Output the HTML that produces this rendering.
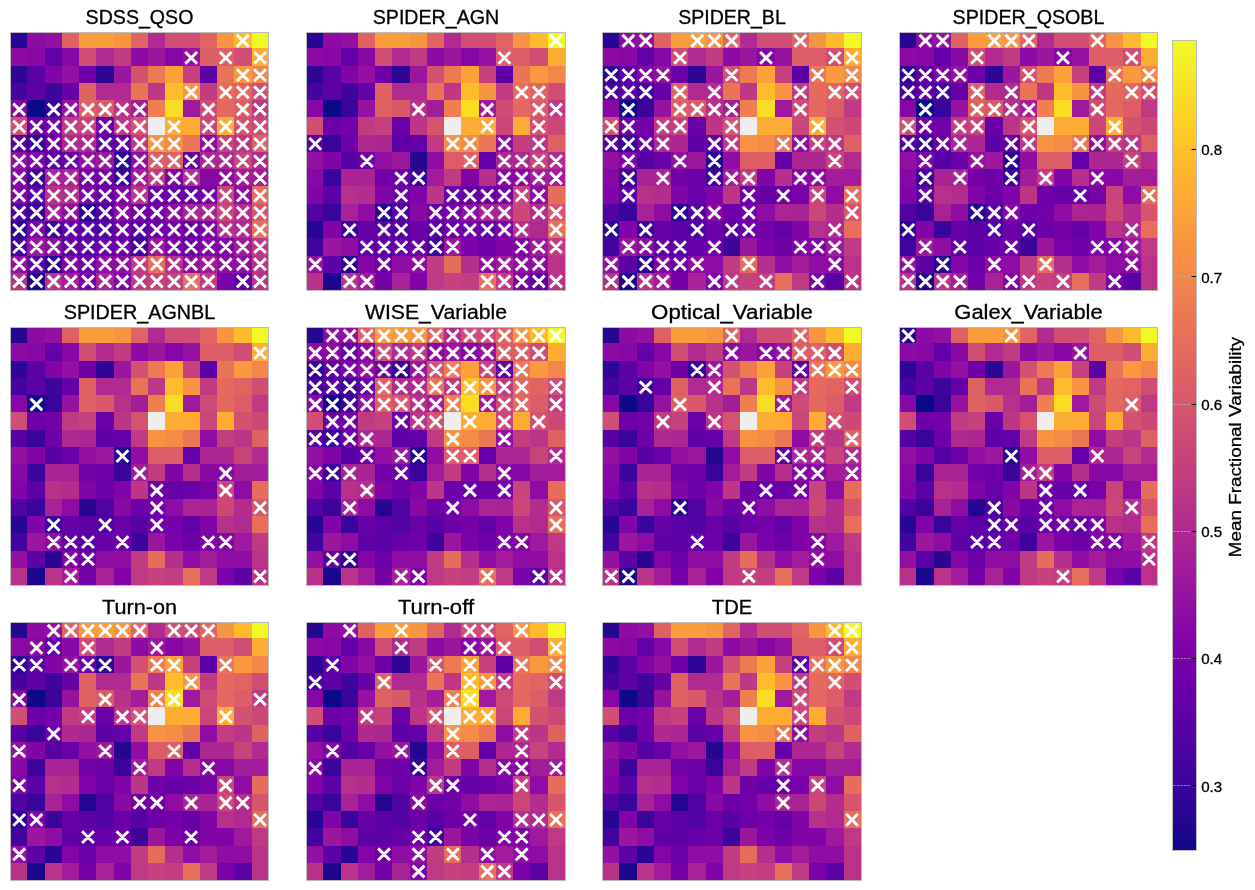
<!DOCTYPE html>
<html><head><meta charset="utf-8"><title>SOM variability</title>
<style>
html,body{margin:0;padding:0;background:#fff;}
body{width:1255px;height:890px;overflow:hidden;}
svg{display:block;will-change:transform;}
text{font-family:"Liberation Sans",sans-serif;fill:#000;stroke:#000;stroke-width:0.3px;}
.t{font-size:19.3px;text-anchor:middle;}
.k{font-size:14px;}
.l{font-size:17.0px;text-anchor:middle;}
.x{stroke:#fff;stroke-width:2.9;fill:none;}
.f{fill:none;stroke:#bcbcbc;stroke-width:1;}
</style></head><body>
<svg width="1255" height="890" viewBox="0 0 1255 890">
<g shape-rendering="crispEdges"><rect x="11" y="33" width="16" height="15" fill="#280592"/><rect x="27" y="33" width="18" height="15" fill="#8d0ba5"/><rect x="45" y="33" width="17" height="15" fill="#9410a2"/><rect x="62" y="33" width="17" height="15" fill="#df6263"/><rect x="79" y="33" width="17" height="15" fill="#fa9c3c"/><rect x="96" y="33" width="18" height="15" fill="#fa9e3b"/><rect x="114" y="33" width="17" height="15" fill="#f89540"/><rect x="131" y="33" width="17" height="15" fill="#e16462"/><rect x="148" y="33" width="17" height="15" fill="#b12a90"/><rect x="165" y="33" width="18" height="15" fill="#d04d73"/><rect x="183" y="33" width="17" height="15" fill="#d04d73"/><rect x="200" y="33" width="17" height="15" fill="#e16462"/><rect x="217" y="33" width="17" height="15" fill="#f89540"/><rect x="234" y="33" width="18" height="15" fill="#feba2c"/><rect x="252" y="33" width="16" height="15" fill="#f0f921"/><rect x="11" y="48" width="16" height="18" fill="#8d0ba5"/><rect x="27" y="48" width="18" height="18" fill="#8808a6"/><rect x="45" y="48" width="17" height="18" fill="#6300a7"/><rect x="62" y="48" width="17" height="18" fill="#8808a6"/><rect x="79" y="48" width="17" height="18" fill="#d04d73"/><rect x="96" y="48" width="18" height="18" fill="#b12a90"/><rect x="114" y="48" width="17" height="18" fill="#c13b82"/><rect x="131" y="48" width="17" height="18" fill="#8d0ba5"/><rect x="148" y="48" width="17" height="18" fill="#9a169f"/><rect x="165" y="48" width="18" height="18" fill="#8606a6"/><rect x="183" y="48" width="17" height="18" fill="#9613a1"/><rect x="200" y="48" width="17" height="18" fill="#dd5e66"/><rect x="217" y="48" width="17" height="18" fill="#dd5e66"/><rect x="234" y="48" width="18" height="18" fill="#d04d73"/><rect x="252" y="48" width="16" height="18" fill="#fdae32"/><rect x="11" y="66" width="16" height="17" fill="#2f0596"/><rect x="27" y="66" width="18" height="17" fill="#5c01a6"/><rect x="45" y="66" width="17" height="17" fill="#8104a7"/><rect x="62" y="66" width="17" height="17" fill="#9410a2"/><rect x="79" y="66" width="17" height="17" fill="#6e00a8"/><rect x="96" y="66" width="18" height="17" fill="#2f0596"/><rect x="114" y="66" width="17" height="17" fill="#9a169f"/><rect x="131" y="66" width="17" height="17" fill="#d35171"/><rect x="148" y="66" width="17" height="17" fill="#ed7a52"/><rect x="165" y="66" width="18" height="17" fill="#fba139"/><rect x="183" y="66" width="17" height="17" fill="#c6417d"/><rect x="200" y="66" width="17" height="17" fill="#5e01a6"/><rect x="217" y="66" width="17" height="17" fill="#ea7457"/><rect x="234" y="66" width="18" height="17" fill="#f9983e"/><rect x="252" y="66" width="16" height="17" fill="#f3874a"/><rect x="11" y="83" width="16" height="17" fill="#46039f"/><rect x="27" y="83" width="18" height="17" fill="#5c01a6"/><rect x="45" y="83" width="17" height="17" fill="#3f049c"/><rect x="62" y="83" width="17" height="17" fill="#6600a7"/><rect x="79" y="83" width="17" height="17" fill="#df6263"/><rect x="96" y="83" width="18" height="17" fill="#b12a90"/><rect x="114" y="83" width="17" height="17" fill="#b12a90"/><rect x="131" y="83" width="17" height="17" fill="#e97257"/><rect x="148" y="83" width="17" height="17" fill="#bd3786"/><rect x="165" y="83" width="18" height="17" fill="#febb2b"/><rect x="183" y="83" width="17" height="17" fill="#f79342"/><rect x="200" y="83" width="17" height="17" fill="#c13b82"/><rect x="217" y="83" width="17" height="17" fill="#e56a5d"/><rect x="234" y="83" width="18" height="17" fill="#e16462"/><rect x="252" y="83" width="16" height="17" fill="#d04d73"/><rect x="11" y="100" width="16" height="17" fill="#8606a6"/><rect x="27" y="100" width="18" height="17" fill="#0d0887"/><rect x="45" y="100" width="17" height="17" fill="#3a049a"/><rect x="62" y="100" width="17" height="17" fill="#9613a1"/><rect x="79" y="100" width="17" height="17" fill="#df6263"/><rect x="96" y="100" width="18" height="17" fill="#d9586a"/><rect x="114" y="100" width="17" height="17" fill="#b7318a"/><rect x="131" y="100" width="17" height="17" fill="#a21d9a"/><rect x="148" y="100" width="17" height="17" fill="#f07f4f"/><rect x="165" y="100" width="18" height="17" fill="#f9dc24"/><rect x="183" y="100" width="17" height="17" fill="#9e199d"/><rect x="200" y="100" width="17" height="17" fill="#ce4b75"/><rect x="217" y="100" width="17" height="17" fill="#e3685f"/><rect x="234" y="100" width="18" height="17" fill="#dc5d67"/><rect x="252" y="100" width="16" height="17" fill="#bf3984"/><rect x="11" y="117" width="16" height="18" fill="#d04d73"/><rect x="27" y="117" width="18" height="18" fill="#6e00a8"/><rect x="45" y="117" width="17" height="18" fill="#7201a8"/><rect x="62" y="117" width="17" height="18" fill="#c13b82"/><rect x="79" y="117" width="17" height="18" fill="#c6417d"/><rect x="96" y="117" width="18" height="18" fill="#6a00a8"/><rect x="114" y="117" width="17" height="18" fill="#bc3587"/><rect x="131" y="117" width="17" height="18" fill="#d5536f"/><rect x="148" y="117" width="17" height="18" fill="#eeeeee"/><rect x="165" y="117" width="18" height="18" fill="#fdac33"/><rect x="183" y="117" width="17" height="18" fill="#fdab33"/><rect x="200" y="117" width="17" height="18" fill="#ca457a"/><rect x="217" y="117" width="17" height="18" fill="#fdac33"/><rect x="234" y="117" width="18" height="18" fill="#d35171"/><rect x="252" y="117" width="16" height="18" fill="#cc4977"/><rect x="11" y="135" width="16" height="17" fill="#5601a4"/><rect x="27" y="135" width="18" height="17" fill="#3a049a"/><rect x="45" y="135" width="17" height="17" fill="#6e00a8"/><rect x="62" y="135" width="17" height="17" fill="#b02991"/><rect x="79" y="135" width="17" height="17" fill="#ad2793"/><rect x="96" y="135" width="18" height="17" fill="#5e01a6"/><rect x="114" y="135" width="17" height="17" fill="#6300a7"/><rect x="131" y="135" width="17" height="17" fill="#bf3984"/><rect x="148" y="135" width="17" height="17" fill="#f79342"/><rect x="165" y="135" width="18" height="17" fill="#f58c46"/><rect x="183" y="135" width="17" height="17" fill="#eb7655"/><rect x="200" y="135" width="17" height="17" fill="#8f0da4"/><rect x="217" y="135" width="17" height="17" fill="#c33d80"/><rect x="234" y="135" width="18" height="17" fill="#bc3587"/><rect x="252" y="135" width="16" height="17" fill="#df6263"/><rect x="11" y="152" width="16" height="17" fill="#9410a2"/><rect x="27" y="152" width="18" height="17" fill="#8104a7"/><rect x="45" y="152" width="17" height="17" fill="#5601a4"/><rect x="62" y="152" width="17" height="17" fill="#6a00a8"/><rect x="79" y="152" width="17" height="17" fill="#9410a2"/><rect x="96" y="152" width="18" height="17" fill="#9c179e"/><rect x="114" y="152" width="17" height="17" fill="#260591"/><rect x="131" y="152" width="17" height="17" fill="#8f0da4"/><rect x="148" y="152" width="17" height="17" fill="#dc5d67"/><rect x="165" y="152" width="18" height="17" fill="#dd5e66"/><rect x="183" y="152" width="17" height="17" fill="#6300a7"/><rect x="200" y="152" width="17" height="17" fill="#ad2793"/><rect x="217" y="152" width="17" height="17" fill="#ad2793"/><rect x="234" y="152" width="18" height="17" fill="#c8437b"/><rect x="252" y="152" width="16" height="17" fill="#b12a90"/><rect x="11" y="169" width="16" height="17" fill="#8808a6"/><rect x="27" y="169" width="18" height="17" fill="#3a049a"/><rect x="45" y="169" width="17" height="17" fill="#aa2395"/><rect x="62" y="169" width="17" height="17" fill="#aa2395"/><rect x="79" y="169" width="17" height="17" fill="#7201a8"/><rect x="96" y="169" width="18" height="17" fill="#6e00a8"/><rect x="114" y="169" width="17" height="17" fill="#3a049a"/><rect x="131" y="169" width="17" height="17" fill="#a11b9b"/><rect x="148" y="169" width="17" height="17" fill="#c13b82"/><rect x="165" y="169" width="18" height="17" fill="#8104a7"/><rect x="183" y="169" width="17" height="17" fill="#b52f8c"/><rect x="200" y="169" width="17" height="17" fill="#8808a6"/><rect x="217" y="169" width="17" height="17" fill="#8808a6"/><rect x="234" y="169" width="18" height="17" fill="#a21d9a"/><rect x="252" y="169" width="16" height="17" fill="#a11b9b"/><rect x="11" y="186" width="16" height="18" fill="#8004a8"/><rect x="27" y="186" width="18" height="18" fill="#5c01a6"/><rect x="45" y="186" width="17" height="18" fill="#b7318a"/><rect x="62" y="186" width="17" height="18" fill="#b32c8e"/><rect x="79" y="186" width="17" height="18" fill="#8004a8"/><rect x="96" y="186" width="18" height="18" fill="#6a00a8"/><rect x="114" y="186" width="17" height="18" fill="#8004a8"/><rect x="131" y="186" width="17" height="18" fill="#bc3587"/><rect x="148" y="186" width="17" height="18" fill="#6e00a8"/><rect x="165" y="186" width="18" height="18" fill="#6600a7"/><rect x="183" y="186" width="17" height="18" fill="#6a00a8"/><rect x="200" y="186" width="17" height="18" fill="#7801a8"/><rect x="217" y="186" width="17" height="18" fill="#c9447a"/><rect x="234" y="186" width="18" height="18" fill="#8e0ca4"/><rect x="252" y="186" width="16" height="18" fill="#e66c5c"/><rect x="11" y="204" width="16" height="17" fill="#5002a2"/><rect x="27" y="204" width="18" height="17" fill="#3a049a"/><rect x="45" y="204" width="17" height="17" fill="#a72197"/><rect x="62" y="204" width="17" height="17" fill="#8e0ca4"/><rect x="79" y="204" width="17" height="17" fill="#260591"/><rect x="96" y="204" width="18" height="17" fill="#5002a2"/><rect x="114" y="204" width="17" height="17" fill="#8a09a5"/><rect x="131" y="204" width="17" height="17" fill="#6e00a8"/><rect x="148" y="204" width="17" height="17" fill="#7201a8"/><rect x="165" y="204" width="18" height="17" fill="#8e0ca4"/><rect x="183" y="204" width="17" height="17" fill="#ab2494"/><rect x="200" y="204" width="17" height="17" fill="#aa2395"/><rect x="217" y="204" width="17" height="17" fill="#cc4778"/><rect x="234" y="204" width="18" height="17" fill="#b32c8e"/><rect x="252" y="204" width="16" height="17" fill="#d6556d"/><rect x="11" y="221" width="16" height="17" fill="#280592"/><rect x="27" y="221" width="18" height="17" fill="#8004a8"/><rect x="45" y="221" width="17" height="17" fill="#3a049a"/><rect x="62" y="221" width="17" height="17" fill="#6600a7"/><rect x="79" y="221" width="17" height="17" fill="#5c01a6"/><rect x="96" y="221" width="18" height="17" fill="#5002a2"/><rect x="114" y="221" width="17" height="17" fill="#6a00a8"/><rect x="131" y="221" width="17" height="17" fill="#5801a4"/><rect x="148" y="221" width="17" height="17" fill="#6e00a8"/><rect x="165" y="221" width="18" height="17" fill="#7501a8"/><rect x="183" y="221" width="17" height="17" fill="#6300a7"/><rect x="200" y="221" width="17" height="17" fill="#8004a8"/><rect x="217" y="221" width="17" height="17" fill="#b7318a"/><rect x="234" y="221" width="18" height="17" fill="#b12a90"/><rect x="252" y="221" width="16" height="17" fill="#e76e5b"/><rect x="11" y="238" width="16" height="18" fill="#43039e"/><rect x="27" y="238" width="18" height="18" fill="#9a169f"/><rect x="45" y="238" width="17" height="18" fill="#8e0ca4"/><rect x="62" y="238" width="17" height="18" fill="#6001a6"/><rect x="79" y="238" width="17" height="18" fill="#5c01a6"/><rect x="96" y="238" width="18" height="18" fill="#6700a8"/><rect x="114" y="238" width="17" height="18" fill="#6e00a8"/><rect x="131" y="238" width="17" height="18" fill="#3f049c"/><rect x="148" y="238" width="17" height="18" fill="#9a169f"/><rect x="165" y="238" width="18" height="18" fill="#7a02a8"/><rect x="183" y="238" width="17" height="18" fill="#6e00a8"/><rect x="200" y="238" width="17" height="18" fill="#8004a8"/><rect x="217" y="238" width="17" height="18" fill="#8104a7"/><rect x="234" y="238" width="18" height="18" fill="#9e199d"/><rect x="252" y="238" width="16" height="18" fill="#bf3984"/><rect x="11" y="256" width="16" height="17" fill="#9410a2"/><rect x="27" y="256" width="18" height="17" fill="#5c01a6"/><rect x="45" y="256" width="17" height="17" fill="#2a0593"/><rect x="62" y="256" width="17" height="17" fill="#8305a7"/><rect x="79" y="256" width="17" height="17" fill="#6c00a8"/><rect x="96" y="256" width="18" height="17" fill="#8e0ca4"/><rect x="114" y="256" width="17" height="17" fill="#8f0da4"/><rect x="131" y="256" width="17" height="17" fill="#c13b82"/><rect x="148" y="256" width="17" height="17" fill="#e66c5c"/><rect x="165" y="256" width="18" height="17" fill="#b52f8c"/><rect x="183" y="256" width="17" height="17" fill="#8f0da4"/><rect x="200" y="256" width="17" height="17" fill="#a11b9b"/><rect x="217" y="256" width="17" height="17" fill="#8f0da4"/><rect x="234" y="256" width="18" height="17" fill="#8e0ca4"/><rect x="252" y="256" width="16" height="17" fill="#ba3388"/><rect x="11" y="273" width="16" height="17" fill="#b7318a"/><rect x="27" y="273" width="18" height="17" fill="#1b068d"/><rect x="45" y="273" width="17" height="17" fill="#ba3388"/><rect x="62" y="273" width="17" height="17" fill="#a11b9b"/><rect x="79" y="273" width="17" height="17" fill="#7501a8"/><rect x="96" y="273" width="18" height="17" fill="#a72197"/><rect x="114" y="273" width="17" height="17" fill="#8004a8"/><rect x="131" y="273" width="17" height="17" fill="#bf3984"/><rect x="148" y="273" width="17" height="17" fill="#c6417d"/><rect x="165" y="273" width="18" height="17" fill="#c33d80"/><rect x="183" y="273" width="17" height="17" fill="#e76e5b"/><rect x="200" y="273" width="17" height="17" fill="#bf3984"/><rect x="217" y="273" width="17" height="17" fill="#7a02a8"/><rect x="234" y="273" width="18" height="17" fill="#5c01a6"/><rect x="252" y="273" width="16" height="17" fill="#ba3388"/></g>
<path class="x" d="M236.9 34.9l11.8 11.8m-11.8 0l11.8 -11.8M185.3 52.0l11.8 11.8m-11.8 0l11.8 -11.8M219.8 52.0l11.8 11.8m-11.8 0l11.8 -11.8M254.1 52.0l11.8 11.8m-11.8 0l11.8 -11.8M236.9 69.2l11.8 11.8m-11.8 0l11.8 -11.8M254.1 69.2l11.8 11.8m-11.8 0l11.8 -11.8M185.3 86.4l11.8 11.8m-11.8 0l11.8 -11.8M219.8 86.4l11.8 11.8m-11.8 0l11.8 -11.8M236.9 86.4l11.8 11.8m-11.8 0l11.8 -11.8M254.1 86.4l11.8 11.8m-11.8 0l11.8 -11.8M13.3 103.6l11.8 11.8m-11.8 0l11.8 -11.8M47.8 103.6l11.8 11.8m-11.8 0l11.8 -11.8M64.9 103.6l11.8 11.8m-11.8 0l11.8 -11.8M82.1 103.6l11.8 11.8m-11.8 0l11.8 -11.8M99.3 103.6l11.8 11.8m-11.8 0l11.8 -11.8M116.5 103.6l11.8 11.8m-11.8 0l11.8 -11.8M133.8 103.6l11.8 11.8m-11.8 0l11.8 -11.8M202.5 103.6l11.8 11.8m-11.8 0l11.8 -11.8M236.9 103.6l11.8 11.8m-11.8 0l11.8 -11.8M254.1 103.6l11.8 11.8m-11.8 0l11.8 -11.8M13.3 120.8l11.8 11.8m-11.8 0l11.8 -11.8M30.5 120.8l11.8 11.8m-11.8 0l11.8 -11.8M47.8 120.8l11.8 11.8m-11.8 0l11.8 -11.8M64.9 120.8l11.8 11.8m-11.8 0l11.8 -11.8M82.1 120.8l11.8 11.8m-11.8 0l11.8 -11.8M99.3 120.8l11.8 11.8m-11.8 0l11.8 -11.8M116.5 120.8l11.8 11.8m-11.8 0l11.8 -11.8M133.8 120.8l11.8 11.8m-11.8 0l11.8 -11.8M168.2 120.8l11.8 11.8m-11.8 0l11.8 -11.8M202.5 120.8l11.8 11.8m-11.8 0l11.8 -11.8M219.8 120.8l11.8 11.8m-11.8 0l11.8 -11.8M236.9 120.8l11.8 11.8m-11.8 0l11.8 -11.8M254.1 120.8l11.8 11.8m-11.8 0l11.8 -11.8M13.3 138.0l11.8 11.8m-11.8 0l11.8 -11.8M30.5 138.0l11.8 11.8m-11.8 0l11.8 -11.8M47.8 138.0l11.8 11.8m-11.8 0l11.8 -11.8M64.9 138.0l11.8 11.8m-11.8 0l11.8 -11.8M82.1 138.0l11.8 11.8m-11.8 0l11.8 -11.8M99.3 138.0l11.8 11.8m-11.8 0l11.8 -11.8M116.5 138.0l11.8 11.8m-11.8 0l11.8 -11.8M133.8 138.0l11.8 11.8m-11.8 0l11.8 -11.8M150.9 138.0l11.8 11.8m-11.8 0l11.8 -11.8M168.2 138.0l11.8 11.8m-11.8 0l11.8 -11.8M202.5 138.0l11.8 11.8m-11.8 0l11.8 -11.8M219.8 138.0l11.8 11.8m-11.8 0l11.8 -11.8M236.9 138.0l11.8 11.8m-11.8 0l11.8 -11.8M254.1 138.0l11.8 11.8m-11.8 0l11.8 -11.8M13.3 155.2l11.8 11.8m-11.8 0l11.8 -11.8M30.5 155.2l11.8 11.8m-11.8 0l11.8 -11.8M47.8 155.2l11.8 11.8m-11.8 0l11.8 -11.8M64.9 155.2l11.8 11.8m-11.8 0l11.8 -11.8M82.1 155.2l11.8 11.8m-11.8 0l11.8 -11.8M99.3 155.2l11.8 11.8m-11.8 0l11.8 -11.8M116.5 155.2l11.8 11.8m-11.8 0l11.8 -11.8M133.8 155.2l11.8 11.8m-11.8 0l11.8 -11.8M150.9 155.2l11.8 11.8m-11.8 0l11.8 -11.8M168.2 155.2l11.8 11.8m-11.8 0l11.8 -11.8M185.3 155.2l11.8 11.8m-11.8 0l11.8 -11.8M202.5 155.2l11.8 11.8m-11.8 0l11.8 -11.8M219.8 155.2l11.8 11.8m-11.8 0l11.8 -11.8M236.9 155.2l11.8 11.8m-11.8 0l11.8 -11.8M254.1 155.2l11.8 11.8m-11.8 0l11.8 -11.8M13.3 172.4l11.8 11.8m-11.8 0l11.8 -11.8M30.5 172.4l11.8 11.8m-11.8 0l11.8 -11.8M47.8 172.4l11.8 11.8m-11.8 0l11.8 -11.8M64.9 172.4l11.8 11.8m-11.8 0l11.8 -11.8M82.1 172.4l11.8 11.8m-11.8 0l11.8 -11.8M99.3 172.4l11.8 11.8m-11.8 0l11.8 -11.8M116.5 172.4l11.8 11.8m-11.8 0l11.8 -11.8M133.8 172.4l11.8 11.8m-11.8 0l11.8 -11.8M150.9 172.4l11.8 11.8m-11.8 0l11.8 -11.8M168.2 172.4l11.8 11.8m-11.8 0l11.8 -11.8M185.3 172.4l11.8 11.8m-11.8 0l11.8 -11.8M219.8 172.4l11.8 11.8m-11.8 0l11.8 -11.8M236.9 172.4l11.8 11.8m-11.8 0l11.8 -11.8M254.1 172.4l11.8 11.8m-11.8 0l11.8 -11.8M13.3 189.7l11.8 11.8m-11.8 0l11.8 -11.8M30.5 189.7l11.8 11.8m-11.8 0l11.8 -11.8M47.8 189.7l11.8 11.8m-11.8 0l11.8 -11.8M64.9 189.7l11.8 11.8m-11.8 0l11.8 -11.8M82.1 189.7l11.8 11.8m-11.8 0l11.8 -11.8M99.3 189.7l11.8 11.8m-11.8 0l11.8 -11.8M116.5 189.7l11.8 11.8m-11.8 0l11.8 -11.8M133.8 189.7l11.8 11.8m-11.8 0l11.8 -11.8M150.9 189.7l11.8 11.8m-11.8 0l11.8 -11.8M168.2 189.7l11.8 11.8m-11.8 0l11.8 -11.8M185.3 189.7l11.8 11.8m-11.8 0l11.8 -11.8M202.5 189.7l11.8 11.8m-11.8 0l11.8 -11.8M219.8 189.7l11.8 11.8m-11.8 0l11.8 -11.8M236.9 189.7l11.8 11.8m-11.8 0l11.8 -11.8M254.1 189.7l11.8 11.8m-11.8 0l11.8 -11.8M13.3 206.8l11.8 11.8m-11.8 0l11.8 -11.8M30.5 206.8l11.8 11.8m-11.8 0l11.8 -11.8M47.8 206.8l11.8 11.8m-11.8 0l11.8 -11.8M64.9 206.8l11.8 11.8m-11.8 0l11.8 -11.8M82.1 206.8l11.8 11.8m-11.8 0l11.8 -11.8M99.3 206.8l11.8 11.8m-11.8 0l11.8 -11.8M116.5 206.8l11.8 11.8m-11.8 0l11.8 -11.8M133.8 206.8l11.8 11.8m-11.8 0l11.8 -11.8M150.9 206.8l11.8 11.8m-11.8 0l11.8 -11.8M168.2 206.8l11.8 11.8m-11.8 0l11.8 -11.8M185.3 206.8l11.8 11.8m-11.8 0l11.8 -11.8M202.5 206.8l11.8 11.8m-11.8 0l11.8 -11.8M219.8 206.8l11.8 11.8m-11.8 0l11.8 -11.8M236.9 206.8l11.8 11.8m-11.8 0l11.8 -11.8M254.1 206.8l11.8 11.8m-11.8 0l11.8 -11.8M13.3 224.0l11.8 11.8m-11.8 0l11.8 -11.8M30.5 224.0l11.8 11.8m-11.8 0l11.8 -11.8M47.8 224.0l11.8 11.8m-11.8 0l11.8 -11.8M64.9 224.0l11.8 11.8m-11.8 0l11.8 -11.8M82.1 224.0l11.8 11.8m-11.8 0l11.8 -11.8M99.3 224.0l11.8 11.8m-11.8 0l11.8 -11.8M116.5 224.0l11.8 11.8m-11.8 0l11.8 -11.8M133.8 224.0l11.8 11.8m-11.8 0l11.8 -11.8M150.9 224.0l11.8 11.8m-11.8 0l11.8 -11.8M168.2 224.0l11.8 11.8m-11.8 0l11.8 -11.8M185.3 224.0l11.8 11.8m-11.8 0l11.8 -11.8M202.5 224.0l11.8 11.8m-11.8 0l11.8 -11.8M219.8 224.0l11.8 11.8m-11.8 0l11.8 -11.8M236.9 224.0l11.8 11.8m-11.8 0l11.8 -11.8M254.1 224.0l11.8 11.8m-11.8 0l11.8 -11.8M13.3 241.2l11.8 11.8m-11.8 0l11.8 -11.8M30.5 241.2l11.8 11.8m-11.8 0l11.8 -11.8M47.8 241.2l11.8 11.8m-11.8 0l11.8 -11.8M64.9 241.2l11.8 11.8m-11.8 0l11.8 -11.8M82.1 241.2l11.8 11.8m-11.8 0l11.8 -11.8M99.3 241.2l11.8 11.8m-11.8 0l11.8 -11.8M116.5 241.2l11.8 11.8m-11.8 0l11.8 -11.8M133.8 241.2l11.8 11.8m-11.8 0l11.8 -11.8M150.9 241.2l11.8 11.8m-11.8 0l11.8 -11.8M168.2 241.2l11.8 11.8m-11.8 0l11.8 -11.8M185.3 241.2l11.8 11.8m-11.8 0l11.8 -11.8M202.5 241.2l11.8 11.8m-11.8 0l11.8 -11.8M219.8 241.2l11.8 11.8m-11.8 0l11.8 -11.8M236.9 241.2l11.8 11.8m-11.8 0l11.8 -11.8M254.1 241.2l11.8 11.8m-11.8 0l11.8 -11.8M13.3 258.4l11.8 11.8m-11.8 0l11.8 -11.8M30.5 258.4l11.8 11.8m-11.8 0l11.8 -11.8M47.8 258.4l11.8 11.8m-11.8 0l11.8 -11.8M64.9 258.4l11.8 11.8m-11.8 0l11.8 -11.8M82.1 258.4l11.8 11.8m-11.8 0l11.8 -11.8M99.3 258.4l11.8 11.8m-11.8 0l11.8 -11.8M116.5 258.4l11.8 11.8m-11.8 0l11.8 -11.8M133.8 258.4l11.8 11.8m-11.8 0l11.8 -11.8M150.9 258.4l11.8 11.8m-11.8 0l11.8 -11.8M168.2 258.4l11.8 11.8m-11.8 0l11.8 -11.8M185.3 258.4l11.8 11.8m-11.8 0l11.8 -11.8M202.5 258.4l11.8 11.8m-11.8 0l11.8 -11.8M219.8 258.4l11.8 11.8m-11.8 0l11.8 -11.8M236.9 258.4l11.8 11.8m-11.8 0l11.8 -11.8M254.1 258.4l11.8 11.8m-11.8 0l11.8 -11.8M13.3 275.6l11.8 11.8m-11.8 0l11.8 -11.8M30.5 275.6l11.8 11.8m-11.8 0l11.8 -11.8M47.8 275.6l11.8 11.8m-11.8 0l11.8 -11.8M64.9 275.6l11.8 11.8m-11.8 0l11.8 -11.8M82.1 275.6l11.8 11.8m-11.8 0l11.8 -11.8M99.3 275.6l11.8 11.8m-11.8 0l11.8 -11.8M116.5 275.6l11.8 11.8m-11.8 0l11.8 -11.8M133.8 275.6l11.8 11.8m-11.8 0l11.8 -11.8M150.9 275.6l11.8 11.8m-11.8 0l11.8 -11.8M168.2 275.6l11.8 11.8m-11.8 0l11.8 -11.8M185.3 275.6l11.8 11.8m-11.8 0l11.8 -11.8M202.5 275.6l11.8 11.8m-11.8 0l11.8 -11.8M236.9 275.6l11.8 11.8m-11.8 0l11.8 -11.8M254.1 275.6l11.8 11.8m-11.8 0l11.8 -11.8"/>
<rect class="f" x="10.5" y="32.5" width="258.0" height="258.0"/>
<text class="t" x="139.5" y="23.8" textLength="107.8" lengthAdjust="spacingAndGlyphs">SDSS_QSO</text>
<g shape-rendering="crispEdges"><rect x="307" y="33" width="16" height="15" fill="#280592"/><rect x="323" y="33" width="18" height="15" fill="#8d0ba5"/><rect x="341" y="33" width="17" height="15" fill="#9410a2"/><rect x="358" y="33" width="17" height="15" fill="#df6263"/><rect x="375" y="33" width="17" height="15" fill="#fa9c3c"/><rect x="392" y="33" width="18" height="15" fill="#fa9e3b"/><rect x="410" y="33" width="17" height="15" fill="#f89540"/><rect x="427" y="33" width="17" height="15" fill="#e16462"/><rect x="444" y="33" width="17" height="15" fill="#b12a90"/><rect x="461" y="33" width="18" height="15" fill="#d04d73"/><rect x="479" y="33" width="17" height="15" fill="#d04d73"/><rect x="496" y="33" width="17" height="15" fill="#e16462"/><rect x="513" y="33" width="17" height="15" fill="#f89540"/><rect x="530" y="33" width="18" height="15" fill="#feba2c"/><rect x="548" y="33" width="17" height="15" fill="#f0f921"/><rect x="307" y="48" width="16" height="18" fill="#8d0ba5"/><rect x="323" y="48" width="18" height="18" fill="#8808a6"/><rect x="341" y="48" width="17" height="18" fill="#6300a7"/><rect x="358" y="48" width="17" height="18" fill="#8808a6"/><rect x="375" y="48" width="17" height="18" fill="#d04d73"/><rect x="392" y="48" width="18" height="18" fill="#b12a90"/><rect x="410" y="48" width="17" height="18" fill="#c13b82"/><rect x="427" y="48" width="17" height="18" fill="#8d0ba5"/><rect x="444" y="48" width="17" height="18" fill="#9a169f"/><rect x="461" y="48" width="18" height="18" fill="#8606a6"/><rect x="479" y="48" width="17" height="18" fill="#9613a1"/><rect x="496" y="48" width="17" height="18" fill="#dd5e66"/><rect x="513" y="48" width="17" height="18" fill="#dd5e66"/><rect x="530" y="48" width="18" height="18" fill="#d04d73"/><rect x="548" y="48" width="17" height="18" fill="#fdae32"/><rect x="307" y="66" width="16" height="17" fill="#2f0596"/><rect x="323" y="66" width="18" height="17" fill="#5c01a6"/><rect x="341" y="66" width="17" height="17" fill="#8104a7"/><rect x="358" y="66" width="17" height="17" fill="#9410a2"/><rect x="375" y="66" width="17" height="17" fill="#6e00a8"/><rect x="392" y="66" width="18" height="17" fill="#2f0596"/><rect x="410" y="66" width="17" height="17" fill="#9a169f"/><rect x="427" y="66" width="17" height="17" fill="#d35171"/><rect x="444" y="66" width="17" height="17" fill="#ed7a52"/><rect x="461" y="66" width="18" height="17" fill="#fba139"/><rect x="479" y="66" width="17" height="17" fill="#c6417d"/><rect x="496" y="66" width="17" height="17" fill="#5e01a6"/><rect x="513" y="66" width="17" height="17" fill="#ea7457"/><rect x="530" y="66" width="18" height="17" fill="#f9983e"/><rect x="548" y="66" width="17" height="17" fill="#f3874a"/><rect x="307" y="83" width="16" height="17" fill="#46039f"/><rect x="323" y="83" width="18" height="17" fill="#5c01a6"/><rect x="341" y="83" width="17" height="17" fill="#3f049c"/><rect x="358" y="83" width="17" height="17" fill="#6600a7"/><rect x="375" y="83" width="17" height="17" fill="#df6263"/><rect x="392" y="83" width="18" height="17" fill="#b12a90"/><rect x="410" y="83" width="17" height="17" fill="#b12a90"/><rect x="427" y="83" width="17" height="17" fill="#e97257"/><rect x="444" y="83" width="17" height="17" fill="#bd3786"/><rect x="461" y="83" width="18" height="17" fill="#febb2b"/><rect x="479" y="83" width="17" height="17" fill="#f79342"/><rect x="496" y="83" width="17" height="17" fill="#c13b82"/><rect x="513" y="83" width="17" height="17" fill="#e56a5d"/><rect x="530" y="83" width="18" height="17" fill="#e16462"/><rect x="548" y="83" width="17" height="17" fill="#d04d73"/><rect x="307" y="100" width="16" height="17" fill="#8606a6"/><rect x="323" y="100" width="18" height="17" fill="#0d0887"/><rect x="341" y="100" width="17" height="17" fill="#3a049a"/><rect x="358" y="100" width="17" height="17" fill="#9613a1"/><rect x="375" y="100" width="17" height="17" fill="#df6263"/><rect x="392" y="100" width="18" height="17" fill="#d9586a"/><rect x="410" y="100" width="17" height="17" fill="#b7318a"/><rect x="427" y="100" width="17" height="17" fill="#a21d9a"/><rect x="444" y="100" width="17" height="17" fill="#f07f4f"/><rect x="461" y="100" width="18" height="17" fill="#f9dc24"/><rect x="479" y="100" width="17" height="17" fill="#9e199d"/><rect x="496" y="100" width="17" height="17" fill="#ce4b75"/><rect x="513" y="100" width="17" height="17" fill="#e3685f"/><rect x="530" y="100" width="18" height="17" fill="#dc5d67"/><rect x="548" y="100" width="17" height="17" fill="#bf3984"/><rect x="307" y="117" width="16" height="18" fill="#d04d73"/><rect x="323" y="117" width="18" height="18" fill="#6e00a8"/><rect x="341" y="117" width="17" height="18" fill="#7201a8"/><rect x="358" y="117" width="17" height="18" fill="#c13b82"/><rect x="375" y="117" width="17" height="18" fill="#c6417d"/><rect x="392" y="117" width="18" height="18" fill="#6a00a8"/><rect x="410" y="117" width="17" height="18" fill="#bc3587"/><rect x="427" y="117" width="17" height="18" fill="#d5536f"/><rect x="444" y="117" width="17" height="18" fill="#eeeeee"/><rect x="461" y="117" width="18" height="18" fill="#fdac33"/><rect x="479" y="117" width="17" height="18" fill="#fdab33"/><rect x="496" y="117" width="17" height="18" fill="#ca457a"/><rect x="513" y="117" width="17" height="18" fill="#fdac33"/><rect x="530" y="117" width="18" height="18" fill="#d35171"/><rect x="548" y="117" width="17" height="18" fill="#cc4977"/><rect x="307" y="135" width="16" height="17" fill="#5601a4"/><rect x="323" y="135" width="18" height="17" fill="#3a049a"/><rect x="341" y="135" width="17" height="17" fill="#6e00a8"/><rect x="358" y="135" width="17" height="17" fill="#b02991"/><rect x="375" y="135" width="17" height="17" fill="#ad2793"/><rect x="392" y="135" width="18" height="17" fill="#5e01a6"/><rect x="410" y="135" width="17" height="17" fill="#6300a7"/><rect x="427" y="135" width="17" height="17" fill="#bf3984"/><rect x="444" y="135" width="17" height="17" fill="#f79342"/><rect x="461" y="135" width="18" height="17" fill="#f58c46"/><rect x="479" y="135" width="17" height="17" fill="#eb7655"/><rect x="496" y="135" width="17" height="17" fill="#8f0da4"/><rect x="513" y="135" width="17" height="17" fill="#c33d80"/><rect x="530" y="135" width="18" height="17" fill="#bc3587"/><rect x="548" y="135" width="17" height="17" fill="#df6263"/><rect x="307" y="152" width="16" height="17" fill="#9410a2"/><rect x="323" y="152" width="18" height="17" fill="#8104a7"/><rect x="341" y="152" width="17" height="17" fill="#5601a4"/><rect x="358" y="152" width="17" height="17" fill="#6a00a8"/><rect x="375" y="152" width="17" height="17" fill="#9410a2"/><rect x="392" y="152" width="18" height="17" fill="#9c179e"/><rect x="410" y="152" width="17" height="17" fill="#260591"/><rect x="427" y="152" width="17" height="17" fill="#8f0da4"/><rect x="444" y="152" width="17" height="17" fill="#dc5d67"/><rect x="461" y="152" width="18" height="17" fill="#dd5e66"/><rect x="479" y="152" width="17" height="17" fill="#6300a7"/><rect x="496" y="152" width="17" height="17" fill="#ad2793"/><rect x="513" y="152" width="17" height="17" fill="#ad2793"/><rect x="530" y="152" width="18" height="17" fill="#c8437b"/><rect x="548" y="152" width="17" height="17" fill="#b12a90"/><rect x="307" y="169" width="16" height="17" fill="#8808a6"/><rect x="323" y="169" width="18" height="17" fill="#3a049a"/><rect x="341" y="169" width="17" height="17" fill="#aa2395"/><rect x="358" y="169" width="17" height="17" fill="#aa2395"/><rect x="375" y="169" width="17" height="17" fill="#7201a8"/><rect x="392" y="169" width="18" height="17" fill="#6e00a8"/><rect x="410" y="169" width="17" height="17" fill="#3a049a"/><rect x="427" y="169" width="17" height="17" fill="#a11b9b"/><rect x="444" y="169" width="17" height="17" fill="#c13b82"/><rect x="461" y="169" width="18" height="17" fill="#8104a7"/><rect x="479" y="169" width="17" height="17" fill="#b52f8c"/><rect x="496" y="169" width="17" height="17" fill="#8808a6"/><rect x="513" y="169" width="17" height="17" fill="#8808a6"/><rect x="530" y="169" width="18" height="17" fill="#a21d9a"/><rect x="548" y="169" width="17" height="17" fill="#a11b9b"/><rect x="307" y="186" width="16" height="18" fill="#8004a8"/><rect x="323" y="186" width="18" height="18" fill="#5c01a6"/><rect x="341" y="186" width="17" height="18" fill="#b7318a"/><rect x="358" y="186" width="17" height="18" fill="#b32c8e"/><rect x="375" y="186" width="17" height="18" fill="#8004a8"/><rect x="392" y="186" width="18" height="18" fill="#6a00a8"/><rect x="410" y="186" width="17" height="18" fill="#8004a8"/><rect x="427" y="186" width="17" height="18" fill="#bc3587"/><rect x="444" y="186" width="17" height="18" fill="#6e00a8"/><rect x="461" y="186" width="18" height="18" fill="#6600a7"/><rect x="479" y="186" width="17" height="18" fill="#6a00a8"/><rect x="496" y="186" width="17" height="18" fill="#7801a8"/><rect x="513" y="186" width="17" height="18" fill="#c9447a"/><rect x="530" y="186" width="18" height="18" fill="#8e0ca4"/><rect x="548" y="186" width="17" height="18" fill="#e66c5c"/><rect x="307" y="204" width="16" height="17" fill="#5002a2"/><rect x="323" y="204" width="18" height="17" fill="#3a049a"/><rect x="341" y="204" width="17" height="17" fill="#a72197"/><rect x="358" y="204" width="17" height="17" fill="#8e0ca4"/><rect x="375" y="204" width="17" height="17" fill="#260591"/><rect x="392" y="204" width="18" height="17" fill="#5002a2"/><rect x="410" y="204" width="17" height="17" fill="#8a09a5"/><rect x="427" y="204" width="17" height="17" fill="#6e00a8"/><rect x="444" y="204" width="17" height="17" fill="#7201a8"/><rect x="461" y="204" width="18" height="17" fill="#8e0ca4"/><rect x="479" y="204" width="17" height="17" fill="#ab2494"/><rect x="496" y="204" width="17" height="17" fill="#aa2395"/><rect x="513" y="204" width="17" height="17" fill="#cc4778"/><rect x="530" y="204" width="18" height="17" fill="#b32c8e"/><rect x="548" y="204" width="17" height="17" fill="#d6556d"/><rect x="307" y="221" width="16" height="17" fill="#280592"/><rect x="323" y="221" width="18" height="17" fill="#8004a8"/><rect x="341" y="221" width="17" height="17" fill="#3a049a"/><rect x="358" y="221" width="17" height="17" fill="#6600a7"/><rect x="375" y="221" width="17" height="17" fill="#5c01a6"/><rect x="392" y="221" width="18" height="17" fill="#5002a2"/><rect x="410" y="221" width="17" height="17" fill="#6a00a8"/><rect x="427" y="221" width="17" height="17" fill="#5801a4"/><rect x="444" y="221" width="17" height="17" fill="#6e00a8"/><rect x="461" y="221" width="18" height="17" fill="#7501a8"/><rect x="479" y="221" width="17" height="17" fill="#6300a7"/><rect x="496" y="221" width="17" height="17" fill="#8004a8"/><rect x="513" y="221" width="17" height="17" fill="#b7318a"/><rect x="530" y="221" width="18" height="17" fill="#b12a90"/><rect x="548" y="221" width="17" height="17" fill="#e76e5b"/><rect x="307" y="238" width="16" height="18" fill="#43039e"/><rect x="323" y="238" width="18" height="18" fill="#9a169f"/><rect x="341" y="238" width="17" height="18" fill="#8e0ca4"/><rect x="358" y="238" width="17" height="18" fill="#6001a6"/><rect x="375" y="238" width="17" height="18" fill="#5c01a6"/><rect x="392" y="238" width="18" height="18" fill="#6700a8"/><rect x="410" y="238" width="17" height="18" fill="#6e00a8"/><rect x="427" y="238" width="17" height="18" fill="#3f049c"/><rect x="444" y="238" width="17" height="18" fill="#9a169f"/><rect x="461" y="238" width="18" height="18" fill="#7a02a8"/><rect x="479" y="238" width="17" height="18" fill="#6e00a8"/><rect x="496" y="238" width="17" height="18" fill="#8004a8"/><rect x="513" y="238" width="17" height="18" fill="#8104a7"/><rect x="530" y="238" width="18" height="18" fill="#9e199d"/><rect x="548" y="238" width="17" height="18" fill="#bf3984"/><rect x="307" y="256" width="16" height="17" fill="#9410a2"/><rect x="323" y="256" width="18" height="17" fill="#5c01a6"/><rect x="341" y="256" width="17" height="17" fill="#2a0593"/><rect x="358" y="256" width="17" height="17" fill="#8305a7"/><rect x="375" y="256" width="17" height="17" fill="#6c00a8"/><rect x="392" y="256" width="18" height="17" fill="#8e0ca4"/><rect x="410" y="256" width="17" height="17" fill="#8f0da4"/><rect x="427" y="256" width="17" height="17" fill="#c13b82"/><rect x="444" y="256" width="17" height="17" fill="#e66c5c"/><rect x="461" y="256" width="18" height="17" fill="#b52f8c"/><rect x="479" y="256" width="17" height="17" fill="#8f0da4"/><rect x="496" y="256" width="17" height="17" fill="#a11b9b"/><rect x="513" y="256" width="17" height="17" fill="#8f0da4"/><rect x="530" y="256" width="18" height="17" fill="#8e0ca4"/><rect x="548" y="256" width="17" height="17" fill="#ba3388"/><rect x="307" y="273" width="16" height="17" fill="#b7318a"/><rect x="323" y="273" width="18" height="17" fill="#1b068d"/><rect x="341" y="273" width="17" height="17" fill="#ba3388"/><rect x="358" y="273" width="17" height="17" fill="#a11b9b"/><rect x="375" y="273" width="17" height="17" fill="#7501a8"/><rect x="392" y="273" width="18" height="17" fill="#a72197"/><rect x="410" y="273" width="17" height="17" fill="#8004a8"/><rect x="427" y="273" width="17" height="17" fill="#bf3984"/><rect x="444" y="273" width="17" height="17" fill="#c6417d"/><rect x="461" y="273" width="18" height="17" fill="#c33d80"/><rect x="479" y="273" width="17" height="17" fill="#e76e5b"/><rect x="496" y="273" width="17" height="17" fill="#bf3984"/><rect x="513" y="273" width="17" height="17" fill="#7a02a8"/><rect x="530" y="273" width="18" height="17" fill="#5c01a6"/><rect x="548" y="273" width="17" height="17" fill="#ba3388"/></g>
<path class="x" d="M550.1 34.9l11.8 11.8m-11.8 0l11.8 -11.8M498.5 52.0l11.8 11.8m-11.8 0l11.8 -11.8M515.8 86.4l11.8 11.8m-11.8 0l11.8 -11.8M532.9 86.4l11.8 11.8m-11.8 0l11.8 -11.8M412.6 103.6l11.8 11.8m-11.8 0l11.8 -11.8M481.4 103.6l11.8 11.8m-11.8 0l11.8 -11.8M532.9 103.6l11.8 11.8m-11.8 0l11.8 -11.8M550.1 103.6l11.8 11.8m-11.8 0l11.8 -11.8M481.4 120.8l11.8 11.8m-11.8 0l11.8 -11.8M532.9 120.8l11.8 11.8m-11.8 0l11.8 -11.8M309.4 138.0l11.8 11.8m-11.8 0l11.8 -11.8M446.9 138.0l11.8 11.8m-11.8 0l11.8 -11.8M464.1 138.0l11.8 11.8m-11.8 0l11.8 -11.8M498.5 138.0l11.8 11.8m-11.8 0l11.8 -11.8M532.9 138.0l11.8 11.8m-11.8 0l11.8 -11.8M360.9 155.2l11.8 11.8m-11.8 0l11.8 -11.8M464.1 155.2l11.8 11.8m-11.8 0l11.8 -11.8M498.5 155.2l11.8 11.8m-11.8 0l11.8 -11.8M515.8 155.2l11.8 11.8m-11.8 0l11.8 -11.8M532.9 155.2l11.8 11.8m-11.8 0l11.8 -11.8M550.1 155.2l11.8 11.8m-11.8 0l11.8 -11.8M395.4 172.4l11.8 11.8m-11.8 0l11.8 -11.8M412.6 172.4l11.8 11.8m-11.8 0l11.8 -11.8M498.5 172.4l11.8 11.8m-11.8 0l11.8 -11.8M515.8 172.4l11.8 11.8m-11.8 0l11.8 -11.8M532.9 172.4l11.8 11.8m-11.8 0l11.8 -11.8M550.1 172.4l11.8 11.8m-11.8 0l11.8 -11.8M395.4 189.7l11.8 11.8m-11.8 0l11.8 -11.8M446.9 189.7l11.8 11.8m-11.8 0l11.8 -11.8M464.1 189.7l11.8 11.8m-11.8 0l11.8 -11.8M481.4 189.7l11.8 11.8m-11.8 0l11.8 -11.8M498.5 189.7l11.8 11.8m-11.8 0l11.8 -11.8M515.8 189.7l11.8 11.8m-11.8 0l11.8 -11.8M532.9 189.7l11.8 11.8m-11.8 0l11.8 -11.8M378.1 206.8l11.8 11.8m-11.8 0l11.8 -11.8M395.4 206.8l11.8 11.8m-11.8 0l11.8 -11.8M429.8 206.8l11.8 11.8m-11.8 0l11.8 -11.8M446.9 206.8l11.8 11.8m-11.8 0l11.8 -11.8M464.1 206.8l11.8 11.8m-11.8 0l11.8 -11.8M481.4 206.8l11.8 11.8m-11.8 0l11.8 -11.8M498.5 206.8l11.8 11.8m-11.8 0l11.8 -11.8M532.9 206.8l11.8 11.8m-11.8 0l11.8 -11.8M550.1 206.8l11.8 11.8m-11.8 0l11.8 -11.8M343.8 224.0l11.8 11.8m-11.8 0l11.8 -11.8M378.1 224.0l11.8 11.8m-11.8 0l11.8 -11.8M395.4 224.0l11.8 11.8m-11.8 0l11.8 -11.8M429.8 224.0l11.8 11.8m-11.8 0l11.8 -11.8M446.9 224.0l11.8 11.8m-11.8 0l11.8 -11.8M464.1 224.0l11.8 11.8m-11.8 0l11.8 -11.8M481.4 224.0l11.8 11.8m-11.8 0l11.8 -11.8M498.5 224.0l11.8 11.8m-11.8 0l11.8 -11.8M515.8 224.0l11.8 11.8m-11.8 0l11.8 -11.8M550.1 224.0l11.8 11.8m-11.8 0l11.8 -11.8M360.9 241.2l11.8 11.8m-11.8 0l11.8 -11.8M378.1 241.2l11.8 11.8m-11.8 0l11.8 -11.8M395.4 241.2l11.8 11.8m-11.8 0l11.8 -11.8M412.6 241.2l11.8 11.8m-11.8 0l11.8 -11.8M429.8 241.2l11.8 11.8m-11.8 0l11.8 -11.8M446.9 241.2l11.8 11.8m-11.8 0l11.8 -11.8M515.8 241.2l11.8 11.8m-11.8 0l11.8 -11.8M532.9 241.2l11.8 11.8m-11.8 0l11.8 -11.8M550.1 241.2l11.8 11.8m-11.8 0l11.8 -11.8M309.4 258.4l11.8 11.8m-11.8 0l11.8 -11.8M343.8 258.4l11.8 11.8m-11.8 0l11.8 -11.8M378.1 258.4l11.8 11.8m-11.8 0l11.8 -11.8M412.6 258.4l11.8 11.8m-11.8 0l11.8 -11.8M481.4 258.4l11.8 11.8m-11.8 0l11.8 -11.8M498.5 258.4l11.8 11.8m-11.8 0l11.8 -11.8M515.8 258.4l11.8 11.8m-11.8 0l11.8 -11.8M532.9 258.4l11.8 11.8m-11.8 0l11.8 -11.8M343.8 275.6l11.8 11.8m-11.8 0l11.8 -11.8M360.9 275.6l11.8 11.8m-11.8 0l11.8 -11.8M481.4 275.6l11.8 11.8m-11.8 0l11.8 -11.8M498.5 275.6l11.8 11.8m-11.8 0l11.8 -11.8M515.8 275.6l11.8 11.8m-11.8 0l11.8 -11.8M532.9 275.6l11.8 11.8m-11.8 0l11.8 -11.8M550.1 275.6l11.8 11.8m-11.8 0l11.8 -11.8"/>
<rect class="f" x="306.5" y="32.5" width="259.0" height="258.0"/>
<text class="t" x="436.0" y="23.8" textLength="126.6" lengthAdjust="spacingAndGlyphs">SPIDER_AGN</text>
<g shape-rendering="crispEdges"><rect x="603" y="33" width="16" height="15" fill="#280592"/><rect x="619" y="33" width="18" height="15" fill="#8d0ba5"/><rect x="637" y="33" width="17" height="15" fill="#9410a2"/><rect x="654" y="33" width="17" height="15" fill="#df6263"/><rect x="671" y="33" width="17" height="15" fill="#fa9c3c"/><rect x="688" y="33" width="18" height="15" fill="#fa9e3b"/><rect x="706" y="33" width="17" height="15" fill="#f89540"/><rect x="723" y="33" width="17" height="15" fill="#e16462"/><rect x="740" y="33" width="17" height="15" fill="#b12a90"/><rect x="757" y="33" width="18" height="15" fill="#d04d73"/><rect x="775" y="33" width="17" height="15" fill="#d04d73"/><rect x="792" y="33" width="17" height="15" fill="#e16462"/><rect x="809" y="33" width="17" height="15" fill="#f89540"/><rect x="826" y="33" width="18" height="15" fill="#feba2c"/><rect x="844" y="33" width="17" height="15" fill="#f0f921"/><rect x="603" y="48" width="16" height="18" fill="#8d0ba5"/><rect x="619" y="48" width="18" height="18" fill="#8808a6"/><rect x="637" y="48" width="17" height="18" fill="#6300a7"/><rect x="654" y="48" width="17" height="18" fill="#8808a6"/><rect x="671" y="48" width="17" height="18" fill="#d04d73"/><rect x="688" y="48" width="18" height="18" fill="#b12a90"/><rect x="706" y="48" width="17" height="18" fill="#c13b82"/><rect x="723" y="48" width="17" height="18" fill="#8d0ba5"/><rect x="740" y="48" width="17" height="18" fill="#9a169f"/><rect x="757" y="48" width="18" height="18" fill="#8606a6"/><rect x="775" y="48" width="17" height="18" fill="#9613a1"/><rect x="792" y="48" width="17" height="18" fill="#dd5e66"/><rect x="809" y="48" width="17" height="18" fill="#dd5e66"/><rect x="826" y="48" width="18" height="18" fill="#d04d73"/><rect x="844" y="48" width="17" height="18" fill="#fdae32"/><rect x="603" y="66" width="16" height="17" fill="#2f0596"/><rect x="619" y="66" width="18" height="17" fill="#5c01a6"/><rect x="637" y="66" width="17" height="17" fill="#8104a7"/><rect x="654" y="66" width="17" height="17" fill="#9410a2"/><rect x="671" y="66" width="17" height="17" fill="#6e00a8"/><rect x="688" y="66" width="18" height="17" fill="#2f0596"/><rect x="706" y="66" width="17" height="17" fill="#9a169f"/><rect x="723" y="66" width="17" height="17" fill="#d35171"/><rect x="740" y="66" width="17" height="17" fill="#ed7a52"/><rect x="757" y="66" width="18" height="17" fill="#fba139"/><rect x="775" y="66" width="17" height="17" fill="#c6417d"/><rect x="792" y="66" width="17" height="17" fill="#5e01a6"/><rect x="809" y="66" width="17" height="17" fill="#ea7457"/><rect x="826" y="66" width="18" height="17" fill="#f9983e"/><rect x="844" y="66" width="17" height="17" fill="#f3874a"/><rect x="603" y="83" width="16" height="17" fill="#46039f"/><rect x="619" y="83" width="18" height="17" fill="#5c01a6"/><rect x="637" y="83" width="17" height="17" fill="#3f049c"/><rect x="654" y="83" width="17" height="17" fill="#6600a7"/><rect x="671" y="83" width="17" height="17" fill="#df6263"/><rect x="688" y="83" width="18" height="17" fill="#b12a90"/><rect x="706" y="83" width="17" height="17" fill="#b12a90"/><rect x="723" y="83" width="17" height="17" fill="#e97257"/><rect x="740" y="83" width="17" height="17" fill="#bd3786"/><rect x="757" y="83" width="18" height="17" fill="#febb2b"/><rect x="775" y="83" width="17" height="17" fill="#f79342"/><rect x="792" y="83" width="17" height="17" fill="#c13b82"/><rect x="809" y="83" width="17" height="17" fill="#e56a5d"/><rect x="826" y="83" width="18" height="17" fill="#e16462"/><rect x="844" y="83" width="17" height="17" fill="#d04d73"/><rect x="603" y="100" width="16" height="17" fill="#8606a6"/><rect x="619" y="100" width="18" height="17" fill="#0d0887"/><rect x="637" y="100" width="17" height="17" fill="#3a049a"/><rect x="654" y="100" width="17" height="17" fill="#9613a1"/><rect x="671" y="100" width="17" height="17" fill="#df6263"/><rect x="688" y="100" width="18" height="17" fill="#d9586a"/><rect x="706" y="100" width="17" height="17" fill="#b7318a"/><rect x="723" y="100" width="17" height="17" fill="#a21d9a"/><rect x="740" y="100" width="17" height="17" fill="#f07f4f"/><rect x="757" y="100" width="18" height="17" fill="#f9dc24"/><rect x="775" y="100" width="17" height="17" fill="#9e199d"/><rect x="792" y="100" width="17" height="17" fill="#ce4b75"/><rect x="809" y="100" width="17" height="17" fill="#e3685f"/><rect x="826" y="100" width="18" height="17" fill="#dc5d67"/><rect x="844" y="100" width="17" height="17" fill="#bf3984"/><rect x="603" y="117" width="16" height="18" fill="#d04d73"/><rect x="619" y="117" width="18" height="18" fill="#6e00a8"/><rect x="637" y="117" width="17" height="18" fill="#7201a8"/><rect x="654" y="117" width="17" height="18" fill="#c13b82"/><rect x="671" y="117" width="17" height="18" fill="#c6417d"/><rect x="688" y="117" width="18" height="18" fill="#6a00a8"/><rect x="706" y="117" width="17" height="18" fill="#bc3587"/><rect x="723" y="117" width="17" height="18" fill="#d5536f"/><rect x="740" y="117" width="17" height="18" fill="#eeeeee"/><rect x="757" y="117" width="18" height="18" fill="#fdac33"/><rect x="775" y="117" width="17" height="18" fill="#fdab33"/><rect x="792" y="117" width="17" height="18" fill="#ca457a"/><rect x="809" y="117" width="17" height="18" fill="#fdac33"/><rect x="826" y="117" width="18" height="18" fill="#d35171"/><rect x="844" y="117" width="17" height="18" fill="#cc4977"/><rect x="603" y="135" width="16" height="17" fill="#5601a4"/><rect x="619" y="135" width="18" height="17" fill="#3a049a"/><rect x="637" y="135" width="17" height="17" fill="#6e00a8"/><rect x="654" y="135" width="17" height="17" fill="#b02991"/><rect x="671" y="135" width="17" height="17" fill="#ad2793"/><rect x="688" y="135" width="18" height="17" fill="#5e01a6"/><rect x="706" y="135" width="17" height="17" fill="#6300a7"/><rect x="723" y="135" width="17" height="17" fill="#bf3984"/><rect x="740" y="135" width="17" height="17" fill="#f79342"/><rect x="757" y="135" width="18" height="17" fill="#f58c46"/><rect x="775" y="135" width="17" height="17" fill="#eb7655"/><rect x="792" y="135" width="17" height="17" fill="#8f0da4"/><rect x="809" y="135" width="17" height="17" fill="#c33d80"/><rect x="826" y="135" width="18" height="17" fill="#bc3587"/><rect x="844" y="135" width="17" height="17" fill="#df6263"/><rect x="603" y="152" width="16" height="17" fill="#9410a2"/><rect x="619" y="152" width="18" height="17" fill="#8104a7"/><rect x="637" y="152" width="17" height="17" fill="#5601a4"/><rect x="654" y="152" width="17" height="17" fill="#6a00a8"/><rect x="671" y="152" width="17" height="17" fill="#9410a2"/><rect x="688" y="152" width="18" height="17" fill="#9c179e"/><rect x="706" y="152" width="17" height="17" fill="#260591"/><rect x="723" y="152" width="17" height="17" fill="#8f0da4"/><rect x="740" y="152" width="17" height="17" fill="#dc5d67"/><rect x="757" y="152" width="18" height="17" fill="#dd5e66"/><rect x="775" y="152" width="17" height="17" fill="#6300a7"/><rect x="792" y="152" width="17" height="17" fill="#ad2793"/><rect x="809" y="152" width="17" height="17" fill="#ad2793"/><rect x="826" y="152" width="18" height="17" fill="#c8437b"/><rect x="844" y="152" width="17" height="17" fill="#b12a90"/><rect x="603" y="169" width="16" height="17" fill="#8808a6"/><rect x="619" y="169" width="18" height="17" fill="#3a049a"/><rect x="637" y="169" width="17" height="17" fill="#aa2395"/><rect x="654" y="169" width="17" height="17" fill="#aa2395"/><rect x="671" y="169" width="17" height="17" fill="#7201a8"/><rect x="688" y="169" width="18" height="17" fill="#6e00a8"/><rect x="706" y="169" width="17" height="17" fill="#3a049a"/><rect x="723" y="169" width="17" height="17" fill="#a11b9b"/><rect x="740" y="169" width="17" height="17" fill="#c13b82"/><rect x="757" y="169" width="18" height="17" fill="#8104a7"/><rect x="775" y="169" width="17" height="17" fill="#b52f8c"/><rect x="792" y="169" width="17" height="17" fill="#8808a6"/><rect x="809" y="169" width="17" height="17" fill="#8808a6"/><rect x="826" y="169" width="18" height="17" fill="#a21d9a"/><rect x="844" y="169" width="17" height="17" fill="#a11b9b"/><rect x="603" y="186" width="16" height="18" fill="#8004a8"/><rect x="619" y="186" width="18" height="18" fill="#5c01a6"/><rect x="637" y="186" width="17" height="18" fill="#b7318a"/><rect x="654" y="186" width="17" height="18" fill="#b32c8e"/><rect x="671" y="186" width="17" height="18" fill="#8004a8"/><rect x="688" y="186" width="18" height="18" fill="#6a00a8"/><rect x="706" y="186" width="17" height="18" fill="#8004a8"/><rect x="723" y="186" width="17" height="18" fill="#bc3587"/><rect x="740" y="186" width="17" height="18" fill="#6e00a8"/><rect x="757" y="186" width="18" height="18" fill="#6600a7"/><rect x="775" y="186" width="17" height="18" fill="#6a00a8"/><rect x="792" y="186" width="17" height="18" fill="#7801a8"/><rect x="809" y="186" width="17" height="18" fill="#c9447a"/><rect x="826" y="186" width="18" height="18" fill="#8e0ca4"/><rect x="844" y="186" width="17" height="18" fill="#e66c5c"/><rect x="603" y="204" width="16" height="17" fill="#5002a2"/><rect x="619" y="204" width="18" height="17" fill="#3a049a"/><rect x="637" y="204" width="17" height="17" fill="#a72197"/><rect x="654" y="204" width="17" height="17" fill="#8e0ca4"/><rect x="671" y="204" width="17" height="17" fill="#260591"/><rect x="688" y="204" width="18" height="17" fill="#5002a2"/><rect x="706" y="204" width="17" height="17" fill="#8a09a5"/><rect x="723" y="204" width="17" height="17" fill="#6e00a8"/><rect x="740" y="204" width="17" height="17" fill="#7201a8"/><rect x="757" y="204" width="18" height="17" fill="#8e0ca4"/><rect x="775" y="204" width="17" height="17" fill="#ab2494"/><rect x="792" y="204" width="17" height="17" fill="#aa2395"/><rect x="809" y="204" width="17" height="17" fill="#cc4778"/><rect x="826" y="204" width="18" height="17" fill="#b32c8e"/><rect x="844" y="204" width="17" height="17" fill="#d6556d"/><rect x="603" y="221" width="16" height="17" fill="#280592"/><rect x="619" y="221" width="18" height="17" fill="#8004a8"/><rect x="637" y="221" width="17" height="17" fill="#3a049a"/><rect x="654" y="221" width="17" height="17" fill="#6600a7"/><rect x="671" y="221" width="17" height="17" fill="#5c01a6"/><rect x="688" y="221" width="18" height="17" fill="#5002a2"/><rect x="706" y="221" width="17" height="17" fill="#6a00a8"/><rect x="723" y="221" width="17" height="17" fill="#5801a4"/><rect x="740" y="221" width="17" height="17" fill="#6e00a8"/><rect x="757" y="221" width="18" height="17" fill="#7501a8"/><rect x="775" y="221" width="17" height="17" fill="#6300a7"/><rect x="792" y="221" width="17" height="17" fill="#8004a8"/><rect x="809" y="221" width="17" height="17" fill="#b7318a"/><rect x="826" y="221" width="18" height="17" fill="#b12a90"/><rect x="844" y="221" width="17" height="17" fill="#e76e5b"/><rect x="603" y="238" width="16" height="18" fill="#43039e"/><rect x="619" y="238" width="18" height="18" fill="#9a169f"/><rect x="637" y="238" width="17" height="18" fill="#8e0ca4"/><rect x="654" y="238" width="17" height="18" fill="#6001a6"/><rect x="671" y="238" width="17" height="18" fill="#5c01a6"/><rect x="688" y="238" width="18" height="18" fill="#6700a8"/><rect x="706" y="238" width="17" height="18" fill="#6e00a8"/><rect x="723" y="238" width="17" height="18" fill="#3f049c"/><rect x="740" y="238" width="17" height="18" fill="#9a169f"/><rect x="757" y="238" width="18" height="18" fill="#7a02a8"/><rect x="775" y="238" width="17" height="18" fill="#6e00a8"/><rect x="792" y="238" width="17" height="18" fill="#8004a8"/><rect x="809" y="238" width="17" height="18" fill="#8104a7"/><rect x="826" y="238" width="18" height="18" fill="#9e199d"/><rect x="844" y="238" width="17" height="18" fill="#bf3984"/><rect x="603" y="256" width="16" height="17" fill="#9410a2"/><rect x="619" y="256" width="18" height="17" fill="#5c01a6"/><rect x="637" y="256" width="17" height="17" fill="#2a0593"/><rect x="654" y="256" width="17" height="17" fill="#8305a7"/><rect x="671" y="256" width="17" height="17" fill="#6c00a8"/><rect x="688" y="256" width="18" height="17" fill="#8e0ca4"/><rect x="706" y="256" width="17" height="17" fill="#8f0da4"/><rect x="723" y="256" width="17" height="17" fill="#c13b82"/><rect x="740" y="256" width="17" height="17" fill="#e66c5c"/><rect x="757" y="256" width="18" height="17" fill="#b52f8c"/><rect x="775" y="256" width="17" height="17" fill="#8f0da4"/><rect x="792" y="256" width="17" height="17" fill="#a11b9b"/><rect x="809" y="256" width="17" height="17" fill="#8f0da4"/><rect x="826" y="256" width="18" height="17" fill="#8e0ca4"/><rect x="844" y="256" width="17" height="17" fill="#ba3388"/><rect x="603" y="273" width="16" height="17" fill="#b7318a"/><rect x="619" y="273" width="18" height="17" fill="#1b068d"/><rect x="637" y="273" width="17" height="17" fill="#ba3388"/><rect x="654" y="273" width="17" height="17" fill="#a11b9b"/><rect x="671" y="273" width="17" height="17" fill="#7501a8"/><rect x="688" y="273" width="18" height="17" fill="#a72197"/><rect x="706" y="273" width="17" height="17" fill="#8004a8"/><rect x="723" y="273" width="17" height="17" fill="#bf3984"/><rect x="740" y="273" width="17" height="17" fill="#c6417d"/><rect x="757" y="273" width="18" height="17" fill="#c33d80"/><rect x="775" y="273" width="17" height="17" fill="#e76e5b"/><rect x="792" y="273" width="17" height="17" fill="#bf3984"/><rect x="809" y="273" width="17" height="17" fill="#7a02a8"/><rect x="826" y="273" width="18" height="17" fill="#5c01a6"/><rect x="844" y="273" width="17" height="17" fill="#ba3388"/></g>
<path class="x" d="M622.5 34.9l11.8 11.8m-11.8 0l11.8 -11.8M639.8 34.9l11.8 11.8m-11.8 0l11.8 -11.8M691.4 34.9l11.8 11.8m-11.8 0l11.8 -11.8M708.5 34.9l11.8 11.8m-11.8 0l11.8 -11.8M725.8 34.9l11.8 11.8m-11.8 0l11.8 -11.8M794.5 34.9l11.8 11.8m-11.8 0l11.8 -11.8M674.1 52.0l11.8 11.8m-11.8 0l11.8 -11.8M760.1 52.0l11.8 11.8m-11.8 0l11.8 -11.8M828.9 52.0l11.8 11.8m-11.8 0l11.8 -11.8M846.1 52.0l11.8 11.8m-11.8 0l11.8 -11.8M605.4 69.2l11.8 11.8m-11.8 0l11.8 -11.8M622.5 69.2l11.8 11.8m-11.8 0l11.8 -11.8M639.8 69.2l11.8 11.8m-11.8 0l11.8 -11.8M657.0 69.2l11.8 11.8m-11.8 0l11.8 -11.8M725.8 69.2l11.8 11.8m-11.8 0l11.8 -11.8M811.8 69.2l11.8 11.8m-11.8 0l11.8 -11.8M846.1 69.2l11.8 11.8m-11.8 0l11.8 -11.8M605.4 86.4l11.8 11.8m-11.8 0l11.8 -11.8M622.5 86.4l11.8 11.8m-11.8 0l11.8 -11.8M639.8 86.4l11.8 11.8m-11.8 0l11.8 -11.8M674.1 86.4l11.8 11.8m-11.8 0l11.8 -11.8M708.5 86.4l11.8 11.8m-11.8 0l11.8 -11.8M794.5 86.4l11.8 11.8m-11.8 0l11.8 -11.8M828.9 86.4l11.8 11.8m-11.8 0l11.8 -11.8M846.1 86.4l11.8 11.8m-11.8 0l11.8 -11.8M622.5 103.6l11.8 11.8m-11.8 0l11.8 -11.8M674.1 103.6l11.8 11.8m-11.8 0l11.8 -11.8M691.4 103.6l11.8 11.8m-11.8 0l11.8 -11.8M708.5 103.6l11.8 11.8m-11.8 0l11.8 -11.8M725.8 103.6l11.8 11.8m-11.8 0l11.8 -11.8M794.5 103.6l11.8 11.8m-11.8 0l11.8 -11.8M605.4 120.8l11.8 11.8m-11.8 0l11.8 -11.8M622.5 120.8l11.8 11.8m-11.8 0l11.8 -11.8M657.0 120.8l11.8 11.8m-11.8 0l11.8 -11.8M674.1 120.8l11.8 11.8m-11.8 0l11.8 -11.8M725.8 120.8l11.8 11.8m-11.8 0l11.8 -11.8M811.8 120.8l11.8 11.8m-11.8 0l11.8 -11.8M605.4 138.0l11.8 11.8m-11.8 0l11.8 -11.8M622.5 138.0l11.8 11.8m-11.8 0l11.8 -11.8M639.8 138.0l11.8 11.8m-11.8 0l11.8 -11.8M657.0 138.0l11.8 11.8m-11.8 0l11.8 -11.8M708.5 138.0l11.8 11.8m-11.8 0l11.8 -11.8M725.8 138.0l11.8 11.8m-11.8 0l11.8 -11.8M777.4 138.0l11.8 11.8m-11.8 0l11.8 -11.8M794.5 138.0l11.8 11.8m-11.8 0l11.8 -11.8M811.8 138.0l11.8 11.8m-11.8 0l11.8 -11.8M828.9 138.0l11.8 11.8m-11.8 0l11.8 -11.8M622.5 155.2l11.8 11.8m-11.8 0l11.8 -11.8M674.1 155.2l11.8 11.8m-11.8 0l11.8 -11.8M708.5 155.2l11.8 11.8m-11.8 0l11.8 -11.8M828.9 155.2l11.8 11.8m-11.8 0l11.8 -11.8M622.5 172.4l11.8 11.8m-11.8 0l11.8 -11.8M657.0 172.4l11.8 11.8m-11.8 0l11.8 -11.8M708.5 172.4l11.8 11.8m-11.8 0l11.8 -11.8M725.8 172.4l11.8 11.8m-11.8 0l11.8 -11.8M742.9 172.4l11.8 11.8m-11.8 0l11.8 -11.8M794.5 172.4l11.8 11.8m-11.8 0l11.8 -11.8M811.8 172.4l11.8 11.8m-11.8 0l11.8 -11.8M622.5 189.7l11.8 11.8m-11.8 0l11.8 -11.8M742.9 189.7l11.8 11.8m-11.8 0l11.8 -11.8M777.4 189.7l11.8 11.8m-11.8 0l11.8 -11.8M811.8 189.7l11.8 11.8m-11.8 0l11.8 -11.8M846.1 189.7l11.8 11.8m-11.8 0l11.8 -11.8M674.1 206.8l11.8 11.8m-11.8 0l11.8 -11.8M691.4 206.8l11.8 11.8m-11.8 0l11.8 -11.8M708.5 206.8l11.8 11.8m-11.8 0l11.8 -11.8M742.9 206.8l11.8 11.8m-11.8 0l11.8 -11.8M846.1 206.8l11.8 11.8m-11.8 0l11.8 -11.8M605.4 224.0l11.8 11.8m-11.8 0l11.8 -11.8M639.8 224.0l11.8 11.8m-11.8 0l11.8 -11.8M691.4 224.0l11.8 11.8m-11.8 0l11.8 -11.8M725.8 224.0l11.8 11.8m-11.8 0l11.8 -11.8M742.9 224.0l11.8 11.8m-11.8 0l11.8 -11.8M828.9 224.0l11.8 11.8m-11.8 0l11.8 -11.8M622.5 241.2l11.8 11.8m-11.8 0l11.8 -11.8M639.8 241.2l11.8 11.8m-11.8 0l11.8 -11.8M657.0 241.2l11.8 11.8m-11.8 0l11.8 -11.8M674.1 241.2l11.8 11.8m-11.8 0l11.8 -11.8M708.5 241.2l11.8 11.8m-11.8 0l11.8 -11.8M794.5 241.2l11.8 11.8m-11.8 0l11.8 -11.8M811.8 241.2l11.8 11.8m-11.8 0l11.8 -11.8M828.9 241.2l11.8 11.8m-11.8 0l11.8 -11.8M605.4 258.4l11.8 11.8m-11.8 0l11.8 -11.8M639.8 258.4l11.8 11.8m-11.8 0l11.8 -11.8M657.0 258.4l11.8 11.8m-11.8 0l11.8 -11.8M674.1 258.4l11.8 11.8m-11.8 0l11.8 -11.8M691.4 258.4l11.8 11.8m-11.8 0l11.8 -11.8M742.9 258.4l11.8 11.8m-11.8 0l11.8 -11.8M828.9 258.4l11.8 11.8m-11.8 0l11.8 -11.8M605.4 275.6l11.8 11.8m-11.8 0l11.8 -11.8M622.5 275.6l11.8 11.8m-11.8 0l11.8 -11.8M639.8 275.6l11.8 11.8m-11.8 0l11.8 -11.8M657.0 275.6l11.8 11.8m-11.8 0l11.8 -11.8M708.5 275.6l11.8 11.8m-11.8 0l11.8 -11.8M725.8 275.6l11.8 11.8m-11.8 0l11.8 -11.8M760.1 275.6l11.8 11.8m-11.8 0l11.8 -11.8M811.8 275.6l11.8 11.8m-11.8 0l11.8 -11.8M846.1 275.6l11.8 11.8m-11.8 0l11.8 -11.8"/>
<rect class="f" x="602.5" y="32.5" width="259.0" height="258.0"/>
<text class="t" x="732.0" y="23.8" textLength="107.6" lengthAdjust="spacingAndGlyphs">SPIDER_BL</text>
<g shape-rendering="crispEdges"><rect x="900" y="33" width="16" height="15" fill="#280592"/><rect x="916" y="33" width="18" height="15" fill="#8d0ba5"/><rect x="934" y="33" width="17" height="15" fill="#9410a2"/><rect x="951" y="33" width="17" height="15" fill="#df6263"/><rect x="968" y="33" width="17" height="15" fill="#fa9c3c"/><rect x="985" y="33" width="18" height="15" fill="#fa9e3b"/><rect x="1003" y="33" width="17" height="15" fill="#f89540"/><rect x="1020" y="33" width="17" height="15" fill="#e16462"/><rect x="1037" y="33" width="17" height="15" fill="#b12a90"/><rect x="1054" y="33" width="18" height="15" fill="#d04d73"/><rect x="1072" y="33" width="17" height="15" fill="#d04d73"/><rect x="1089" y="33" width="17" height="15" fill="#e16462"/><rect x="1106" y="33" width="17" height="15" fill="#f89540"/><rect x="1123" y="33" width="18" height="15" fill="#feba2c"/><rect x="1141" y="33" width="16" height="15" fill="#f0f921"/><rect x="900" y="48" width="16" height="18" fill="#8d0ba5"/><rect x="916" y="48" width="18" height="18" fill="#8808a6"/><rect x="934" y="48" width="17" height="18" fill="#6300a7"/><rect x="951" y="48" width="17" height="18" fill="#8808a6"/><rect x="968" y="48" width="17" height="18" fill="#d04d73"/><rect x="985" y="48" width="18" height="18" fill="#b12a90"/><rect x="1003" y="48" width="17" height="18" fill="#c13b82"/><rect x="1020" y="48" width="17" height="18" fill="#8d0ba5"/><rect x="1037" y="48" width="17" height="18" fill="#9a169f"/><rect x="1054" y="48" width="18" height="18" fill="#8606a6"/><rect x="1072" y="48" width="17" height="18" fill="#9613a1"/><rect x="1089" y="48" width="17" height="18" fill="#dd5e66"/><rect x="1106" y="48" width="17" height="18" fill="#dd5e66"/><rect x="1123" y="48" width="18" height="18" fill="#d04d73"/><rect x="1141" y="48" width="16" height="18" fill="#fdae32"/><rect x="900" y="66" width="16" height="17" fill="#2f0596"/><rect x="916" y="66" width="18" height="17" fill="#5c01a6"/><rect x="934" y="66" width="17" height="17" fill="#8104a7"/><rect x="951" y="66" width="17" height="17" fill="#9410a2"/><rect x="968" y="66" width="17" height="17" fill="#6e00a8"/><rect x="985" y="66" width="18" height="17" fill="#2f0596"/><rect x="1003" y="66" width="17" height="17" fill="#9a169f"/><rect x="1020" y="66" width="17" height="17" fill="#d35171"/><rect x="1037" y="66" width="17" height="17" fill="#ed7a52"/><rect x="1054" y="66" width="18" height="17" fill="#fba139"/><rect x="1072" y="66" width="17" height="17" fill="#c6417d"/><rect x="1089" y="66" width="17" height="17" fill="#5e01a6"/><rect x="1106" y="66" width="17" height="17" fill="#ea7457"/><rect x="1123" y="66" width="18" height="17" fill="#f9983e"/><rect x="1141" y="66" width="16" height="17" fill="#f3874a"/><rect x="900" y="83" width="16" height="17" fill="#46039f"/><rect x="916" y="83" width="18" height="17" fill="#5c01a6"/><rect x="934" y="83" width="17" height="17" fill="#3f049c"/><rect x="951" y="83" width="17" height="17" fill="#6600a7"/><rect x="968" y="83" width="17" height="17" fill="#df6263"/><rect x="985" y="83" width="18" height="17" fill="#b12a90"/><rect x="1003" y="83" width="17" height="17" fill="#b12a90"/><rect x="1020" y="83" width="17" height="17" fill="#e97257"/><rect x="1037" y="83" width="17" height="17" fill="#bd3786"/><rect x="1054" y="83" width="18" height="17" fill="#febb2b"/><rect x="1072" y="83" width="17" height="17" fill="#f79342"/><rect x="1089" y="83" width="17" height="17" fill="#c13b82"/><rect x="1106" y="83" width="17" height="17" fill="#e56a5d"/><rect x="1123" y="83" width="18" height="17" fill="#e16462"/><rect x="1141" y="83" width="16" height="17" fill="#d04d73"/><rect x="900" y="100" width="16" height="17" fill="#8606a6"/><rect x="916" y="100" width="18" height="17" fill="#0d0887"/><rect x="934" y="100" width="17" height="17" fill="#3a049a"/><rect x="951" y="100" width="17" height="17" fill="#9613a1"/><rect x="968" y="100" width="17" height="17" fill="#df6263"/><rect x="985" y="100" width="18" height="17" fill="#d9586a"/><rect x="1003" y="100" width="17" height="17" fill="#b7318a"/><rect x="1020" y="100" width="17" height="17" fill="#a21d9a"/><rect x="1037" y="100" width="17" height="17" fill="#f07f4f"/><rect x="1054" y="100" width="18" height="17" fill="#f9dc24"/><rect x="1072" y="100" width="17" height="17" fill="#9e199d"/><rect x="1089" y="100" width="17" height="17" fill="#ce4b75"/><rect x="1106" y="100" width="17" height="17" fill="#e3685f"/><rect x="1123" y="100" width="18" height="17" fill="#dc5d67"/><rect x="1141" y="100" width="16" height="17" fill="#bf3984"/><rect x="900" y="117" width="16" height="18" fill="#d04d73"/><rect x="916" y="117" width="18" height="18" fill="#6e00a8"/><rect x="934" y="117" width="17" height="18" fill="#7201a8"/><rect x="951" y="117" width="17" height="18" fill="#c13b82"/><rect x="968" y="117" width="17" height="18" fill="#c6417d"/><rect x="985" y="117" width="18" height="18" fill="#6a00a8"/><rect x="1003" y="117" width="17" height="18" fill="#bc3587"/><rect x="1020" y="117" width="17" height="18" fill="#d5536f"/><rect x="1037" y="117" width="17" height="18" fill="#eeeeee"/><rect x="1054" y="117" width="18" height="18" fill="#fdac33"/><rect x="1072" y="117" width="17" height="18" fill="#fdab33"/><rect x="1089" y="117" width="17" height="18" fill="#ca457a"/><rect x="1106" y="117" width="17" height="18" fill="#fdac33"/><rect x="1123" y="117" width="18" height="18" fill="#d35171"/><rect x="1141" y="117" width="16" height="18" fill="#cc4977"/><rect x="900" y="135" width="16" height="17" fill="#5601a4"/><rect x="916" y="135" width="18" height="17" fill="#3a049a"/><rect x="934" y="135" width="17" height="17" fill="#6e00a8"/><rect x="951" y="135" width="17" height="17" fill="#b02991"/><rect x="968" y="135" width="17" height="17" fill="#ad2793"/><rect x="985" y="135" width="18" height="17" fill="#5e01a6"/><rect x="1003" y="135" width="17" height="17" fill="#6300a7"/><rect x="1020" y="135" width="17" height="17" fill="#bf3984"/><rect x="1037" y="135" width="17" height="17" fill="#f79342"/><rect x="1054" y="135" width="18" height="17" fill="#f58c46"/><rect x="1072" y="135" width="17" height="17" fill="#eb7655"/><rect x="1089" y="135" width="17" height="17" fill="#8f0da4"/><rect x="1106" y="135" width="17" height="17" fill="#c33d80"/><rect x="1123" y="135" width="18" height="17" fill="#bc3587"/><rect x="1141" y="135" width="16" height="17" fill="#df6263"/><rect x="900" y="152" width="16" height="17" fill="#9410a2"/><rect x="916" y="152" width="18" height="17" fill="#8104a7"/><rect x="934" y="152" width="17" height="17" fill="#5601a4"/><rect x="951" y="152" width="17" height="17" fill="#6a00a8"/><rect x="968" y="152" width="17" height="17" fill="#9410a2"/><rect x="985" y="152" width="18" height="17" fill="#9c179e"/><rect x="1003" y="152" width="17" height="17" fill="#260591"/><rect x="1020" y="152" width="17" height="17" fill="#8f0da4"/><rect x="1037" y="152" width="17" height="17" fill="#dc5d67"/><rect x="1054" y="152" width="18" height="17" fill="#dd5e66"/><rect x="1072" y="152" width="17" height="17" fill="#6300a7"/><rect x="1089" y="152" width="17" height="17" fill="#ad2793"/><rect x="1106" y="152" width="17" height="17" fill="#ad2793"/><rect x="1123" y="152" width="18" height="17" fill="#c8437b"/><rect x="1141" y="152" width="16" height="17" fill="#b12a90"/><rect x="900" y="169" width="16" height="17" fill="#8808a6"/><rect x="916" y="169" width="18" height="17" fill="#3a049a"/><rect x="934" y="169" width="17" height="17" fill="#aa2395"/><rect x="951" y="169" width="17" height="17" fill="#aa2395"/><rect x="968" y="169" width="17" height="17" fill="#7201a8"/><rect x="985" y="169" width="18" height="17" fill="#6e00a8"/><rect x="1003" y="169" width="17" height="17" fill="#3a049a"/><rect x="1020" y="169" width="17" height="17" fill="#a11b9b"/><rect x="1037" y="169" width="17" height="17" fill="#c13b82"/><rect x="1054" y="169" width="18" height="17" fill="#8104a7"/><rect x="1072" y="169" width="17" height="17" fill="#b52f8c"/><rect x="1089" y="169" width="17" height="17" fill="#8808a6"/><rect x="1106" y="169" width="17" height="17" fill="#8808a6"/><rect x="1123" y="169" width="18" height="17" fill="#a21d9a"/><rect x="1141" y="169" width="16" height="17" fill="#a11b9b"/><rect x="900" y="186" width="16" height="18" fill="#8004a8"/><rect x="916" y="186" width="18" height="18" fill="#5c01a6"/><rect x="934" y="186" width="17" height="18" fill="#b7318a"/><rect x="951" y="186" width="17" height="18" fill="#b32c8e"/><rect x="968" y="186" width="17" height="18" fill="#8004a8"/><rect x="985" y="186" width="18" height="18" fill="#6a00a8"/><rect x="1003" y="186" width="17" height="18" fill="#8004a8"/><rect x="1020" y="186" width="17" height="18" fill="#bc3587"/><rect x="1037" y="186" width="17" height="18" fill="#6e00a8"/><rect x="1054" y="186" width="18" height="18" fill="#6600a7"/><rect x="1072" y="186" width="17" height="18" fill="#6a00a8"/><rect x="1089" y="186" width="17" height="18" fill="#7801a8"/><rect x="1106" y="186" width="17" height="18" fill="#c9447a"/><rect x="1123" y="186" width="18" height="18" fill="#8e0ca4"/><rect x="1141" y="186" width="16" height="18" fill="#e66c5c"/><rect x="900" y="204" width="16" height="17" fill="#5002a2"/><rect x="916" y="204" width="18" height="17" fill="#3a049a"/><rect x="934" y="204" width="17" height="17" fill="#a72197"/><rect x="951" y="204" width="17" height="17" fill="#8e0ca4"/><rect x="968" y="204" width="17" height="17" fill="#260591"/><rect x="985" y="204" width="18" height="17" fill="#5002a2"/><rect x="1003" y="204" width="17" height="17" fill="#8a09a5"/><rect x="1020" y="204" width="17" height="17" fill="#6e00a8"/><rect x="1037" y="204" width="17" height="17" fill="#7201a8"/><rect x="1054" y="204" width="18" height="17" fill="#8e0ca4"/><rect x="1072" y="204" width="17" height="17" fill="#ab2494"/><rect x="1089" y="204" width="17" height="17" fill="#aa2395"/><rect x="1106" y="204" width="17" height="17" fill="#cc4778"/><rect x="1123" y="204" width="18" height="17" fill="#b32c8e"/><rect x="1141" y="204" width="16" height="17" fill="#d6556d"/><rect x="900" y="221" width="16" height="17" fill="#280592"/><rect x="916" y="221" width="18" height="17" fill="#8004a8"/><rect x="934" y="221" width="17" height="17" fill="#3a049a"/><rect x="951" y="221" width="17" height="17" fill="#6600a7"/><rect x="968" y="221" width="17" height="17" fill="#5c01a6"/><rect x="985" y="221" width="18" height="17" fill="#5002a2"/><rect x="1003" y="221" width="17" height="17" fill="#6a00a8"/><rect x="1020" y="221" width="17" height="17" fill="#5801a4"/><rect x="1037" y="221" width="17" height="17" fill="#6e00a8"/><rect x="1054" y="221" width="18" height="17" fill="#7501a8"/><rect x="1072" y="221" width="17" height="17" fill="#6300a7"/><rect x="1089" y="221" width="17" height="17" fill="#8004a8"/><rect x="1106" y="221" width="17" height="17" fill="#b7318a"/><rect x="1123" y="221" width="18" height="17" fill="#b12a90"/><rect x="1141" y="221" width="16" height="17" fill="#e76e5b"/><rect x="900" y="238" width="16" height="18" fill="#43039e"/><rect x="916" y="238" width="18" height="18" fill="#9a169f"/><rect x="934" y="238" width="17" height="18" fill="#8e0ca4"/><rect x="951" y="238" width="17" height="18" fill="#6001a6"/><rect x="968" y="238" width="17" height="18" fill="#5c01a6"/><rect x="985" y="238" width="18" height="18" fill="#6700a8"/><rect x="1003" y="238" width="17" height="18" fill="#6e00a8"/><rect x="1020" y="238" width="17" height="18" fill="#3f049c"/><rect x="1037" y="238" width="17" height="18" fill="#9a169f"/><rect x="1054" y="238" width="18" height="18" fill="#7a02a8"/><rect x="1072" y="238" width="17" height="18" fill="#6e00a8"/><rect x="1089" y="238" width="17" height="18" fill="#8004a8"/><rect x="1106" y="238" width="17" height="18" fill="#8104a7"/><rect x="1123" y="238" width="18" height="18" fill="#9e199d"/><rect x="1141" y="238" width="16" height="18" fill="#bf3984"/><rect x="900" y="256" width="16" height="17" fill="#9410a2"/><rect x="916" y="256" width="18" height="17" fill="#5c01a6"/><rect x="934" y="256" width="17" height="17" fill="#2a0593"/><rect x="951" y="256" width="17" height="17" fill="#8305a7"/><rect x="968" y="256" width="17" height="17" fill="#6c00a8"/><rect x="985" y="256" width="18" height="17" fill="#8e0ca4"/><rect x="1003" y="256" width="17" height="17" fill="#8f0da4"/><rect x="1020" y="256" width="17" height="17" fill="#c13b82"/><rect x="1037" y="256" width="17" height="17" fill="#e66c5c"/><rect x="1054" y="256" width="18" height="17" fill="#b52f8c"/><rect x="1072" y="256" width="17" height="17" fill="#8f0da4"/><rect x="1089" y="256" width="17" height="17" fill="#a11b9b"/><rect x="1106" y="256" width="17" height="17" fill="#8f0da4"/><rect x="1123" y="256" width="18" height="17" fill="#8e0ca4"/><rect x="1141" y="256" width="16" height="17" fill="#ba3388"/><rect x="900" y="273" width="16" height="17" fill="#b7318a"/><rect x="916" y="273" width="18" height="17" fill="#1b068d"/><rect x="934" y="273" width="17" height="17" fill="#ba3388"/><rect x="951" y="273" width="17" height="17" fill="#a11b9b"/><rect x="968" y="273" width="17" height="17" fill="#7501a8"/><rect x="985" y="273" width="18" height="17" fill="#a72197"/><rect x="1003" y="273" width="17" height="17" fill="#8004a8"/><rect x="1020" y="273" width="17" height="17" fill="#bf3984"/><rect x="1037" y="273" width="17" height="17" fill="#c6417d"/><rect x="1054" y="273" width="18" height="17" fill="#c33d80"/><rect x="1072" y="273" width="17" height="17" fill="#e76e5b"/><rect x="1089" y="273" width="17" height="17" fill="#bf3984"/><rect x="1106" y="273" width="17" height="17" fill="#7a02a8"/><rect x="1123" y="273" width="18" height="17" fill="#5c01a6"/><rect x="1141" y="273" width="16" height="17" fill="#ba3388"/></g>
<path class="x" d="M919.5 34.9l11.8 11.8m-11.8 0l11.8 -11.8M936.8 34.9l11.8 11.8m-11.8 0l11.8 -11.8M988.4 34.9l11.8 11.8m-11.8 0l11.8 -11.8M1005.5 34.9l11.8 11.8m-11.8 0l11.8 -11.8M1022.8 34.9l11.8 11.8m-11.8 0l11.8 -11.8M1091.5 34.9l11.8 11.8m-11.8 0l11.8 -11.8M971.1 52.0l11.8 11.8m-11.8 0l11.8 -11.8M1057.1 52.0l11.8 11.8m-11.8 0l11.8 -11.8M1125.9 52.0l11.8 11.8m-11.8 0l11.8 -11.8M902.4 69.2l11.8 11.8m-11.8 0l11.8 -11.8M919.5 69.2l11.8 11.8m-11.8 0l11.8 -11.8M936.8 69.2l11.8 11.8m-11.8 0l11.8 -11.8M954.0 69.2l11.8 11.8m-11.8 0l11.8 -11.8M1022.8 69.2l11.8 11.8m-11.8 0l11.8 -11.8M1108.8 69.2l11.8 11.8m-11.8 0l11.8 -11.8M1143.1 69.2l11.8 11.8m-11.8 0l11.8 -11.8M902.4 86.4l11.8 11.8m-11.8 0l11.8 -11.8M919.5 86.4l11.8 11.8m-11.8 0l11.8 -11.8M936.8 86.4l11.8 11.8m-11.8 0l11.8 -11.8M971.1 86.4l11.8 11.8m-11.8 0l11.8 -11.8M1005.5 86.4l11.8 11.8m-11.8 0l11.8 -11.8M1091.5 86.4l11.8 11.8m-11.8 0l11.8 -11.8M1125.9 86.4l11.8 11.8m-11.8 0l11.8 -11.8M1143.1 86.4l11.8 11.8m-11.8 0l11.8 -11.8M919.5 103.6l11.8 11.8m-11.8 0l11.8 -11.8M971.1 103.6l11.8 11.8m-11.8 0l11.8 -11.8M988.4 103.6l11.8 11.8m-11.8 0l11.8 -11.8M1005.5 103.6l11.8 11.8m-11.8 0l11.8 -11.8M1022.8 103.6l11.8 11.8m-11.8 0l11.8 -11.8M1091.5 103.6l11.8 11.8m-11.8 0l11.8 -11.8M902.4 120.8l11.8 11.8m-11.8 0l11.8 -11.8M919.5 120.8l11.8 11.8m-11.8 0l11.8 -11.8M954.0 120.8l11.8 11.8m-11.8 0l11.8 -11.8M971.1 120.8l11.8 11.8m-11.8 0l11.8 -11.8M1022.8 120.8l11.8 11.8m-11.8 0l11.8 -11.8M1108.8 120.8l11.8 11.8m-11.8 0l11.8 -11.8M902.4 138.0l11.8 11.8m-11.8 0l11.8 -11.8M919.5 138.0l11.8 11.8m-11.8 0l11.8 -11.8M936.8 138.0l11.8 11.8m-11.8 0l11.8 -11.8M954.0 138.0l11.8 11.8m-11.8 0l11.8 -11.8M1005.5 138.0l11.8 11.8m-11.8 0l11.8 -11.8M1022.8 138.0l11.8 11.8m-11.8 0l11.8 -11.8M1074.3 138.0l11.8 11.8m-11.8 0l11.8 -11.8M1091.5 138.0l11.8 11.8m-11.8 0l11.8 -11.8M1108.8 138.0l11.8 11.8m-11.8 0l11.8 -11.8M1125.9 138.0l11.8 11.8m-11.8 0l11.8 -11.8M919.5 155.2l11.8 11.8m-11.8 0l11.8 -11.8M971.1 155.2l11.8 11.8m-11.8 0l11.8 -11.8M1005.5 155.2l11.8 11.8m-11.8 0l11.8 -11.8M1125.9 155.2l11.8 11.8m-11.8 0l11.8 -11.8M919.5 172.4l11.8 11.8m-11.8 0l11.8 -11.8M954.0 172.4l11.8 11.8m-11.8 0l11.8 -11.8M1005.5 172.4l11.8 11.8m-11.8 0l11.8 -11.8M1039.9 172.4l11.8 11.8m-11.8 0l11.8 -11.8M1091.5 172.4l11.8 11.8m-11.8 0l11.8 -11.8M919.5 189.7l11.8 11.8m-11.8 0l11.8 -11.8M1074.3 189.7l11.8 11.8m-11.8 0l11.8 -11.8M1143.1 189.7l11.8 11.8m-11.8 0l11.8 -11.8M971.1 206.8l11.8 11.8m-11.8 0l11.8 -11.8M988.4 206.8l11.8 11.8m-11.8 0l11.8 -11.8M1005.5 206.8l11.8 11.8m-11.8 0l11.8 -11.8M902.4 224.0l11.8 11.8m-11.8 0l11.8 -11.8M988.4 224.0l11.8 11.8m-11.8 0l11.8 -11.8M1022.8 224.0l11.8 11.8m-11.8 0l11.8 -11.8M1125.9 224.0l11.8 11.8m-11.8 0l11.8 -11.8M919.5 241.2l11.8 11.8m-11.8 0l11.8 -11.8M954.0 241.2l11.8 11.8m-11.8 0l11.8 -11.8M1005.5 241.2l11.8 11.8m-11.8 0l11.8 -11.8M1091.5 241.2l11.8 11.8m-11.8 0l11.8 -11.8M1108.8 241.2l11.8 11.8m-11.8 0l11.8 -11.8M1125.9 241.2l11.8 11.8m-11.8 0l11.8 -11.8M902.4 258.4l11.8 11.8m-11.8 0l11.8 -11.8M936.8 258.4l11.8 11.8m-11.8 0l11.8 -11.8M988.4 258.4l11.8 11.8m-11.8 0l11.8 -11.8M1039.9 258.4l11.8 11.8m-11.8 0l11.8 -11.8M1125.9 258.4l11.8 11.8m-11.8 0l11.8 -11.8M902.4 275.6l11.8 11.8m-11.8 0l11.8 -11.8M919.5 275.6l11.8 11.8m-11.8 0l11.8 -11.8M936.8 275.6l11.8 11.8m-11.8 0l11.8 -11.8M954.0 275.6l11.8 11.8m-11.8 0l11.8 -11.8M1005.5 275.6l11.8 11.8m-11.8 0l11.8 -11.8M1022.8 275.6l11.8 11.8m-11.8 0l11.8 -11.8M1057.1 275.6l11.8 11.8m-11.8 0l11.8 -11.8M1108.8 275.6l11.8 11.8m-11.8 0l11.8 -11.8"/>
<rect class="f" x="899.5" y="32.5" width="258.0" height="258.0"/>
<text class="t" x="1028.5" y="23.8" textLength="151.8" lengthAdjust="spacingAndGlyphs">SPIDER_QSOBL</text>
<g shape-rendering="crispEdges"><rect x="11" y="328" width="16" height="15" fill="#280592"/><rect x="27" y="328" width="18" height="15" fill="#8d0ba5"/><rect x="45" y="328" width="17" height="15" fill="#9410a2"/><rect x="62" y="328" width="17" height="15" fill="#df6263"/><rect x="79" y="328" width="17" height="15" fill="#fa9c3c"/><rect x="96" y="328" width="18" height="15" fill="#fa9e3b"/><rect x="114" y="328" width="17" height="15" fill="#f89540"/><rect x="131" y="328" width="17" height="15" fill="#e16462"/><rect x="148" y="328" width="17" height="15" fill="#b12a90"/><rect x="165" y="328" width="18" height="15" fill="#d04d73"/><rect x="183" y="328" width="17" height="15" fill="#d04d73"/><rect x="200" y="328" width="17" height="15" fill="#e16462"/><rect x="217" y="328" width="17" height="15" fill="#f89540"/><rect x="234" y="328" width="18" height="15" fill="#feba2c"/><rect x="252" y="328" width="16" height="15" fill="#f0f921"/><rect x="11" y="343" width="16" height="18" fill="#8d0ba5"/><rect x="27" y="343" width="18" height="18" fill="#8808a6"/><rect x="45" y="343" width="17" height="18" fill="#6300a7"/><rect x="62" y="343" width="17" height="18" fill="#8808a6"/><rect x="79" y="343" width="17" height="18" fill="#d04d73"/><rect x="96" y="343" width="18" height="18" fill="#b12a90"/><rect x="114" y="343" width="17" height="18" fill="#c13b82"/><rect x="131" y="343" width="17" height="18" fill="#8d0ba5"/><rect x="148" y="343" width="17" height="18" fill="#9a169f"/><rect x="165" y="343" width="18" height="18" fill="#8606a6"/><rect x="183" y="343" width="17" height="18" fill="#9613a1"/><rect x="200" y="343" width="17" height="18" fill="#dd5e66"/><rect x="217" y="343" width="17" height="18" fill="#dd5e66"/><rect x="234" y="343" width="18" height="18" fill="#d04d73"/><rect x="252" y="343" width="16" height="18" fill="#fdae32"/><rect x="11" y="361" width="16" height="17" fill="#2f0596"/><rect x="27" y="361" width="18" height="17" fill="#5c01a6"/><rect x="45" y="361" width="17" height="17" fill="#8104a7"/><rect x="62" y="361" width="17" height="17" fill="#9410a2"/><rect x="79" y="361" width="17" height="17" fill="#6e00a8"/><rect x="96" y="361" width="18" height="17" fill="#2f0596"/><rect x="114" y="361" width="17" height="17" fill="#9a169f"/><rect x="131" y="361" width="17" height="17" fill="#d35171"/><rect x="148" y="361" width="17" height="17" fill="#ed7a52"/><rect x="165" y="361" width="18" height="17" fill="#fba139"/><rect x="183" y="361" width="17" height="17" fill="#c6417d"/><rect x="200" y="361" width="17" height="17" fill="#5e01a6"/><rect x="217" y="361" width="17" height="17" fill="#ea7457"/><rect x="234" y="361" width="18" height="17" fill="#f9983e"/><rect x="252" y="361" width="16" height="17" fill="#f3874a"/><rect x="11" y="378" width="16" height="17" fill="#46039f"/><rect x="27" y="378" width="18" height="17" fill="#5c01a6"/><rect x="45" y="378" width="17" height="17" fill="#3f049c"/><rect x="62" y="378" width="17" height="17" fill="#6600a7"/><rect x="79" y="378" width="17" height="17" fill="#df6263"/><rect x="96" y="378" width="18" height="17" fill="#b12a90"/><rect x="114" y="378" width="17" height="17" fill="#b12a90"/><rect x="131" y="378" width="17" height="17" fill="#e97257"/><rect x="148" y="378" width="17" height="17" fill="#bd3786"/><rect x="165" y="378" width="18" height="17" fill="#febb2b"/><rect x="183" y="378" width="17" height="17" fill="#f79342"/><rect x="200" y="378" width="17" height="17" fill="#c13b82"/><rect x="217" y="378" width="17" height="17" fill="#e56a5d"/><rect x="234" y="378" width="18" height="17" fill="#e16462"/><rect x="252" y="378" width="16" height="17" fill="#d04d73"/><rect x="11" y="395" width="16" height="17" fill="#8606a6"/><rect x="27" y="395" width="18" height="17" fill="#0d0887"/><rect x="45" y="395" width="17" height="17" fill="#3a049a"/><rect x="62" y="395" width="17" height="17" fill="#9613a1"/><rect x="79" y="395" width="17" height="17" fill="#df6263"/><rect x="96" y="395" width="18" height="17" fill="#d9586a"/><rect x="114" y="395" width="17" height="17" fill="#b7318a"/><rect x="131" y="395" width="17" height="17" fill="#a21d9a"/><rect x="148" y="395" width="17" height="17" fill="#f07f4f"/><rect x="165" y="395" width="18" height="17" fill="#f9dc24"/><rect x="183" y="395" width="17" height="17" fill="#9e199d"/><rect x="200" y="395" width="17" height="17" fill="#ce4b75"/><rect x="217" y="395" width="17" height="17" fill="#e3685f"/><rect x="234" y="395" width="18" height="17" fill="#dc5d67"/><rect x="252" y="395" width="16" height="17" fill="#bf3984"/><rect x="11" y="412" width="16" height="18" fill="#d04d73"/><rect x="27" y="412" width="18" height="18" fill="#6e00a8"/><rect x="45" y="412" width="17" height="18" fill="#7201a8"/><rect x="62" y="412" width="17" height="18" fill="#c13b82"/><rect x="79" y="412" width="17" height="18" fill="#c6417d"/><rect x="96" y="412" width="18" height="18" fill="#6a00a8"/><rect x="114" y="412" width="17" height="18" fill="#bc3587"/><rect x="131" y="412" width="17" height="18" fill="#d5536f"/><rect x="148" y="412" width="17" height="18" fill="#eeeeee"/><rect x="165" y="412" width="18" height="18" fill="#fdac33"/><rect x="183" y="412" width="17" height="18" fill="#fdab33"/><rect x="200" y="412" width="17" height="18" fill="#ca457a"/><rect x="217" y="412" width="17" height="18" fill="#fdac33"/><rect x="234" y="412" width="18" height="18" fill="#d35171"/><rect x="252" y="412" width="16" height="18" fill="#cc4977"/><rect x="11" y="430" width="16" height="17" fill="#5601a4"/><rect x="27" y="430" width="18" height="17" fill="#3a049a"/><rect x="45" y="430" width="17" height="17" fill="#6e00a8"/><rect x="62" y="430" width="17" height="17" fill="#b02991"/><rect x="79" y="430" width="17" height="17" fill="#ad2793"/><rect x="96" y="430" width="18" height="17" fill="#5e01a6"/><rect x="114" y="430" width="17" height="17" fill="#6300a7"/><rect x="131" y="430" width="17" height="17" fill="#bf3984"/><rect x="148" y="430" width="17" height="17" fill="#f79342"/><rect x="165" y="430" width="18" height="17" fill="#f58c46"/><rect x="183" y="430" width="17" height="17" fill="#eb7655"/><rect x="200" y="430" width="17" height="17" fill="#8f0da4"/><rect x="217" y="430" width="17" height="17" fill="#c33d80"/><rect x="234" y="430" width="18" height="17" fill="#bc3587"/><rect x="252" y="430" width="16" height="17" fill="#df6263"/><rect x="11" y="447" width="16" height="17" fill="#9410a2"/><rect x="27" y="447" width="18" height="17" fill="#8104a7"/><rect x="45" y="447" width="17" height="17" fill="#5601a4"/><rect x="62" y="447" width="17" height="17" fill="#6a00a8"/><rect x="79" y="447" width="17" height="17" fill="#9410a2"/><rect x="96" y="447" width="18" height="17" fill="#9c179e"/><rect x="114" y="447" width="17" height="17" fill="#260591"/><rect x="131" y="447" width="17" height="17" fill="#8f0da4"/><rect x="148" y="447" width="17" height="17" fill="#dc5d67"/><rect x="165" y="447" width="18" height="17" fill="#dd5e66"/><rect x="183" y="447" width="17" height="17" fill="#6300a7"/><rect x="200" y="447" width="17" height="17" fill="#ad2793"/><rect x="217" y="447" width="17" height="17" fill="#ad2793"/><rect x="234" y="447" width="18" height="17" fill="#c8437b"/><rect x="252" y="447" width="16" height="17" fill="#b12a90"/><rect x="11" y="464" width="16" height="17" fill="#8808a6"/><rect x="27" y="464" width="18" height="17" fill="#3a049a"/><rect x="45" y="464" width="17" height="17" fill="#aa2395"/><rect x="62" y="464" width="17" height="17" fill="#aa2395"/><rect x="79" y="464" width="17" height="17" fill="#7201a8"/><rect x="96" y="464" width="18" height="17" fill="#6e00a8"/><rect x="114" y="464" width="17" height="17" fill="#3a049a"/><rect x="131" y="464" width="17" height="17" fill="#a11b9b"/><rect x="148" y="464" width="17" height="17" fill="#c13b82"/><rect x="165" y="464" width="18" height="17" fill="#8104a7"/><rect x="183" y="464" width="17" height="17" fill="#b52f8c"/><rect x="200" y="464" width="17" height="17" fill="#8808a6"/><rect x="217" y="464" width="17" height="17" fill="#8808a6"/><rect x="234" y="464" width="18" height="17" fill="#a21d9a"/><rect x="252" y="464" width="16" height="17" fill="#a11b9b"/><rect x="11" y="481" width="16" height="18" fill="#8004a8"/><rect x="27" y="481" width="18" height="18" fill="#5c01a6"/><rect x="45" y="481" width="17" height="18" fill="#b7318a"/><rect x="62" y="481" width="17" height="18" fill="#b32c8e"/><rect x="79" y="481" width="17" height="18" fill="#8004a8"/><rect x="96" y="481" width="18" height="18" fill="#6a00a8"/><rect x="114" y="481" width="17" height="18" fill="#8004a8"/><rect x="131" y="481" width="17" height="18" fill="#bc3587"/><rect x="148" y="481" width="17" height="18" fill="#6e00a8"/><rect x="165" y="481" width="18" height="18" fill="#6600a7"/><rect x="183" y="481" width="17" height="18" fill="#6a00a8"/><rect x="200" y="481" width="17" height="18" fill="#7801a8"/><rect x="217" y="481" width="17" height="18" fill="#c9447a"/><rect x="234" y="481" width="18" height="18" fill="#8e0ca4"/><rect x="252" y="481" width="16" height="18" fill="#e66c5c"/><rect x="11" y="499" width="16" height="17" fill="#5002a2"/><rect x="27" y="499" width="18" height="17" fill="#3a049a"/><rect x="45" y="499" width="17" height="17" fill="#a72197"/><rect x="62" y="499" width="17" height="17" fill="#8e0ca4"/><rect x="79" y="499" width="17" height="17" fill="#260591"/><rect x="96" y="499" width="18" height="17" fill="#5002a2"/><rect x="114" y="499" width="17" height="17" fill="#8a09a5"/><rect x="131" y="499" width="17" height="17" fill="#6e00a8"/><rect x="148" y="499" width="17" height="17" fill="#7201a8"/><rect x="165" y="499" width="18" height="17" fill="#8e0ca4"/><rect x="183" y="499" width="17" height="17" fill="#ab2494"/><rect x="200" y="499" width="17" height="17" fill="#aa2395"/><rect x="217" y="499" width="17" height="17" fill="#cc4778"/><rect x="234" y="499" width="18" height="17" fill="#b32c8e"/><rect x="252" y="499" width="16" height="17" fill="#d6556d"/><rect x="11" y="516" width="16" height="17" fill="#280592"/><rect x="27" y="516" width="18" height="17" fill="#8004a8"/><rect x="45" y="516" width="17" height="17" fill="#3a049a"/><rect x="62" y="516" width="17" height="17" fill="#6600a7"/><rect x="79" y="516" width="17" height="17" fill="#5c01a6"/><rect x="96" y="516" width="18" height="17" fill="#5002a2"/><rect x="114" y="516" width="17" height="17" fill="#6a00a8"/><rect x="131" y="516" width="17" height="17" fill="#5801a4"/><rect x="148" y="516" width="17" height="17" fill="#6e00a8"/><rect x="165" y="516" width="18" height="17" fill="#7501a8"/><rect x="183" y="516" width="17" height="17" fill="#6300a7"/><rect x="200" y="516" width="17" height="17" fill="#8004a8"/><rect x="217" y="516" width="17" height="17" fill="#b7318a"/><rect x="234" y="516" width="18" height="17" fill="#b12a90"/><rect x="252" y="516" width="16" height="17" fill="#e76e5b"/><rect x="11" y="533" width="16" height="18" fill="#43039e"/><rect x="27" y="533" width="18" height="18" fill="#9a169f"/><rect x="45" y="533" width="17" height="18" fill="#8e0ca4"/><rect x="62" y="533" width="17" height="18" fill="#6001a6"/><rect x="79" y="533" width="17" height="18" fill="#5c01a6"/><rect x="96" y="533" width="18" height="18" fill="#6700a8"/><rect x="114" y="533" width="17" height="18" fill="#6e00a8"/><rect x="131" y="533" width="17" height="18" fill="#3f049c"/><rect x="148" y="533" width="17" height="18" fill="#9a169f"/><rect x="165" y="533" width="18" height="18" fill="#7a02a8"/><rect x="183" y="533" width="17" height="18" fill="#6e00a8"/><rect x="200" y="533" width="17" height="18" fill="#8004a8"/><rect x="217" y="533" width="17" height="18" fill="#8104a7"/><rect x="234" y="533" width="18" height="18" fill="#9e199d"/><rect x="252" y="533" width="16" height="18" fill="#bf3984"/><rect x="11" y="551" width="16" height="17" fill="#9410a2"/><rect x="27" y="551" width="18" height="17" fill="#5c01a6"/><rect x="45" y="551" width="17" height="17" fill="#2a0593"/><rect x="62" y="551" width="17" height="17" fill="#8305a7"/><rect x="79" y="551" width="17" height="17" fill="#6c00a8"/><rect x="96" y="551" width="18" height="17" fill="#8e0ca4"/><rect x="114" y="551" width="17" height="17" fill="#8f0da4"/><rect x="131" y="551" width="17" height="17" fill="#c13b82"/><rect x="148" y="551" width="17" height="17" fill="#e66c5c"/><rect x="165" y="551" width="18" height="17" fill="#b52f8c"/><rect x="183" y="551" width="17" height="17" fill="#8f0da4"/><rect x="200" y="551" width="17" height="17" fill="#a11b9b"/><rect x="217" y="551" width="17" height="17" fill="#8f0da4"/><rect x="234" y="551" width="18" height="17" fill="#8e0ca4"/><rect x="252" y="551" width="16" height="17" fill="#ba3388"/><rect x="11" y="568" width="16" height="17" fill="#b7318a"/><rect x="27" y="568" width="18" height="17" fill="#1b068d"/><rect x="45" y="568" width="17" height="17" fill="#ba3388"/><rect x="62" y="568" width="17" height="17" fill="#a11b9b"/><rect x="79" y="568" width="17" height="17" fill="#7501a8"/><rect x="96" y="568" width="18" height="17" fill="#a72197"/><rect x="114" y="568" width="17" height="17" fill="#8004a8"/><rect x="131" y="568" width="17" height="17" fill="#bf3984"/><rect x="148" y="568" width="17" height="17" fill="#c6417d"/><rect x="165" y="568" width="18" height="17" fill="#c33d80"/><rect x="183" y="568" width="17" height="17" fill="#e76e5b"/><rect x="200" y="568" width="17" height="17" fill="#bf3984"/><rect x="217" y="568" width="17" height="17" fill="#7a02a8"/><rect x="234" y="568" width="18" height="17" fill="#5c01a6"/><rect x="252" y="568" width="16" height="17" fill="#ba3388"/></g>
<path class="x" d="M254.1 347.1l11.8 11.8m-11.8 0l11.8 -11.8M30.5 398.6l11.8 11.8m-11.8 0l11.8 -11.8M116.5 450.2l11.8 11.8m-11.8 0l11.8 -11.8M133.8 467.4l11.8 11.8m-11.8 0l11.8 -11.8M219.8 467.4l11.8 11.8m-11.8 0l11.8 -11.8M150.9 484.6l11.8 11.8m-11.8 0l11.8 -11.8M219.8 484.6l11.8 11.8m-11.8 0l11.8 -11.8M150.9 501.9l11.8 11.8m-11.8 0l11.8 -11.8M254.1 501.9l11.8 11.8m-11.8 0l11.8 -11.8M47.8 519.0l11.8 11.8m-11.8 0l11.8 -11.8M99.3 519.0l11.8 11.8m-11.8 0l11.8 -11.8M150.9 519.0l11.8 11.8m-11.8 0l11.8 -11.8M47.8 536.2l11.8 11.8m-11.8 0l11.8 -11.8M64.9 536.2l11.8 11.8m-11.8 0l11.8 -11.8M82.1 536.2l11.8 11.8m-11.8 0l11.8 -11.8M116.5 536.2l11.8 11.8m-11.8 0l11.8 -11.8M202.5 536.2l11.8 11.8m-11.8 0l11.8 -11.8M219.8 536.2l11.8 11.8m-11.8 0l11.8 -11.8M64.9 553.4l11.8 11.8m-11.8 0l11.8 -11.8M82.1 553.4l11.8 11.8m-11.8 0l11.8 -11.8M64.9 570.6l11.8 11.8m-11.8 0l11.8 -11.8M254.1 570.6l11.8 11.8m-11.8 0l11.8 -11.8"/>
<rect class="f" x="10.5" y="327.5" width="258.0" height="258.0"/>
<text class="t" x="139.5" y="318.8" textLength="151.5" lengthAdjust="spacingAndGlyphs">SPIDER_AGNBL</text>
<g shape-rendering="crispEdges"><rect x="307" y="328" width="16" height="15" fill="#280592"/><rect x="323" y="328" width="18" height="15" fill="#8d0ba5"/><rect x="341" y="328" width="17" height="15" fill="#9410a2"/><rect x="358" y="328" width="17" height="15" fill="#df6263"/><rect x="375" y="328" width="17" height="15" fill="#fa9c3c"/><rect x="392" y="328" width="18" height="15" fill="#fa9e3b"/><rect x="410" y="328" width="17" height="15" fill="#f89540"/><rect x="427" y="328" width="17" height="15" fill="#e16462"/><rect x="444" y="328" width="17" height="15" fill="#b12a90"/><rect x="461" y="328" width="18" height="15" fill="#d04d73"/><rect x="479" y="328" width="17" height="15" fill="#d04d73"/><rect x="496" y="328" width="17" height="15" fill="#e16462"/><rect x="513" y="328" width="17" height="15" fill="#f89540"/><rect x="530" y="328" width="18" height="15" fill="#feba2c"/><rect x="548" y="328" width="17" height="15" fill="#f0f921"/><rect x="307" y="343" width="16" height="18" fill="#8d0ba5"/><rect x="323" y="343" width="18" height="18" fill="#8808a6"/><rect x="341" y="343" width="17" height="18" fill="#6300a7"/><rect x="358" y="343" width="17" height="18" fill="#8808a6"/><rect x="375" y="343" width="17" height="18" fill="#d04d73"/><rect x="392" y="343" width="18" height="18" fill="#b12a90"/><rect x="410" y="343" width="17" height="18" fill="#c13b82"/><rect x="427" y="343" width="17" height="18" fill="#8d0ba5"/><rect x="444" y="343" width="17" height="18" fill="#9a169f"/><rect x="461" y="343" width="18" height="18" fill="#8606a6"/><rect x="479" y="343" width="17" height="18" fill="#9613a1"/><rect x="496" y="343" width="17" height="18" fill="#dd5e66"/><rect x="513" y="343" width="17" height="18" fill="#dd5e66"/><rect x="530" y="343" width="18" height="18" fill="#d04d73"/><rect x="548" y="343" width="17" height="18" fill="#fdae32"/><rect x="307" y="361" width="16" height="17" fill="#2f0596"/><rect x="323" y="361" width="18" height="17" fill="#5c01a6"/><rect x="341" y="361" width="17" height="17" fill="#8104a7"/><rect x="358" y="361" width="17" height="17" fill="#9410a2"/><rect x="375" y="361" width="17" height="17" fill="#6e00a8"/><rect x="392" y="361" width="18" height="17" fill="#2f0596"/><rect x="410" y="361" width="17" height="17" fill="#9a169f"/><rect x="427" y="361" width="17" height="17" fill="#d35171"/><rect x="444" y="361" width="17" height="17" fill="#ed7a52"/><rect x="461" y="361" width="18" height="17" fill="#fba139"/><rect x="479" y="361" width="17" height="17" fill="#c6417d"/><rect x="496" y="361" width="17" height="17" fill="#5e01a6"/><rect x="513" y="361" width="17" height="17" fill="#ea7457"/><rect x="530" y="361" width="18" height="17" fill="#f9983e"/><rect x="548" y="361" width="17" height="17" fill="#f3874a"/><rect x="307" y="378" width="16" height="17" fill="#46039f"/><rect x="323" y="378" width="18" height="17" fill="#5c01a6"/><rect x="341" y="378" width="17" height="17" fill="#3f049c"/><rect x="358" y="378" width="17" height="17" fill="#6600a7"/><rect x="375" y="378" width="17" height="17" fill="#df6263"/><rect x="392" y="378" width="18" height="17" fill="#b12a90"/><rect x="410" y="378" width="17" height="17" fill="#b12a90"/><rect x="427" y="378" width="17" height="17" fill="#e97257"/><rect x="444" y="378" width="17" height="17" fill="#bd3786"/><rect x="461" y="378" width="18" height="17" fill="#febb2b"/><rect x="479" y="378" width="17" height="17" fill="#f79342"/><rect x="496" y="378" width="17" height="17" fill="#c13b82"/><rect x="513" y="378" width="17" height="17" fill="#e56a5d"/><rect x="530" y="378" width="18" height="17" fill="#e16462"/><rect x="548" y="378" width="17" height="17" fill="#d04d73"/><rect x="307" y="395" width="16" height="17" fill="#8606a6"/><rect x="323" y="395" width="18" height="17" fill="#0d0887"/><rect x="341" y="395" width="17" height="17" fill="#3a049a"/><rect x="358" y="395" width="17" height="17" fill="#9613a1"/><rect x="375" y="395" width="17" height="17" fill="#df6263"/><rect x="392" y="395" width="18" height="17" fill="#d9586a"/><rect x="410" y="395" width="17" height="17" fill="#b7318a"/><rect x="427" y="395" width="17" height="17" fill="#a21d9a"/><rect x="444" y="395" width="17" height="17" fill="#f07f4f"/><rect x="461" y="395" width="18" height="17" fill="#f9dc24"/><rect x="479" y="395" width="17" height="17" fill="#9e199d"/><rect x="496" y="395" width="17" height="17" fill="#ce4b75"/><rect x="513" y="395" width="17" height="17" fill="#e3685f"/><rect x="530" y="395" width="18" height="17" fill="#dc5d67"/><rect x="548" y="395" width="17" height="17" fill="#bf3984"/><rect x="307" y="412" width="16" height="18" fill="#d04d73"/><rect x="323" y="412" width="18" height="18" fill="#6e00a8"/><rect x="341" y="412" width="17" height="18" fill="#7201a8"/><rect x="358" y="412" width="17" height="18" fill="#c13b82"/><rect x="375" y="412" width="17" height="18" fill="#c6417d"/><rect x="392" y="412" width="18" height="18" fill="#6a00a8"/><rect x="410" y="412" width="17" height="18" fill="#bc3587"/><rect x="427" y="412" width="17" height="18" fill="#d5536f"/><rect x="444" y="412" width="17" height="18" fill="#eeeeee"/><rect x="461" y="412" width="18" height="18" fill="#fdac33"/><rect x="479" y="412" width="17" height="18" fill="#fdab33"/><rect x="496" y="412" width="17" height="18" fill="#ca457a"/><rect x="513" y="412" width="17" height="18" fill="#fdac33"/><rect x="530" y="412" width="18" height="18" fill="#d35171"/><rect x="548" y="412" width="17" height="18" fill="#cc4977"/><rect x="307" y="430" width="16" height="17" fill="#5601a4"/><rect x="323" y="430" width="18" height="17" fill="#3a049a"/><rect x="341" y="430" width="17" height="17" fill="#6e00a8"/><rect x="358" y="430" width="17" height="17" fill="#b02991"/><rect x="375" y="430" width="17" height="17" fill="#ad2793"/><rect x="392" y="430" width="18" height="17" fill="#5e01a6"/><rect x="410" y="430" width="17" height="17" fill="#6300a7"/><rect x="427" y="430" width="17" height="17" fill="#bf3984"/><rect x="444" y="430" width="17" height="17" fill="#f79342"/><rect x="461" y="430" width="18" height="17" fill="#f58c46"/><rect x="479" y="430" width="17" height="17" fill="#eb7655"/><rect x="496" y="430" width="17" height="17" fill="#8f0da4"/><rect x="513" y="430" width="17" height="17" fill="#c33d80"/><rect x="530" y="430" width="18" height="17" fill="#bc3587"/><rect x="548" y="430" width="17" height="17" fill="#df6263"/><rect x="307" y="447" width="16" height="17" fill="#9410a2"/><rect x="323" y="447" width="18" height="17" fill="#8104a7"/><rect x="341" y="447" width="17" height="17" fill="#5601a4"/><rect x="358" y="447" width="17" height="17" fill="#6a00a8"/><rect x="375" y="447" width="17" height="17" fill="#9410a2"/><rect x="392" y="447" width="18" height="17" fill="#9c179e"/><rect x="410" y="447" width="17" height="17" fill="#260591"/><rect x="427" y="447" width="17" height="17" fill="#8f0da4"/><rect x="444" y="447" width="17" height="17" fill="#dc5d67"/><rect x="461" y="447" width="18" height="17" fill="#dd5e66"/><rect x="479" y="447" width="17" height="17" fill="#6300a7"/><rect x="496" y="447" width="17" height="17" fill="#ad2793"/><rect x="513" y="447" width="17" height="17" fill="#ad2793"/><rect x="530" y="447" width="18" height="17" fill="#c8437b"/><rect x="548" y="447" width="17" height="17" fill="#b12a90"/><rect x="307" y="464" width="16" height="17" fill="#8808a6"/><rect x="323" y="464" width="18" height="17" fill="#3a049a"/><rect x="341" y="464" width="17" height="17" fill="#aa2395"/><rect x="358" y="464" width="17" height="17" fill="#aa2395"/><rect x="375" y="464" width="17" height="17" fill="#7201a8"/><rect x="392" y="464" width="18" height="17" fill="#6e00a8"/><rect x="410" y="464" width="17" height="17" fill="#3a049a"/><rect x="427" y="464" width="17" height="17" fill="#a11b9b"/><rect x="444" y="464" width="17" height="17" fill="#c13b82"/><rect x="461" y="464" width="18" height="17" fill="#8104a7"/><rect x="479" y="464" width="17" height="17" fill="#b52f8c"/><rect x="496" y="464" width="17" height="17" fill="#8808a6"/><rect x="513" y="464" width="17" height="17" fill="#8808a6"/><rect x="530" y="464" width="18" height="17" fill="#a21d9a"/><rect x="548" y="464" width="17" height="17" fill="#a11b9b"/><rect x="307" y="481" width="16" height="18" fill="#8004a8"/><rect x="323" y="481" width="18" height="18" fill="#5c01a6"/><rect x="341" y="481" width="17" height="18" fill="#b7318a"/><rect x="358" y="481" width="17" height="18" fill="#b32c8e"/><rect x="375" y="481" width="17" height="18" fill="#8004a8"/><rect x="392" y="481" width="18" height="18" fill="#6a00a8"/><rect x="410" y="481" width="17" height="18" fill="#8004a8"/><rect x="427" y="481" width="17" height="18" fill="#bc3587"/><rect x="444" y="481" width="17" height="18" fill="#6e00a8"/><rect x="461" y="481" width="18" height="18" fill="#6600a7"/><rect x="479" y="481" width="17" height="18" fill="#6a00a8"/><rect x="496" y="481" width="17" height="18" fill="#7801a8"/><rect x="513" y="481" width="17" height="18" fill="#c9447a"/><rect x="530" y="481" width="18" height="18" fill="#8e0ca4"/><rect x="548" y="481" width="17" height="18" fill="#e66c5c"/><rect x="307" y="499" width="16" height="17" fill="#5002a2"/><rect x="323" y="499" width="18" height="17" fill="#3a049a"/><rect x="341" y="499" width="17" height="17" fill="#a72197"/><rect x="358" y="499" width="17" height="17" fill="#8e0ca4"/><rect x="375" y="499" width="17" height="17" fill="#260591"/><rect x="392" y="499" width="18" height="17" fill="#5002a2"/><rect x="410" y="499" width="17" height="17" fill="#8a09a5"/><rect x="427" y="499" width="17" height="17" fill="#6e00a8"/><rect x="444" y="499" width="17" height="17" fill="#7201a8"/><rect x="461" y="499" width="18" height="17" fill="#8e0ca4"/><rect x="479" y="499" width="17" height="17" fill="#ab2494"/><rect x="496" y="499" width="17" height="17" fill="#aa2395"/><rect x="513" y="499" width="17" height="17" fill="#cc4778"/><rect x="530" y="499" width="18" height="17" fill="#b32c8e"/><rect x="548" y="499" width="17" height="17" fill="#d6556d"/><rect x="307" y="516" width="16" height="17" fill="#280592"/><rect x="323" y="516" width="18" height="17" fill="#8004a8"/><rect x="341" y="516" width="17" height="17" fill="#3a049a"/><rect x="358" y="516" width="17" height="17" fill="#6600a7"/><rect x="375" y="516" width="17" height="17" fill="#5c01a6"/><rect x="392" y="516" width="18" height="17" fill="#5002a2"/><rect x="410" y="516" width="17" height="17" fill="#6a00a8"/><rect x="427" y="516" width="17" height="17" fill="#5801a4"/><rect x="444" y="516" width="17" height="17" fill="#6e00a8"/><rect x="461" y="516" width="18" height="17" fill="#7501a8"/><rect x="479" y="516" width="17" height="17" fill="#6300a7"/><rect x="496" y="516" width="17" height="17" fill="#8004a8"/><rect x="513" y="516" width="17" height="17" fill="#b7318a"/><rect x="530" y="516" width="18" height="17" fill="#b12a90"/><rect x="548" y="516" width="17" height="17" fill="#e76e5b"/><rect x="307" y="533" width="16" height="18" fill="#43039e"/><rect x="323" y="533" width="18" height="18" fill="#9a169f"/><rect x="341" y="533" width="17" height="18" fill="#8e0ca4"/><rect x="358" y="533" width="17" height="18" fill="#6001a6"/><rect x="375" y="533" width="17" height="18" fill="#5c01a6"/><rect x="392" y="533" width="18" height="18" fill="#6700a8"/><rect x="410" y="533" width="17" height="18" fill="#6e00a8"/><rect x="427" y="533" width="17" height="18" fill="#3f049c"/><rect x="444" y="533" width="17" height="18" fill="#9a169f"/><rect x="461" y="533" width="18" height="18" fill="#7a02a8"/><rect x="479" y="533" width="17" height="18" fill="#6e00a8"/><rect x="496" y="533" width="17" height="18" fill="#8004a8"/><rect x="513" y="533" width="17" height="18" fill="#8104a7"/><rect x="530" y="533" width="18" height="18" fill="#9e199d"/><rect x="548" y="533" width="17" height="18" fill="#bf3984"/><rect x="307" y="551" width="16" height="17" fill="#9410a2"/><rect x="323" y="551" width="18" height="17" fill="#5c01a6"/><rect x="341" y="551" width="17" height="17" fill="#2a0593"/><rect x="358" y="551" width="17" height="17" fill="#8305a7"/><rect x="375" y="551" width="17" height="17" fill="#6c00a8"/><rect x="392" y="551" width="18" height="17" fill="#8e0ca4"/><rect x="410" y="551" width="17" height="17" fill="#8f0da4"/><rect x="427" y="551" width="17" height="17" fill="#c13b82"/><rect x="444" y="551" width="17" height="17" fill="#e66c5c"/><rect x="461" y="551" width="18" height="17" fill="#b52f8c"/><rect x="479" y="551" width="17" height="17" fill="#8f0da4"/><rect x="496" y="551" width="17" height="17" fill="#a11b9b"/><rect x="513" y="551" width="17" height="17" fill="#8f0da4"/><rect x="530" y="551" width="18" height="17" fill="#8e0ca4"/><rect x="548" y="551" width="17" height="17" fill="#ba3388"/><rect x="307" y="568" width="16" height="17" fill="#b7318a"/><rect x="323" y="568" width="18" height="17" fill="#1b068d"/><rect x="341" y="568" width="17" height="17" fill="#ba3388"/><rect x="358" y="568" width="17" height="17" fill="#a11b9b"/><rect x="375" y="568" width="17" height="17" fill="#7501a8"/><rect x="392" y="568" width="18" height="17" fill="#a72197"/><rect x="410" y="568" width="17" height="17" fill="#8004a8"/><rect x="427" y="568" width="17" height="17" fill="#bf3984"/><rect x="444" y="568" width="17" height="17" fill="#c6417d"/><rect x="461" y="568" width="18" height="17" fill="#c33d80"/><rect x="479" y="568" width="17" height="17" fill="#e76e5b"/><rect x="496" y="568" width="17" height="17" fill="#bf3984"/><rect x="513" y="568" width="17" height="17" fill="#7a02a8"/><rect x="530" y="568" width="18" height="17" fill="#5c01a6"/><rect x="548" y="568" width="17" height="17" fill="#ba3388"/></g>
<path class="x" d="M326.6 329.9l11.8 11.8m-11.8 0l11.8 -11.8M343.8 329.9l11.8 11.8m-11.8 0l11.8 -11.8M360.9 329.9l11.8 11.8m-11.8 0l11.8 -11.8M378.1 329.9l11.8 11.8m-11.8 0l11.8 -11.8M395.4 329.9l11.8 11.8m-11.8 0l11.8 -11.8M412.6 329.9l11.8 11.8m-11.8 0l11.8 -11.8M429.8 329.9l11.8 11.8m-11.8 0l11.8 -11.8M446.9 329.9l11.8 11.8m-11.8 0l11.8 -11.8M464.1 329.9l11.8 11.8m-11.8 0l11.8 -11.8M481.4 329.9l11.8 11.8m-11.8 0l11.8 -11.8M498.5 329.9l11.8 11.8m-11.8 0l11.8 -11.8M515.8 329.9l11.8 11.8m-11.8 0l11.8 -11.8M532.9 329.9l11.8 11.8m-11.8 0l11.8 -11.8M550.1 329.9l11.8 11.8m-11.8 0l11.8 -11.8M309.4 347.1l11.8 11.8m-11.8 0l11.8 -11.8M326.6 347.1l11.8 11.8m-11.8 0l11.8 -11.8M343.8 347.1l11.8 11.8m-11.8 0l11.8 -11.8M360.9 347.1l11.8 11.8m-11.8 0l11.8 -11.8M378.1 347.1l11.8 11.8m-11.8 0l11.8 -11.8M395.4 347.1l11.8 11.8m-11.8 0l11.8 -11.8M412.6 347.1l11.8 11.8m-11.8 0l11.8 -11.8M429.8 347.1l11.8 11.8m-11.8 0l11.8 -11.8M446.9 347.1l11.8 11.8m-11.8 0l11.8 -11.8M464.1 347.1l11.8 11.8m-11.8 0l11.8 -11.8M481.4 347.1l11.8 11.8m-11.8 0l11.8 -11.8M498.5 347.1l11.8 11.8m-11.8 0l11.8 -11.8M515.8 347.1l11.8 11.8m-11.8 0l11.8 -11.8M532.9 347.1l11.8 11.8m-11.8 0l11.8 -11.8M309.4 364.2l11.8 11.8m-11.8 0l11.8 -11.8M326.6 364.2l11.8 11.8m-11.8 0l11.8 -11.8M343.8 364.2l11.8 11.8m-11.8 0l11.8 -11.8M360.9 364.2l11.8 11.8m-11.8 0l11.8 -11.8M378.1 364.2l11.8 11.8m-11.8 0l11.8 -11.8M395.4 364.2l11.8 11.8m-11.8 0l11.8 -11.8M412.6 364.2l11.8 11.8m-11.8 0l11.8 -11.8M429.8 364.2l11.8 11.8m-11.8 0l11.8 -11.8M446.9 364.2l11.8 11.8m-11.8 0l11.8 -11.8M481.4 364.2l11.8 11.8m-11.8 0l11.8 -11.8M498.5 364.2l11.8 11.8m-11.8 0l11.8 -11.8M515.8 364.2l11.8 11.8m-11.8 0l11.8 -11.8M309.4 381.4l11.8 11.8m-11.8 0l11.8 -11.8M326.6 381.4l11.8 11.8m-11.8 0l11.8 -11.8M343.8 381.4l11.8 11.8m-11.8 0l11.8 -11.8M360.9 381.4l11.8 11.8m-11.8 0l11.8 -11.8M378.1 381.4l11.8 11.8m-11.8 0l11.8 -11.8M395.4 381.4l11.8 11.8m-11.8 0l11.8 -11.8M412.6 381.4l11.8 11.8m-11.8 0l11.8 -11.8M429.8 381.4l11.8 11.8m-11.8 0l11.8 -11.8M446.9 381.4l11.8 11.8m-11.8 0l11.8 -11.8M464.1 381.4l11.8 11.8m-11.8 0l11.8 -11.8M481.4 381.4l11.8 11.8m-11.8 0l11.8 -11.8M498.5 381.4l11.8 11.8m-11.8 0l11.8 -11.8M515.8 381.4l11.8 11.8m-11.8 0l11.8 -11.8M550.1 381.4l11.8 11.8m-11.8 0l11.8 -11.8M309.4 398.6l11.8 11.8m-11.8 0l11.8 -11.8M326.6 398.6l11.8 11.8m-11.8 0l11.8 -11.8M343.8 398.6l11.8 11.8m-11.8 0l11.8 -11.8M360.9 398.6l11.8 11.8m-11.8 0l11.8 -11.8M378.1 398.6l11.8 11.8m-11.8 0l11.8 -11.8M395.4 398.6l11.8 11.8m-11.8 0l11.8 -11.8M412.6 398.6l11.8 11.8m-11.8 0l11.8 -11.8M429.8 398.6l11.8 11.8m-11.8 0l11.8 -11.8M446.9 398.6l11.8 11.8m-11.8 0l11.8 -11.8M481.4 398.6l11.8 11.8m-11.8 0l11.8 -11.8M498.5 398.6l11.8 11.8m-11.8 0l11.8 -11.8M515.8 398.6l11.8 11.8m-11.8 0l11.8 -11.8M550.1 398.6l11.8 11.8m-11.8 0l11.8 -11.8M326.6 415.9l11.8 11.8m-11.8 0l11.8 -11.8M343.8 415.9l11.8 11.8m-11.8 0l11.8 -11.8M395.4 415.9l11.8 11.8m-11.8 0l11.8 -11.8M412.6 415.9l11.8 11.8m-11.8 0l11.8 -11.8M429.8 415.9l11.8 11.8m-11.8 0l11.8 -11.8M464.1 415.9l11.8 11.8m-11.8 0l11.8 -11.8M498.5 415.9l11.8 11.8m-11.8 0l11.8 -11.8M532.9 415.9l11.8 11.8m-11.8 0l11.8 -11.8M309.4 433.1l11.8 11.8m-11.8 0l11.8 -11.8M326.6 433.1l11.8 11.8m-11.8 0l11.8 -11.8M343.8 433.1l11.8 11.8m-11.8 0l11.8 -11.8M360.9 433.1l11.8 11.8m-11.8 0l11.8 -11.8M446.9 433.1l11.8 11.8m-11.8 0l11.8 -11.8M498.5 433.1l11.8 11.8m-11.8 0l11.8 -11.8M360.9 450.2l11.8 11.8m-11.8 0l11.8 -11.8M395.4 450.2l11.8 11.8m-11.8 0l11.8 -11.8M412.6 450.2l11.8 11.8m-11.8 0l11.8 -11.8M446.9 450.2l11.8 11.8m-11.8 0l11.8 -11.8M464.1 450.2l11.8 11.8m-11.8 0l11.8 -11.8M550.1 450.2l11.8 11.8m-11.8 0l11.8 -11.8M309.4 467.4l11.8 11.8m-11.8 0l11.8 -11.8M326.6 467.4l11.8 11.8m-11.8 0l11.8 -11.8M343.8 467.4l11.8 11.8m-11.8 0l11.8 -11.8M395.4 467.4l11.8 11.8m-11.8 0l11.8 -11.8M498.5 467.4l11.8 11.8m-11.8 0l11.8 -11.8M360.9 484.6l11.8 11.8m-11.8 0l11.8 -11.8M464.1 484.6l11.8 11.8m-11.8 0l11.8 -11.8M498.5 484.6l11.8 11.8m-11.8 0l11.8 -11.8M343.8 501.9l11.8 11.8m-11.8 0l11.8 -11.8M446.9 501.9l11.8 11.8m-11.8 0l11.8 -11.8M550.1 501.9l11.8 11.8m-11.8 0l11.8 -11.8M550.1 519.0l11.8 11.8m-11.8 0l11.8 -11.8M498.5 536.2l11.8 11.8m-11.8 0l11.8 -11.8M515.8 536.2l11.8 11.8m-11.8 0l11.8 -11.8M326.6 553.4l11.8 11.8m-11.8 0l11.8 -11.8M343.8 553.4l11.8 11.8m-11.8 0l11.8 -11.8M395.4 570.6l11.8 11.8m-11.8 0l11.8 -11.8M412.6 570.6l11.8 11.8m-11.8 0l11.8 -11.8M481.4 570.6l11.8 11.8m-11.8 0l11.8 -11.8M532.9 570.6l11.8 11.8m-11.8 0l11.8 -11.8M550.1 570.6l11.8 11.8m-11.8 0l11.8 -11.8"/>
<rect class="f" x="306.5" y="327.5" width="259.0" height="258.0"/>
<text class="t" x="436.0" y="318.8" textLength="142.2" lengthAdjust="spacingAndGlyphs">WISE_Variable</text>
<g shape-rendering="crispEdges"><rect x="603" y="328" width="16" height="15" fill="#280592"/><rect x="619" y="328" width="18" height="15" fill="#8d0ba5"/><rect x="637" y="328" width="17" height="15" fill="#9410a2"/><rect x="654" y="328" width="17" height="15" fill="#df6263"/><rect x="671" y="328" width="17" height="15" fill="#fa9c3c"/><rect x="688" y="328" width="18" height="15" fill="#fa9e3b"/><rect x="706" y="328" width="17" height="15" fill="#f89540"/><rect x="723" y="328" width="17" height="15" fill="#e16462"/><rect x="740" y="328" width="17" height="15" fill="#b12a90"/><rect x="757" y="328" width="18" height="15" fill="#d04d73"/><rect x="775" y="328" width="17" height="15" fill="#d04d73"/><rect x="792" y="328" width="17" height="15" fill="#e16462"/><rect x="809" y="328" width="17" height="15" fill="#f89540"/><rect x="826" y="328" width="18" height="15" fill="#feba2c"/><rect x="844" y="328" width="17" height="15" fill="#f0f921"/><rect x="603" y="343" width="16" height="18" fill="#8d0ba5"/><rect x="619" y="343" width="18" height="18" fill="#8808a6"/><rect x="637" y="343" width="17" height="18" fill="#6300a7"/><rect x="654" y="343" width="17" height="18" fill="#8808a6"/><rect x="671" y="343" width="17" height="18" fill="#d04d73"/><rect x="688" y="343" width="18" height="18" fill="#b12a90"/><rect x="706" y="343" width="17" height="18" fill="#c13b82"/><rect x="723" y="343" width="17" height="18" fill="#8d0ba5"/><rect x="740" y="343" width="17" height="18" fill="#9a169f"/><rect x="757" y="343" width="18" height="18" fill="#8606a6"/><rect x="775" y="343" width="17" height="18" fill="#9613a1"/><rect x="792" y="343" width="17" height="18" fill="#dd5e66"/><rect x="809" y="343" width="17" height="18" fill="#dd5e66"/><rect x="826" y="343" width="18" height="18" fill="#d04d73"/><rect x="844" y="343" width="17" height="18" fill="#fdae32"/><rect x="603" y="361" width="16" height="17" fill="#2f0596"/><rect x="619" y="361" width="18" height="17" fill="#5c01a6"/><rect x="637" y="361" width="17" height="17" fill="#8104a7"/><rect x="654" y="361" width="17" height="17" fill="#9410a2"/><rect x="671" y="361" width="17" height="17" fill="#6e00a8"/><rect x="688" y="361" width="18" height="17" fill="#2f0596"/><rect x="706" y="361" width="17" height="17" fill="#9a169f"/><rect x="723" y="361" width="17" height="17" fill="#d35171"/><rect x="740" y="361" width="17" height="17" fill="#ed7a52"/><rect x="757" y="361" width="18" height="17" fill="#fba139"/><rect x="775" y="361" width="17" height="17" fill="#c6417d"/><rect x="792" y="361" width="17" height="17" fill="#5e01a6"/><rect x="809" y="361" width="17" height="17" fill="#ea7457"/><rect x="826" y="361" width="18" height="17" fill="#f9983e"/><rect x="844" y="361" width="17" height="17" fill="#f3874a"/><rect x="603" y="378" width="16" height="17" fill="#46039f"/><rect x="619" y="378" width="18" height="17" fill="#5c01a6"/><rect x="637" y="378" width="17" height="17" fill="#3f049c"/><rect x="654" y="378" width="17" height="17" fill="#6600a7"/><rect x="671" y="378" width="17" height="17" fill="#df6263"/><rect x="688" y="378" width="18" height="17" fill="#b12a90"/><rect x="706" y="378" width="17" height="17" fill="#b12a90"/><rect x="723" y="378" width="17" height="17" fill="#e97257"/><rect x="740" y="378" width="17" height="17" fill="#bd3786"/><rect x="757" y="378" width="18" height="17" fill="#febb2b"/><rect x="775" y="378" width="17" height="17" fill="#f79342"/><rect x="792" y="378" width="17" height="17" fill="#c13b82"/><rect x="809" y="378" width="17" height="17" fill="#e56a5d"/><rect x="826" y="378" width="18" height="17" fill="#e16462"/><rect x="844" y="378" width="17" height="17" fill="#d04d73"/><rect x="603" y="395" width="16" height="17" fill="#8606a6"/><rect x="619" y="395" width="18" height="17" fill="#0d0887"/><rect x="637" y="395" width="17" height="17" fill="#3a049a"/><rect x="654" y="395" width="17" height="17" fill="#9613a1"/><rect x="671" y="395" width="17" height="17" fill="#df6263"/><rect x="688" y="395" width="18" height="17" fill="#d9586a"/><rect x="706" y="395" width="17" height="17" fill="#b7318a"/><rect x="723" y="395" width="17" height="17" fill="#a21d9a"/><rect x="740" y="395" width="17" height="17" fill="#f07f4f"/><rect x="757" y="395" width="18" height="17" fill="#f9dc24"/><rect x="775" y="395" width="17" height="17" fill="#9e199d"/><rect x="792" y="395" width="17" height="17" fill="#ce4b75"/><rect x="809" y="395" width="17" height="17" fill="#e3685f"/><rect x="826" y="395" width="18" height="17" fill="#dc5d67"/><rect x="844" y="395" width="17" height="17" fill="#bf3984"/><rect x="603" y="412" width="16" height="18" fill="#d04d73"/><rect x="619" y="412" width="18" height="18" fill="#6e00a8"/><rect x="637" y="412" width="17" height="18" fill="#7201a8"/><rect x="654" y="412" width="17" height="18" fill="#c13b82"/><rect x="671" y="412" width="17" height="18" fill="#c6417d"/><rect x="688" y="412" width="18" height="18" fill="#6a00a8"/><rect x="706" y="412" width="17" height="18" fill="#bc3587"/><rect x="723" y="412" width="17" height="18" fill="#d5536f"/><rect x="740" y="412" width="17" height="18" fill="#eeeeee"/><rect x="757" y="412" width="18" height="18" fill="#fdac33"/><rect x="775" y="412" width="17" height="18" fill="#fdab33"/><rect x="792" y="412" width="17" height="18" fill="#ca457a"/><rect x="809" y="412" width="17" height="18" fill="#fdac33"/><rect x="826" y="412" width="18" height="18" fill="#d35171"/><rect x="844" y="412" width="17" height="18" fill="#cc4977"/><rect x="603" y="430" width="16" height="17" fill="#5601a4"/><rect x="619" y="430" width="18" height="17" fill="#3a049a"/><rect x="637" y="430" width="17" height="17" fill="#6e00a8"/><rect x="654" y="430" width="17" height="17" fill="#b02991"/><rect x="671" y="430" width="17" height="17" fill="#ad2793"/><rect x="688" y="430" width="18" height="17" fill="#5e01a6"/><rect x="706" y="430" width="17" height="17" fill="#6300a7"/><rect x="723" y="430" width="17" height="17" fill="#bf3984"/><rect x="740" y="430" width="17" height="17" fill="#f79342"/><rect x="757" y="430" width="18" height="17" fill="#f58c46"/><rect x="775" y="430" width="17" height="17" fill="#eb7655"/><rect x="792" y="430" width="17" height="17" fill="#8f0da4"/><rect x="809" y="430" width="17" height="17" fill="#c33d80"/><rect x="826" y="430" width="18" height="17" fill="#bc3587"/><rect x="844" y="430" width="17" height="17" fill="#df6263"/><rect x="603" y="447" width="16" height="17" fill="#9410a2"/><rect x="619" y="447" width="18" height="17" fill="#8104a7"/><rect x="637" y="447" width="17" height="17" fill="#5601a4"/><rect x="654" y="447" width="17" height="17" fill="#6a00a8"/><rect x="671" y="447" width="17" height="17" fill="#9410a2"/><rect x="688" y="447" width="18" height="17" fill="#9c179e"/><rect x="706" y="447" width="17" height="17" fill="#260591"/><rect x="723" y="447" width="17" height="17" fill="#8f0da4"/><rect x="740" y="447" width="17" height="17" fill="#dc5d67"/><rect x="757" y="447" width="18" height="17" fill="#dd5e66"/><rect x="775" y="447" width="17" height="17" fill="#6300a7"/><rect x="792" y="447" width="17" height="17" fill="#ad2793"/><rect x="809" y="447" width="17" height="17" fill="#ad2793"/><rect x="826" y="447" width="18" height="17" fill="#c8437b"/><rect x="844" y="447" width="17" height="17" fill="#b12a90"/><rect x="603" y="464" width="16" height="17" fill="#8808a6"/><rect x="619" y="464" width="18" height="17" fill="#3a049a"/><rect x="637" y="464" width="17" height="17" fill="#aa2395"/><rect x="654" y="464" width="17" height="17" fill="#aa2395"/><rect x="671" y="464" width="17" height="17" fill="#7201a8"/><rect x="688" y="464" width="18" height="17" fill="#6e00a8"/><rect x="706" y="464" width="17" height="17" fill="#3a049a"/><rect x="723" y="464" width="17" height="17" fill="#a11b9b"/><rect x="740" y="464" width="17" height="17" fill="#c13b82"/><rect x="757" y="464" width="18" height="17" fill="#8104a7"/><rect x="775" y="464" width="17" height="17" fill="#b52f8c"/><rect x="792" y="464" width="17" height="17" fill="#8808a6"/><rect x="809" y="464" width="17" height="17" fill="#8808a6"/><rect x="826" y="464" width="18" height="17" fill="#a21d9a"/><rect x="844" y="464" width="17" height="17" fill="#a11b9b"/><rect x="603" y="481" width="16" height="18" fill="#8004a8"/><rect x="619" y="481" width="18" height="18" fill="#5c01a6"/><rect x="637" y="481" width="17" height="18" fill="#b7318a"/><rect x="654" y="481" width="17" height="18" fill="#b32c8e"/><rect x="671" y="481" width="17" height="18" fill="#8004a8"/><rect x="688" y="481" width="18" height="18" fill="#6a00a8"/><rect x="706" y="481" width="17" height="18" fill="#8004a8"/><rect x="723" y="481" width="17" height="18" fill="#bc3587"/><rect x="740" y="481" width="17" height="18" fill="#6e00a8"/><rect x="757" y="481" width="18" height="18" fill="#6600a7"/><rect x="775" y="481" width="17" height="18" fill="#6a00a8"/><rect x="792" y="481" width="17" height="18" fill="#7801a8"/><rect x="809" y="481" width="17" height="18" fill="#c9447a"/><rect x="826" y="481" width="18" height="18" fill="#8e0ca4"/><rect x="844" y="481" width="17" height="18" fill="#e66c5c"/><rect x="603" y="499" width="16" height="17" fill="#5002a2"/><rect x="619" y="499" width="18" height="17" fill="#3a049a"/><rect x="637" y="499" width="17" height="17" fill="#a72197"/><rect x="654" y="499" width="17" height="17" fill="#8e0ca4"/><rect x="671" y="499" width="17" height="17" fill="#260591"/><rect x="688" y="499" width="18" height="17" fill="#5002a2"/><rect x="706" y="499" width="17" height="17" fill="#8a09a5"/><rect x="723" y="499" width="17" height="17" fill="#6e00a8"/><rect x="740" y="499" width="17" height="17" fill="#7201a8"/><rect x="757" y="499" width="18" height="17" fill="#8e0ca4"/><rect x="775" y="499" width="17" height="17" fill="#ab2494"/><rect x="792" y="499" width="17" height="17" fill="#aa2395"/><rect x="809" y="499" width="17" height="17" fill="#cc4778"/><rect x="826" y="499" width="18" height="17" fill="#b32c8e"/><rect x="844" y="499" width="17" height="17" fill="#d6556d"/><rect x="603" y="516" width="16" height="17" fill="#280592"/><rect x="619" y="516" width="18" height="17" fill="#8004a8"/><rect x="637" y="516" width="17" height="17" fill="#3a049a"/><rect x="654" y="516" width="17" height="17" fill="#6600a7"/><rect x="671" y="516" width="17" height="17" fill="#5c01a6"/><rect x="688" y="516" width="18" height="17" fill="#5002a2"/><rect x="706" y="516" width="17" height="17" fill="#6a00a8"/><rect x="723" y="516" width="17" height="17" fill="#5801a4"/><rect x="740" y="516" width="17" height="17" fill="#6e00a8"/><rect x="757" y="516" width="18" height="17" fill="#7501a8"/><rect x="775" y="516" width="17" height="17" fill="#6300a7"/><rect x="792" y="516" width="17" height="17" fill="#8004a8"/><rect x="809" y="516" width="17" height="17" fill="#b7318a"/><rect x="826" y="516" width="18" height="17" fill="#b12a90"/><rect x="844" y="516" width="17" height="17" fill="#e76e5b"/><rect x="603" y="533" width="16" height="18" fill="#43039e"/><rect x="619" y="533" width="18" height="18" fill="#9a169f"/><rect x="637" y="533" width="17" height="18" fill="#8e0ca4"/><rect x="654" y="533" width="17" height="18" fill="#6001a6"/><rect x="671" y="533" width="17" height="18" fill="#5c01a6"/><rect x="688" y="533" width="18" height="18" fill="#6700a8"/><rect x="706" y="533" width="17" height="18" fill="#6e00a8"/><rect x="723" y="533" width="17" height="18" fill="#3f049c"/><rect x="740" y="533" width="17" height="18" fill="#9a169f"/><rect x="757" y="533" width="18" height="18" fill="#7a02a8"/><rect x="775" y="533" width="17" height="18" fill="#6e00a8"/><rect x="792" y="533" width="17" height="18" fill="#8004a8"/><rect x="809" y="533" width="17" height="18" fill="#8104a7"/><rect x="826" y="533" width="18" height="18" fill="#9e199d"/><rect x="844" y="533" width="17" height="18" fill="#bf3984"/><rect x="603" y="551" width="16" height="17" fill="#9410a2"/><rect x="619" y="551" width="18" height="17" fill="#5c01a6"/><rect x="637" y="551" width="17" height="17" fill="#2a0593"/><rect x="654" y="551" width="17" height="17" fill="#8305a7"/><rect x="671" y="551" width="17" height="17" fill="#6c00a8"/><rect x="688" y="551" width="18" height="17" fill="#8e0ca4"/><rect x="706" y="551" width="17" height="17" fill="#8f0da4"/><rect x="723" y="551" width="17" height="17" fill="#c13b82"/><rect x="740" y="551" width="17" height="17" fill="#e66c5c"/><rect x="757" y="551" width="18" height="17" fill="#b52f8c"/><rect x="775" y="551" width="17" height="17" fill="#8f0da4"/><rect x="792" y="551" width="17" height="17" fill="#a11b9b"/><rect x="809" y="551" width="17" height="17" fill="#8f0da4"/><rect x="826" y="551" width="18" height="17" fill="#8e0ca4"/><rect x="844" y="551" width="17" height="17" fill="#ba3388"/><rect x="603" y="568" width="16" height="17" fill="#b7318a"/><rect x="619" y="568" width="18" height="17" fill="#1b068d"/><rect x="637" y="568" width="17" height="17" fill="#ba3388"/><rect x="654" y="568" width="17" height="17" fill="#a11b9b"/><rect x="671" y="568" width="17" height="17" fill="#7501a8"/><rect x="688" y="568" width="18" height="17" fill="#a72197"/><rect x="706" y="568" width="17" height="17" fill="#8004a8"/><rect x="723" y="568" width="17" height="17" fill="#bf3984"/><rect x="740" y="568" width="17" height="17" fill="#c6417d"/><rect x="757" y="568" width="18" height="17" fill="#c33d80"/><rect x="775" y="568" width="17" height="17" fill="#e76e5b"/><rect x="792" y="568" width="17" height="17" fill="#bf3984"/><rect x="809" y="568" width="17" height="17" fill="#7a02a8"/><rect x="826" y="568" width="18" height="17" fill="#5c01a6"/><rect x="844" y="568" width="17" height="17" fill="#ba3388"/></g>
<path class="x" d="M725.8 329.9l11.8 11.8m-11.8 0l11.8 -11.8M794.5 329.9l11.8 11.8m-11.8 0l11.8 -11.8M725.8 347.1l11.8 11.8m-11.8 0l11.8 -11.8M760.1 347.1l11.8 11.8m-11.8 0l11.8 -11.8M777.4 347.1l11.8 11.8m-11.8 0l11.8 -11.8M794.5 347.1l11.8 11.8m-11.8 0l11.8 -11.8M811.8 347.1l11.8 11.8m-11.8 0l11.8 -11.8M828.9 347.1l11.8 11.8m-11.8 0l11.8 -11.8M691.4 364.2l11.8 11.8m-11.8 0l11.8 -11.8M708.5 364.2l11.8 11.8m-11.8 0l11.8 -11.8M794.5 364.2l11.8 11.8m-11.8 0l11.8 -11.8M811.8 364.2l11.8 11.8m-11.8 0l11.8 -11.8M828.9 364.2l11.8 11.8m-11.8 0l11.8 -11.8M846.1 364.2l11.8 11.8m-11.8 0l11.8 -11.8M639.8 381.4l11.8 11.8m-11.8 0l11.8 -11.8M708.5 381.4l11.8 11.8m-11.8 0l11.8 -11.8M794.5 381.4l11.8 11.8m-11.8 0l11.8 -11.8M846.1 381.4l11.8 11.8m-11.8 0l11.8 -11.8M674.1 398.6l11.8 11.8m-11.8 0l11.8 -11.8M777.4 398.6l11.8 11.8m-11.8 0l11.8 -11.8M657.0 415.9l11.8 11.8m-11.8 0l11.8 -11.8M708.5 415.9l11.8 11.8m-11.8 0l11.8 -11.8M828.9 415.9l11.8 11.8m-11.8 0l11.8 -11.8M811.8 433.1l11.8 11.8m-11.8 0l11.8 -11.8M846.1 433.1l11.8 11.8m-11.8 0l11.8 -11.8M777.4 450.2l11.8 11.8m-11.8 0l11.8 -11.8M794.5 450.2l11.8 11.8m-11.8 0l11.8 -11.8M811.8 450.2l11.8 11.8m-11.8 0l11.8 -11.8M846.1 450.2l11.8 11.8m-11.8 0l11.8 -11.8M794.5 467.4l11.8 11.8m-11.8 0l11.8 -11.8M811.8 467.4l11.8 11.8m-11.8 0l11.8 -11.8M846.1 467.4l11.8 11.8m-11.8 0l11.8 -11.8M760.1 484.6l11.8 11.8m-11.8 0l11.8 -11.8M794.5 484.6l11.8 11.8m-11.8 0l11.8 -11.8M674.1 501.9l11.8 11.8m-11.8 0l11.8 -11.8M742.9 501.9l11.8 11.8m-11.8 0l11.8 -11.8M691.4 536.2l11.8 11.8m-11.8 0l11.8 -11.8M811.8 536.2l11.8 11.8m-11.8 0l11.8 -11.8M811.8 553.4l11.8 11.8m-11.8 0l11.8 -11.8M605.4 570.6l11.8 11.8m-11.8 0l11.8 -11.8M622.5 570.6l11.8 11.8m-11.8 0l11.8 -11.8M742.9 570.6l11.8 11.8m-11.8 0l11.8 -11.8"/>
<rect class="f" x="602.5" y="327.5" width="259.0" height="258.0"/>
<text class="t" x="732.0" y="318.8" textLength="161.8" lengthAdjust="spacingAndGlyphs">Optical_Variable</text>
<g shape-rendering="crispEdges"><rect x="900" y="328" width="16" height="15" fill="#280592"/><rect x="916" y="328" width="18" height="15" fill="#8d0ba5"/><rect x="934" y="328" width="17" height="15" fill="#9410a2"/><rect x="951" y="328" width="17" height="15" fill="#df6263"/><rect x="968" y="328" width="17" height="15" fill="#fa9c3c"/><rect x="985" y="328" width="18" height="15" fill="#fa9e3b"/><rect x="1003" y="328" width="17" height="15" fill="#f89540"/><rect x="1020" y="328" width="17" height="15" fill="#e16462"/><rect x="1037" y="328" width="17" height="15" fill="#b12a90"/><rect x="1054" y="328" width="18" height="15" fill="#d04d73"/><rect x="1072" y="328" width="17" height="15" fill="#d04d73"/><rect x="1089" y="328" width="17" height="15" fill="#e16462"/><rect x="1106" y="328" width="17" height="15" fill="#f89540"/><rect x="1123" y="328" width="18" height="15" fill="#feba2c"/><rect x="1141" y="328" width="16" height="15" fill="#f0f921"/><rect x="900" y="343" width="16" height="18" fill="#8d0ba5"/><rect x="916" y="343" width="18" height="18" fill="#8808a6"/><rect x="934" y="343" width="17" height="18" fill="#6300a7"/><rect x="951" y="343" width="17" height="18" fill="#8808a6"/><rect x="968" y="343" width="17" height="18" fill="#d04d73"/><rect x="985" y="343" width="18" height="18" fill="#b12a90"/><rect x="1003" y="343" width="17" height="18" fill="#c13b82"/><rect x="1020" y="343" width="17" height="18" fill="#8d0ba5"/><rect x="1037" y="343" width="17" height="18" fill="#9a169f"/><rect x="1054" y="343" width="18" height="18" fill="#8606a6"/><rect x="1072" y="343" width="17" height="18" fill="#9613a1"/><rect x="1089" y="343" width="17" height="18" fill="#dd5e66"/><rect x="1106" y="343" width="17" height="18" fill="#dd5e66"/><rect x="1123" y="343" width="18" height="18" fill="#d04d73"/><rect x="1141" y="343" width="16" height="18" fill="#fdae32"/><rect x="900" y="361" width="16" height="17" fill="#2f0596"/><rect x="916" y="361" width="18" height="17" fill="#5c01a6"/><rect x="934" y="361" width="17" height="17" fill="#8104a7"/><rect x="951" y="361" width="17" height="17" fill="#9410a2"/><rect x="968" y="361" width="17" height="17" fill="#6e00a8"/><rect x="985" y="361" width="18" height="17" fill="#2f0596"/><rect x="1003" y="361" width="17" height="17" fill="#9a169f"/><rect x="1020" y="361" width="17" height="17" fill="#d35171"/><rect x="1037" y="361" width="17" height="17" fill="#ed7a52"/><rect x="1054" y="361" width="18" height="17" fill="#fba139"/><rect x="1072" y="361" width="17" height="17" fill="#c6417d"/><rect x="1089" y="361" width="17" height="17" fill="#5e01a6"/><rect x="1106" y="361" width="17" height="17" fill="#ea7457"/><rect x="1123" y="361" width="18" height="17" fill="#f9983e"/><rect x="1141" y="361" width="16" height="17" fill="#f3874a"/><rect x="900" y="378" width="16" height="17" fill="#46039f"/><rect x="916" y="378" width="18" height="17" fill="#5c01a6"/><rect x="934" y="378" width="17" height="17" fill="#3f049c"/><rect x="951" y="378" width="17" height="17" fill="#6600a7"/><rect x="968" y="378" width="17" height="17" fill="#df6263"/><rect x="985" y="378" width="18" height="17" fill="#b12a90"/><rect x="1003" y="378" width="17" height="17" fill="#b12a90"/><rect x="1020" y="378" width="17" height="17" fill="#e97257"/><rect x="1037" y="378" width="17" height="17" fill="#bd3786"/><rect x="1054" y="378" width="18" height="17" fill="#febb2b"/><rect x="1072" y="378" width="17" height="17" fill="#f79342"/><rect x="1089" y="378" width="17" height="17" fill="#c13b82"/><rect x="1106" y="378" width="17" height="17" fill="#e56a5d"/><rect x="1123" y="378" width="18" height="17" fill="#e16462"/><rect x="1141" y="378" width="16" height="17" fill="#d04d73"/><rect x="900" y="395" width="16" height="17" fill="#8606a6"/><rect x="916" y="395" width="18" height="17" fill="#0d0887"/><rect x="934" y="395" width="17" height="17" fill="#3a049a"/><rect x="951" y="395" width="17" height="17" fill="#9613a1"/><rect x="968" y="395" width="17" height="17" fill="#df6263"/><rect x="985" y="395" width="18" height="17" fill="#d9586a"/><rect x="1003" y="395" width="17" height="17" fill="#b7318a"/><rect x="1020" y="395" width="17" height="17" fill="#a21d9a"/><rect x="1037" y="395" width="17" height="17" fill="#f07f4f"/><rect x="1054" y="395" width="18" height="17" fill="#f9dc24"/><rect x="1072" y="395" width="17" height="17" fill="#9e199d"/><rect x="1089" y="395" width="17" height="17" fill="#ce4b75"/><rect x="1106" y="395" width="17" height="17" fill="#e3685f"/><rect x="1123" y="395" width="18" height="17" fill="#dc5d67"/><rect x="1141" y="395" width="16" height="17" fill="#bf3984"/><rect x="900" y="412" width="16" height="18" fill="#d04d73"/><rect x="916" y="412" width="18" height="18" fill="#6e00a8"/><rect x="934" y="412" width="17" height="18" fill="#7201a8"/><rect x="951" y="412" width="17" height="18" fill="#c13b82"/><rect x="968" y="412" width="17" height="18" fill="#c6417d"/><rect x="985" y="412" width="18" height="18" fill="#6a00a8"/><rect x="1003" y="412" width="17" height="18" fill="#bc3587"/><rect x="1020" y="412" width="17" height="18" fill="#d5536f"/><rect x="1037" y="412" width="17" height="18" fill="#eeeeee"/><rect x="1054" y="412" width="18" height="18" fill="#fdac33"/><rect x="1072" y="412" width="17" height="18" fill="#fdab33"/><rect x="1089" y="412" width="17" height="18" fill="#ca457a"/><rect x="1106" y="412" width="17" height="18" fill="#fdac33"/><rect x="1123" y="412" width="18" height="18" fill="#d35171"/><rect x="1141" y="412" width="16" height="18" fill="#cc4977"/><rect x="900" y="430" width="16" height="17" fill="#5601a4"/><rect x="916" y="430" width="18" height="17" fill="#3a049a"/><rect x="934" y="430" width="17" height="17" fill="#6e00a8"/><rect x="951" y="430" width="17" height="17" fill="#b02991"/><rect x="968" y="430" width="17" height="17" fill="#ad2793"/><rect x="985" y="430" width="18" height="17" fill="#5e01a6"/><rect x="1003" y="430" width="17" height="17" fill="#6300a7"/><rect x="1020" y="430" width="17" height="17" fill="#bf3984"/><rect x="1037" y="430" width="17" height="17" fill="#f79342"/><rect x="1054" y="430" width="18" height="17" fill="#f58c46"/><rect x="1072" y="430" width="17" height="17" fill="#eb7655"/><rect x="1089" y="430" width="17" height="17" fill="#8f0da4"/><rect x="1106" y="430" width="17" height="17" fill="#c33d80"/><rect x="1123" y="430" width="18" height="17" fill="#bc3587"/><rect x="1141" y="430" width="16" height="17" fill="#df6263"/><rect x="900" y="447" width="16" height="17" fill="#9410a2"/><rect x="916" y="447" width="18" height="17" fill="#8104a7"/><rect x="934" y="447" width="17" height="17" fill="#5601a4"/><rect x="951" y="447" width="17" height="17" fill="#6a00a8"/><rect x="968" y="447" width="17" height="17" fill="#9410a2"/><rect x="985" y="447" width="18" height="17" fill="#9c179e"/><rect x="1003" y="447" width="17" height="17" fill="#260591"/><rect x="1020" y="447" width="17" height="17" fill="#8f0da4"/><rect x="1037" y="447" width="17" height="17" fill="#dc5d67"/><rect x="1054" y="447" width="18" height="17" fill="#dd5e66"/><rect x="1072" y="447" width="17" height="17" fill="#6300a7"/><rect x="1089" y="447" width="17" height="17" fill="#ad2793"/><rect x="1106" y="447" width="17" height="17" fill="#ad2793"/><rect x="1123" y="447" width="18" height="17" fill="#c8437b"/><rect x="1141" y="447" width="16" height="17" fill="#b12a90"/><rect x="900" y="464" width="16" height="17" fill="#8808a6"/><rect x="916" y="464" width="18" height="17" fill="#3a049a"/><rect x="934" y="464" width="17" height="17" fill="#aa2395"/><rect x="951" y="464" width="17" height="17" fill="#aa2395"/><rect x="968" y="464" width="17" height="17" fill="#7201a8"/><rect x="985" y="464" width="18" height="17" fill="#6e00a8"/><rect x="1003" y="464" width="17" height="17" fill="#3a049a"/><rect x="1020" y="464" width="17" height="17" fill="#a11b9b"/><rect x="1037" y="464" width="17" height="17" fill="#c13b82"/><rect x="1054" y="464" width="18" height="17" fill="#8104a7"/><rect x="1072" y="464" width="17" height="17" fill="#b52f8c"/><rect x="1089" y="464" width="17" height="17" fill="#8808a6"/><rect x="1106" y="464" width="17" height="17" fill="#8808a6"/><rect x="1123" y="464" width="18" height="17" fill="#a21d9a"/><rect x="1141" y="464" width="16" height="17" fill="#a11b9b"/><rect x="900" y="481" width="16" height="18" fill="#8004a8"/><rect x="916" y="481" width="18" height="18" fill="#5c01a6"/><rect x="934" y="481" width="17" height="18" fill="#b7318a"/><rect x="951" y="481" width="17" height="18" fill="#b32c8e"/><rect x="968" y="481" width="17" height="18" fill="#8004a8"/><rect x="985" y="481" width="18" height="18" fill="#6a00a8"/><rect x="1003" y="481" width="17" height="18" fill="#8004a8"/><rect x="1020" y="481" width="17" height="18" fill="#bc3587"/><rect x="1037" y="481" width="17" height="18" fill="#6e00a8"/><rect x="1054" y="481" width="18" height="18" fill="#6600a7"/><rect x="1072" y="481" width="17" height="18" fill="#6a00a8"/><rect x="1089" y="481" width="17" height="18" fill="#7801a8"/><rect x="1106" y="481" width="17" height="18" fill="#c9447a"/><rect x="1123" y="481" width="18" height="18" fill="#8e0ca4"/><rect x="1141" y="481" width="16" height="18" fill="#e66c5c"/><rect x="900" y="499" width="16" height="17" fill="#5002a2"/><rect x="916" y="499" width="18" height="17" fill="#3a049a"/><rect x="934" y="499" width="17" height="17" fill="#a72197"/><rect x="951" y="499" width="17" height="17" fill="#8e0ca4"/><rect x="968" y="499" width="17" height="17" fill="#260591"/><rect x="985" y="499" width="18" height="17" fill="#5002a2"/><rect x="1003" y="499" width="17" height="17" fill="#8a09a5"/><rect x="1020" y="499" width="17" height="17" fill="#6e00a8"/><rect x="1037" y="499" width="17" height="17" fill="#7201a8"/><rect x="1054" y="499" width="18" height="17" fill="#8e0ca4"/><rect x="1072" y="499" width="17" height="17" fill="#ab2494"/><rect x="1089" y="499" width="17" height="17" fill="#aa2395"/><rect x="1106" y="499" width="17" height="17" fill="#cc4778"/><rect x="1123" y="499" width="18" height="17" fill="#b32c8e"/><rect x="1141" y="499" width="16" height="17" fill="#d6556d"/><rect x="900" y="516" width="16" height="17" fill="#280592"/><rect x="916" y="516" width="18" height="17" fill="#8004a8"/><rect x="934" y="516" width="17" height="17" fill="#3a049a"/><rect x="951" y="516" width="17" height="17" fill="#6600a7"/><rect x="968" y="516" width="17" height="17" fill="#5c01a6"/><rect x="985" y="516" width="18" height="17" fill="#5002a2"/><rect x="1003" y="516" width="17" height="17" fill="#6a00a8"/><rect x="1020" y="516" width="17" height="17" fill="#5801a4"/><rect x="1037" y="516" width="17" height="17" fill="#6e00a8"/><rect x="1054" y="516" width="18" height="17" fill="#7501a8"/><rect x="1072" y="516" width="17" height="17" fill="#6300a7"/><rect x="1089" y="516" width="17" height="17" fill="#8004a8"/><rect x="1106" y="516" width="17" height="17" fill="#b7318a"/><rect x="1123" y="516" width="18" height="17" fill="#b12a90"/><rect x="1141" y="516" width="16" height="17" fill="#e76e5b"/><rect x="900" y="533" width="16" height="18" fill="#43039e"/><rect x="916" y="533" width="18" height="18" fill="#9a169f"/><rect x="934" y="533" width="17" height="18" fill="#8e0ca4"/><rect x="951" y="533" width="17" height="18" fill="#6001a6"/><rect x="968" y="533" width="17" height="18" fill="#5c01a6"/><rect x="985" y="533" width="18" height="18" fill="#6700a8"/><rect x="1003" y="533" width="17" height="18" fill="#6e00a8"/><rect x="1020" y="533" width="17" height="18" fill="#3f049c"/><rect x="1037" y="533" width="17" height="18" fill="#9a169f"/><rect x="1054" y="533" width="18" height="18" fill="#7a02a8"/><rect x="1072" y="533" width="17" height="18" fill="#6e00a8"/><rect x="1089" y="533" width="17" height="18" fill="#8004a8"/><rect x="1106" y="533" width="17" height="18" fill="#8104a7"/><rect x="1123" y="533" width="18" height="18" fill="#9e199d"/><rect x="1141" y="533" width="16" height="18" fill="#bf3984"/><rect x="900" y="551" width="16" height="17" fill="#9410a2"/><rect x="916" y="551" width="18" height="17" fill="#5c01a6"/><rect x="934" y="551" width="17" height="17" fill="#2a0593"/><rect x="951" y="551" width="17" height="17" fill="#8305a7"/><rect x="968" y="551" width="17" height="17" fill="#6c00a8"/><rect x="985" y="551" width="18" height="17" fill="#8e0ca4"/><rect x="1003" y="551" width="17" height="17" fill="#8f0da4"/><rect x="1020" y="551" width="17" height="17" fill="#c13b82"/><rect x="1037" y="551" width="17" height="17" fill="#e66c5c"/><rect x="1054" y="551" width="18" height="17" fill="#b52f8c"/><rect x="1072" y="551" width="17" height="17" fill="#8f0da4"/><rect x="1089" y="551" width="17" height="17" fill="#a11b9b"/><rect x="1106" y="551" width="17" height="17" fill="#8f0da4"/><rect x="1123" y="551" width="18" height="17" fill="#8e0ca4"/><rect x="1141" y="551" width="16" height="17" fill="#ba3388"/><rect x="900" y="568" width="16" height="17" fill="#b7318a"/><rect x="916" y="568" width="18" height="17" fill="#1b068d"/><rect x="934" y="568" width="17" height="17" fill="#ba3388"/><rect x="951" y="568" width="17" height="17" fill="#a11b9b"/><rect x="968" y="568" width="17" height="17" fill="#7501a8"/><rect x="985" y="568" width="18" height="17" fill="#a72197"/><rect x="1003" y="568" width="17" height="17" fill="#8004a8"/><rect x="1020" y="568" width="17" height="17" fill="#bf3984"/><rect x="1037" y="568" width="17" height="17" fill="#c6417d"/><rect x="1054" y="568" width="18" height="17" fill="#c33d80"/><rect x="1072" y="568" width="17" height="17" fill="#e76e5b"/><rect x="1089" y="568" width="17" height="17" fill="#bf3984"/><rect x="1106" y="568" width="17" height="17" fill="#7a02a8"/><rect x="1123" y="568" width="18" height="17" fill="#5c01a6"/><rect x="1141" y="568" width="16" height="17" fill="#ba3388"/></g>
<path class="x" d="M902.4 329.9l11.8 11.8m-11.8 0l11.8 -11.8M1005.5 329.9l11.8 11.8m-11.8 0l11.8 -11.8M1074.3 347.1l11.8 11.8m-11.8 0l11.8 -11.8M1125.9 398.6l11.8 11.8m-11.8 0l11.8 -11.8M1005.5 450.2l11.8 11.8m-11.8 0l11.8 -11.8M1091.5 450.2l11.8 11.8m-11.8 0l11.8 -11.8M1022.8 467.4l11.8 11.8m-11.8 0l11.8 -11.8M1039.9 467.4l11.8 11.8m-11.8 0l11.8 -11.8M1039.9 484.6l11.8 11.8m-11.8 0l11.8 -11.8M1074.3 484.6l11.8 11.8m-11.8 0l11.8 -11.8M988.4 501.9l11.8 11.8m-11.8 0l11.8 -11.8M1039.9 501.9l11.8 11.8m-11.8 0l11.8 -11.8M1125.9 501.9l11.8 11.8m-11.8 0l11.8 -11.8M988.4 519.0l11.8 11.8m-11.8 0l11.8 -11.8M1005.5 519.0l11.8 11.8m-11.8 0l11.8 -11.8M1039.9 519.0l11.8 11.8m-11.8 0l11.8 -11.8M1057.1 519.0l11.8 11.8m-11.8 0l11.8 -11.8M1074.3 519.0l11.8 11.8m-11.8 0l11.8 -11.8M1091.5 519.0l11.8 11.8m-11.8 0l11.8 -11.8M971.1 536.2l11.8 11.8m-11.8 0l11.8 -11.8M988.4 536.2l11.8 11.8m-11.8 0l11.8 -11.8M1091.5 536.2l11.8 11.8m-11.8 0l11.8 -11.8M1108.8 536.2l11.8 11.8m-11.8 0l11.8 -11.8M1143.1 536.2l11.8 11.8m-11.8 0l11.8 -11.8M1143.1 553.4l11.8 11.8m-11.8 0l11.8 -11.8M1057.1 570.6l11.8 11.8m-11.8 0l11.8 -11.8"/>
<rect class="f" x="899.5" y="327.5" width="258.0" height="258.0"/>
<text class="t" x="1028.5" y="318.8" textLength="148.3" lengthAdjust="spacingAndGlyphs">Galex_Variable</text>
<g shape-rendering="crispEdges"><rect x="11" y="623" width="16" height="15" fill="#280592"/><rect x="27" y="623" width="18" height="15" fill="#8d0ba5"/><rect x="45" y="623" width="17" height="15" fill="#9410a2"/><rect x="62" y="623" width="17" height="15" fill="#df6263"/><rect x="79" y="623" width="17" height="15" fill="#fa9c3c"/><rect x="96" y="623" width="18" height="15" fill="#fa9e3b"/><rect x="114" y="623" width="17" height="15" fill="#f89540"/><rect x="131" y="623" width="17" height="15" fill="#e16462"/><rect x="148" y="623" width="17" height="15" fill="#b12a90"/><rect x="165" y="623" width="18" height="15" fill="#d04d73"/><rect x="183" y="623" width="17" height="15" fill="#d04d73"/><rect x="200" y="623" width="17" height="15" fill="#e16462"/><rect x="217" y="623" width="17" height="15" fill="#f89540"/><rect x="234" y="623" width="18" height="15" fill="#feba2c"/><rect x="252" y="623" width="16" height="15" fill="#f0f921"/><rect x="11" y="638" width="16" height="18" fill="#8d0ba5"/><rect x="27" y="638" width="18" height="18" fill="#8808a6"/><rect x="45" y="638" width="17" height="18" fill="#6300a7"/><rect x="62" y="638" width="17" height="18" fill="#8808a6"/><rect x="79" y="638" width="17" height="18" fill="#d04d73"/><rect x="96" y="638" width="18" height="18" fill="#b12a90"/><rect x="114" y="638" width="17" height="18" fill="#c13b82"/><rect x="131" y="638" width="17" height="18" fill="#8d0ba5"/><rect x="148" y="638" width="17" height="18" fill="#9a169f"/><rect x="165" y="638" width="18" height="18" fill="#8606a6"/><rect x="183" y="638" width="17" height="18" fill="#9613a1"/><rect x="200" y="638" width="17" height="18" fill="#dd5e66"/><rect x="217" y="638" width="17" height="18" fill="#dd5e66"/><rect x="234" y="638" width="18" height="18" fill="#d04d73"/><rect x="252" y="638" width="16" height="18" fill="#fdae32"/><rect x="11" y="656" width="16" height="17" fill="#2f0596"/><rect x="27" y="656" width="18" height="17" fill="#5c01a6"/><rect x="45" y="656" width="17" height="17" fill="#8104a7"/><rect x="62" y="656" width="17" height="17" fill="#9410a2"/><rect x="79" y="656" width="17" height="17" fill="#6e00a8"/><rect x="96" y="656" width="18" height="17" fill="#2f0596"/><rect x="114" y="656" width="17" height="17" fill="#9a169f"/><rect x="131" y="656" width="17" height="17" fill="#d35171"/><rect x="148" y="656" width="17" height="17" fill="#ed7a52"/><rect x="165" y="656" width="18" height="17" fill="#fba139"/><rect x="183" y="656" width="17" height="17" fill="#c6417d"/><rect x="200" y="656" width="17" height="17" fill="#5e01a6"/><rect x="217" y="656" width="17" height="17" fill="#ea7457"/><rect x="234" y="656" width="18" height="17" fill="#f9983e"/><rect x="252" y="656" width="16" height="17" fill="#f3874a"/><rect x="11" y="673" width="16" height="17" fill="#46039f"/><rect x="27" y="673" width="18" height="17" fill="#5c01a6"/><rect x="45" y="673" width="17" height="17" fill="#3f049c"/><rect x="62" y="673" width="17" height="17" fill="#6600a7"/><rect x="79" y="673" width="17" height="17" fill="#df6263"/><rect x="96" y="673" width="18" height="17" fill="#b12a90"/><rect x="114" y="673" width="17" height="17" fill="#b12a90"/><rect x="131" y="673" width="17" height="17" fill="#e97257"/><rect x="148" y="673" width="17" height="17" fill="#bd3786"/><rect x="165" y="673" width="18" height="17" fill="#febb2b"/><rect x="183" y="673" width="17" height="17" fill="#f79342"/><rect x="200" y="673" width="17" height="17" fill="#c13b82"/><rect x="217" y="673" width="17" height="17" fill="#e56a5d"/><rect x="234" y="673" width="18" height="17" fill="#e16462"/><rect x="252" y="673" width="16" height="17" fill="#d04d73"/><rect x="11" y="690" width="16" height="17" fill="#8606a6"/><rect x="27" y="690" width="18" height="17" fill="#0d0887"/><rect x="45" y="690" width="17" height="17" fill="#3a049a"/><rect x="62" y="690" width="17" height="17" fill="#9613a1"/><rect x="79" y="690" width="17" height="17" fill="#df6263"/><rect x="96" y="690" width="18" height="17" fill="#d9586a"/><rect x="114" y="690" width="17" height="17" fill="#b7318a"/><rect x="131" y="690" width="17" height="17" fill="#a21d9a"/><rect x="148" y="690" width="17" height="17" fill="#f07f4f"/><rect x="165" y="690" width="18" height="17" fill="#f9dc24"/><rect x="183" y="690" width="17" height="17" fill="#9e199d"/><rect x="200" y="690" width="17" height="17" fill="#ce4b75"/><rect x="217" y="690" width="17" height="17" fill="#e3685f"/><rect x="234" y="690" width="18" height="17" fill="#dc5d67"/><rect x="252" y="690" width="16" height="17" fill="#bf3984"/><rect x="11" y="707" width="16" height="18" fill="#d04d73"/><rect x="27" y="707" width="18" height="18" fill="#6e00a8"/><rect x="45" y="707" width="17" height="18" fill="#7201a8"/><rect x="62" y="707" width="17" height="18" fill="#c13b82"/><rect x="79" y="707" width="17" height="18" fill="#c6417d"/><rect x="96" y="707" width="18" height="18" fill="#6a00a8"/><rect x="114" y="707" width="17" height="18" fill="#bc3587"/><rect x="131" y="707" width="17" height="18" fill="#d5536f"/><rect x="148" y="707" width="17" height="18" fill="#eeeeee"/><rect x="165" y="707" width="18" height="18" fill="#fdac33"/><rect x="183" y="707" width="17" height="18" fill="#fdab33"/><rect x="200" y="707" width="17" height="18" fill="#ca457a"/><rect x="217" y="707" width="17" height="18" fill="#fdac33"/><rect x="234" y="707" width="18" height="18" fill="#d35171"/><rect x="252" y="707" width="16" height="18" fill="#cc4977"/><rect x="11" y="725" width="16" height="17" fill="#5601a4"/><rect x="27" y="725" width="18" height="17" fill="#3a049a"/><rect x="45" y="725" width="17" height="17" fill="#6e00a8"/><rect x="62" y="725" width="17" height="17" fill="#b02991"/><rect x="79" y="725" width="17" height="17" fill="#ad2793"/><rect x="96" y="725" width="18" height="17" fill="#5e01a6"/><rect x="114" y="725" width="17" height="17" fill="#6300a7"/><rect x="131" y="725" width="17" height="17" fill="#bf3984"/><rect x="148" y="725" width="17" height="17" fill="#f79342"/><rect x="165" y="725" width="18" height="17" fill="#f58c46"/><rect x="183" y="725" width="17" height="17" fill="#eb7655"/><rect x="200" y="725" width="17" height="17" fill="#8f0da4"/><rect x="217" y="725" width="17" height="17" fill="#c33d80"/><rect x="234" y="725" width="18" height="17" fill="#bc3587"/><rect x="252" y="725" width="16" height="17" fill="#df6263"/><rect x="11" y="742" width="16" height="17" fill="#9410a2"/><rect x="27" y="742" width="18" height="17" fill="#8104a7"/><rect x="45" y="742" width="17" height="17" fill="#5601a4"/><rect x="62" y="742" width="17" height="17" fill="#6a00a8"/><rect x="79" y="742" width="17" height="17" fill="#9410a2"/><rect x="96" y="742" width="18" height="17" fill="#9c179e"/><rect x="114" y="742" width="17" height="17" fill="#260591"/><rect x="131" y="742" width="17" height="17" fill="#8f0da4"/><rect x="148" y="742" width="17" height="17" fill="#dc5d67"/><rect x="165" y="742" width="18" height="17" fill="#dd5e66"/><rect x="183" y="742" width="17" height="17" fill="#6300a7"/><rect x="200" y="742" width="17" height="17" fill="#ad2793"/><rect x="217" y="742" width="17" height="17" fill="#ad2793"/><rect x="234" y="742" width="18" height="17" fill="#c8437b"/><rect x="252" y="742" width="16" height="17" fill="#b12a90"/><rect x="11" y="759" width="16" height="17" fill="#8808a6"/><rect x="27" y="759" width="18" height="17" fill="#3a049a"/><rect x="45" y="759" width="17" height="17" fill="#aa2395"/><rect x="62" y="759" width="17" height="17" fill="#aa2395"/><rect x="79" y="759" width="17" height="17" fill="#7201a8"/><rect x="96" y="759" width="18" height="17" fill="#6e00a8"/><rect x="114" y="759" width="17" height="17" fill="#3a049a"/><rect x="131" y="759" width="17" height="17" fill="#a11b9b"/><rect x="148" y="759" width="17" height="17" fill="#c13b82"/><rect x="165" y="759" width="18" height="17" fill="#8104a7"/><rect x="183" y="759" width="17" height="17" fill="#b52f8c"/><rect x="200" y="759" width="17" height="17" fill="#8808a6"/><rect x="217" y="759" width="17" height="17" fill="#8808a6"/><rect x="234" y="759" width="18" height="17" fill="#a21d9a"/><rect x="252" y="759" width="16" height="17" fill="#a11b9b"/><rect x="11" y="776" width="16" height="18" fill="#8004a8"/><rect x="27" y="776" width="18" height="18" fill="#5c01a6"/><rect x="45" y="776" width="17" height="18" fill="#b7318a"/><rect x="62" y="776" width="17" height="18" fill="#b32c8e"/><rect x="79" y="776" width="17" height="18" fill="#8004a8"/><rect x="96" y="776" width="18" height="18" fill="#6a00a8"/><rect x="114" y="776" width="17" height="18" fill="#8004a8"/><rect x="131" y="776" width="17" height="18" fill="#bc3587"/><rect x="148" y="776" width="17" height="18" fill="#6e00a8"/><rect x="165" y="776" width="18" height="18" fill="#6600a7"/><rect x="183" y="776" width="17" height="18" fill="#6a00a8"/><rect x="200" y="776" width="17" height="18" fill="#7801a8"/><rect x="217" y="776" width="17" height="18" fill="#c9447a"/><rect x="234" y="776" width="18" height="18" fill="#8e0ca4"/><rect x="252" y="776" width="16" height="18" fill="#e66c5c"/><rect x="11" y="794" width="16" height="17" fill="#5002a2"/><rect x="27" y="794" width="18" height="17" fill="#3a049a"/><rect x="45" y="794" width="17" height="17" fill="#a72197"/><rect x="62" y="794" width="17" height="17" fill="#8e0ca4"/><rect x="79" y="794" width="17" height="17" fill="#260591"/><rect x="96" y="794" width="18" height="17" fill="#5002a2"/><rect x="114" y="794" width="17" height="17" fill="#8a09a5"/><rect x="131" y="794" width="17" height="17" fill="#6e00a8"/><rect x="148" y="794" width="17" height="17" fill="#7201a8"/><rect x="165" y="794" width="18" height="17" fill="#8e0ca4"/><rect x="183" y="794" width="17" height="17" fill="#ab2494"/><rect x="200" y="794" width="17" height="17" fill="#aa2395"/><rect x="217" y="794" width="17" height="17" fill="#cc4778"/><rect x="234" y="794" width="18" height="17" fill="#b32c8e"/><rect x="252" y="794" width="16" height="17" fill="#d6556d"/><rect x="11" y="811" width="16" height="17" fill="#280592"/><rect x="27" y="811" width="18" height="17" fill="#8004a8"/><rect x="45" y="811" width="17" height="17" fill="#3a049a"/><rect x="62" y="811" width="17" height="17" fill="#6600a7"/><rect x="79" y="811" width="17" height="17" fill="#5c01a6"/><rect x="96" y="811" width="18" height="17" fill="#5002a2"/><rect x="114" y="811" width="17" height="17" fill="#6a00a8"/><rect x="131" y="811" width="17" height="17" fill="#5801a4"/><rect x="148" y="811" width="17" height="17" fill="#6e00a8"/><rect x="165" y="811" width="18" height="17" fill="#7501a8"/><rect x="183" y="811" width="17" height="17" fill="#6300a7"/><rect x="200" y="811" width="17" height="17" fill="#8004a8"/><rect x="217" y="811" width="17" height="17" fill="#b7318a"/><rect x="234" y="811" width="18" height="17" fill="#b12a90"/><rect x="252" y="811" width="16" height="17" fill="#e76e5b"/><rect x="11" y="828" width="16" height="18" fill="#43039e"/><rect x="27" y="828" width="18" height="18" fill="#9a169f"/><rect x="45" y="828" width="17" height="18" fill="#8e0ca4"/><rect x="62" y="828" width="17" height="18" fill="#6001a6"/><rect x="79" y="828" width="17" height="18" fill="#5c01a6"/><rect x="96" y="828" width="18" height="18" fill="#6700a8"/><rect x="114" y="828" width="17" height="18" fill="#6e00a8"/><rect x="131" y="828" width="17" height="18" fill="#3f049c"/><rect x="148" y="828" width="17" height="18" fill="#9a169f"/><rect x="165" y="828" width="18" height="18" fill="#7a02a8"/><rect x="183" y="828" width="17" height="18" fill="#6e00a8"/><rect x="200" y="828" width="17" height="18" fill="#8004a8"/><rect x="217" y="828" width="17" height="18" fill="#8104a7"/><rect x="234" y="828" width="18" height="18" fill="#9e199d"/><rect x="252" y="828" width="16" height="18" fill="#bf3984"/><rect x="11" y="846" width="16" height="17" fill="#9410a2"/><rect x="27" y="846" width="18" height="17" fill="#5c01a6"/><rect x="45" y="846" width="17" height="17" fill="#2a0593"/><rect x="62" y="846" width="17" height="17" fill="#8305a7"/><rect x="79" y="846" width="17" height="17" fill="#6c00a8"/><rect x="96" y="846" width="18" height="17" fill="#8e0ca4"/><rect x="114" y="846" width="17" height="17" fill="#8f0da4"/><rect x="131" y="846" width="17" height="17" fill="#c13b82"/><rect x="148" y="846" width="17" height="17" fill="#e66c5c"/><rect x="165" y="846" width="18" height="17" fill="#b52f8c"/><rect x="183" y="846" width="17" height="17" fill="#8f0da4"/><rect x="200" y="846" width="17" height="17" fill="#a11b9b"/><rect x="217" y="846" width="17" height="17" fill="#8f0da4"/><rect x="234" y="846" width="18" height="17" fill="#8e0ca4"/><rect x="252" y="846" width="16" height="17" fill="#ba3388"/><rect x="11" y="863" width="16" height="17" fill="#b7318a"/><rect x="27" y="863" width="18" height="17" fill="#1b068d"/><rect x="45" y="863" width="17" height="17" fill="#ba3388"/><rect x="62" y="863" width="17" height="17" fill="#a11b9b"/><rect x="79" y="863" width="17" height="17" fill="#7501a8"/><rect x="96" y="863" width="18" height="17" fill="#a72197"/><rect x="114" y="863" width="17" height="17" fill="#8004a8"/><rect x="131" y="863" width="17" height="17" fill="#bf3984"/><rect x="148" y="863" width="17" height="17" fill="#c6417d"/><rect x="165" y="863" width="18" height="17" fill="#c33d80"/><rect x="183" y="863" width="17" height="17" fill="#e76e5b"/><rect x="200" y="863" width="17" height="17" fill="#bf3984"/><rect x="217" y="863" width="17" height="17" fill="#7a02a8"/><rect x="234" y="863" width="18" height="17" fill="#5c01a6"/><rect x="252" y="863" width="16" height="17" fill="#ba3388"/></g>
<path class="x" d="M47.8 624.9l11.8 11.8m-11.8 0l11.8 -11.8M64.9 624.9l11.8 11.8m-11.8 0l11.8 -11.8M82.1 624.9l11.8 11.8m-11.8 0l11.8 -11.8M99.3 624.9l11.8 11.8m-11.8 0l11.8 -11.8M116.5 624.9l11.8 11.8m-11.8 0l11.8 -11.8M133.8 624.9l11.8 11.8m-11.8 0l11.8 -11.8M168.2 624.9l11.8 11.8m-11.8 0l11.8 -11.8M185.3 624.9l11.8 11.8m-11.8 0l11.8 -11.8M202.5 624.9l11.8 11.8m-11.8 0l11.8 -11.8M30.5 642.0l11.8 11.8m-11.8 0l11.8 -11.8M47.8 642.0l11.8 11.8m-11.8 0l11.8 -11.8M82.1 642.0l11.8 11.8m-11.8 0l11.8 -11.8M150.9 642.0l11.8 11.8m-11.8 0l11.8 -11.8M13.3 659.2l11.8 11.8m-11.8 0l11.8 -11.8M30.5 659.2l11.8 11.8m-11.8 0l11.8 -11.8M64.9 659.2l11.8 11.8m-11.8 0l11.8 -11.8M82.1 659.2l11.8 11.8m-11.8 0l11.8 -11.8M99.3 659.2l11.8 11.8m-11.8 0l11.8 -11.8M150.9 659.2l11.8 11.8m-11.8 0l11.8 -11.8M168.2 659.2l11.8 11.8m-11.8 0l11.8 -11.8M219.8 659.2l11.8 11.8m-11.8 0l11.8 -11.8M185.3 676.5l11.8 11.8m-11.8 0l11.8 -11.8M13.3 693.6l11.8 11.8m-11.8 0l11.8 -11.8M99.3 693.6l11.8 11.8m-11.8 0l11.8 -11.8M150.9 693.6l11.8 11.8m-11.8 0l11.8 -11.8M168.2 693.6l11.8 11.8m-11.8 0l11.8 -11.8M254.1 693.6l11.8 11.8m-11.8 0l11.8 -11.8M82.1 710.9l11.8 11.8m-11.8 0l11.8 -11.8M116.5 710.9l11.8 11.8m-11.8 0l11.8 -11.8M133.8 710.9l11.8 11.8m-11.8 0l11.8 -11.8M219.8 710.9l11.8 11.8m-11.8 0l11.8 -11.8M47.8 728.0l11.8 11.8m-11.8 0l11.8 -11.8M13.3 745.2l11.8 11.8m-11.8 0l11.8 -11.8M99.3 745.2l11.8 11.8m-11.8 0l11.8 -11.8M168.2 745.2l11.8 11.8m-11.8 0l11.8 -11.8M133.8 762.4l11.8 11.8m-11.8 0l11.8 -11.8M202.5 762.4l11.8 11.8m-11.8 0l11.8 -11.8M13.3 779.6l11.8 11.8m-11.8 0l11.8 -11.8M219.8 779.6l11.8 11.8m-11.8 0l11.8 -11.8M133.8 796.9l11.8 11.8m-11.8 0l11.8 -11.8M150.9 796.9l11.8 11.8m-11.8 0l11.8 -11.8M185.3 796.9l11.8 11.8m-11.8 0l11.8 -11.8M219.8 796.9l11.8 11.8m-11.8 0l11.8 -11.8M236.9 796.9l11.8 11.8m-11.8 0l11.8 -11.8M13.3 814.0l11.8 11.8m-11.8 0l11.8 -11.8M30.5 814.0l11.8 11.8m-11.8 0l11.8 -11.8M254.1 814.0l11.8 11.8m-11.8 0l11.8 -11.8M82.1 831.2l11.8 11.8m-11.8 0l11.8 -11.8M116.5 831.2l11.8 11.8m-11.8 0l11.8 -11.8M185.3 831.2l11.8 11.8m-11.8 0l11.8 -11.8M13.3 848.4l11.8 11.8m-11.8 0l11.8 -11.8"/>
<rect class="f" x="10.5" y="622.5" width="258.0" height="258.0"/>
<text class="t" x="139.5" y="613.8" textLength="75.0" lengthAdjust="spacingAndGlyphs">Turn-on</text>
<g shape-rendering="crispEdges"><rect x="307" y="623" width="16" height="15" fill="#280592"/><rect x="323" y="623" width="18" height="15" fill="#8d0ba5"/><rect x="341" y="623" width="17" height="15" fill="#9410a2"/><rect x="358" y="623" width="17" height="15" fill="#df6263"/><rect x="375" y="623" width="17" height="15" fill="#fa9c3c"/><rect x="392" y="623" width="18" height="15" fill="#fa9e3b"/><rect x="410" y="623" width="17" height="15" fill="#f89540"/><rect x="427" y="623" width="17" height="15" fill="#e16462"/><rect x="444" y="623" width="17" height="15" fill="#b12a90"/><rect x="461" y="623" width="18" height="15" fill="#d04d73"/><rect x="479" y="623" width="17" height="15" fill="#d04d73"/><rect x="496" y="623" width="17" height="15" fill="#e16462"/><rect x="513" y="623" width="17" height="15" fill="#f89540"/><rect x="530" y="623" width="18" height="15" fill="#feba2c"/><rect x="548" y="623" width="17" height="15" fill="#f0f921"/><rect x="307" y="638" width="16" height="18" fill="#8d0ba5"/><rect x="323" y="638" width="18" height="18" fill="#8808a6"/><rect x="341" y="638" width="17" height="18" fill="#6300a7"/><rect x="358" y="638" width="17" height="18" fill="#8808a6"/><rect x="375" y="638" width="17" height="18" fill="#d04d73"/><rect x="392" y="638" width="18" height="18" fill="#b12a90"/><rect x="410" y="638" width="17" height="18" fill="#c13b82"/><rect x="427" y="638" width="17" height="18" fill="#8d0ba5"/><rect x="444" y="638" width="17" height="18" fill="#9a169f"/><rect x="461" y="638" width="18" height="18" fill="#8606a6"/><rect x="479" y="638" width="17" height="18" fill="#9613a1"/><rect x="496" y="638" width="17" height="18" fill="#dd5e66"/><rect x="513" y="638" width="17" height="18" fill="#dd5e66"/><rect x="530" y="638" width="18" height="18" fill="#d04d73"/><rect x="548" y="638" width="17" height="18" fill="#fdae32"/><rect x="307" y="656" width="16" height="17" fill="#2f0596"/><rect x="323" y="656" width="18" height="17" fill="#5c01a6"/><rect x="341" y="656" width="17" height="17" fill="#8104a7"/><rect x="358" y="656" width="17" height="17" fill="#9410a2"/><rect x="375" y="656" width="17" height="17" fill="#6e00a8"/><rect x="392" y="656" width="18" height="17" fill="#2f0596"/><rect x="410" y="656" width="17" height="17" fill="#9a169f"/><rect x="427" y="656" width="17" height="17" fill="#d35171"/><rect x="444" y="656" width="17" height="17" fill="#ed7a52"/><rect x="461" y="656" width="18" height="17" fill="#fba139"/><rect x="479" y="656" width="17" height="17" fill="#c6417d"/><rect x="496" y="656" width="17" height="17" fill="#5e01a6"/><rect x="513" y="656" width="17" height="17" fill="#ea7457"/><rect x="530" y="656" width="18" height="17" fill="#f9983e"/><rect x="548" y="656" width="17" height="17" fill="#f3874a"/><rect x="307" y="673" width="16" height="17" fill="#46039f"/><rect x="323" y="673" width="18" height="17" fill="#5c01a6"/><rect x="341" y="673" width="17" height="17" fill="#3f049c"/><rect x="358" y="673" width="17" height="17" fill="#6600a7"/><rect x="375" y="673" width="17" height="17" fill="#df6263"/><rect x="392" y="673" width="18" height="17" fill="#b12a90"/><rect x="410" y="673" width="17" height="17" fill="#b12a90"/><rect x="427" y="673" width="17" height="17" fill="#e97257"/><rect x="444" y="673" width="17" height="17" fill="#bd3786"/><rect x="461" y="673" width="18" height="17" fill="#febb2b"/><rect x="479" y="673" width="17" height="17" fill="#f79342"/><rect x="496" y="673" width="17" height="17" fill="#c13b82"/><rect x="513" y="673" width="17" height="17" fill="#e56a5d"/><rect x="530" y="673" width="18" height="17" fill="#e16462"/><rect x="548" y="673" width="17" height="17" fill="#d04d73"/><rect x="307" y="690" width="16" height="17" fill="#8606a6"/><rect x="323" y="690" width="18" height="17" fill="#0d0887"/><rect x="341" y="690" width="17" height="17" fill="#3a049a"/><rect x="358" y="690" width="17" height="17" fill="#9613a1"/><rect x="375" y="690" width="17" height="17" fill="#df6263"/><rect x="392" y="690" width="18" height="17" fill="#d9586a"/><rect x="410" y="690" width="17" height="17" fill="#b7318a"/><rect x="427" y="690" width="17" height="17" fill="#a21d9a"/><rect x="444" y="690" width="17" height="17" fill="#f07f4f"/><rect x="461" y="690" width="18" height="17" fill="#f9dc24"/><rect x="479" y="690" width="17" height="17" fill="#9e199d"/><rect x="496" y="690" width="17" height="17" fill="#ce4b75"/><rect x="513" y="690" width="17" height="17" fill="#e3685f"/><rect x="530" y="690" width="18" height="17" fill="#dc5d67"/><rect x="548" y="690" width="17" height="17" fill="#bf3984"/><rect x="307" y="707" width="16" height="18" fill="#d04d73"/><rect x="323" y="707" width="18" height="18" fill="#6e00a8"/><rect x="341" y="707" width="17" height="18" fill="#7201a8"/><rect x="358" y="707" width="17" height="18" fill="#c13b82"/><rect x="375" y="707" width="17" height="18" fill="#c6417d"/><rect x="392" y="707" width="18" height="18" fill="#6a00a8"/><rect x="410" y="707" width="17" height="18" fill="#bc3587"/><rect x="427" y="707" width="17" height="18" fill="#d5536f"/><rect x="444" y="707" width="17" height="18" fill="#eeeeee"/><rect x="461" y="707" width="18" height="18" fill="#fdac33"/><rect x="479" y="707" width="17" height="18" fill="#fdab33"/><rect x="496" y="707" width="17" height="18" fill="#ca457a"/><rect x="513" y="707" width="17" height="18" fill="#fdac33"/><rect x="530" y="707" width="18" height="18" fill="#d35171"/><rect x="548" y="707" width="17" height="18" fill="#cc4977"/><rect x="307" y="725" width="16" height="17" fill="#5601a4"/><rect x="323" y="725" width="18" height="17" fill="#3a049a"/><rect x="341" y="725" width="17" height="17" fill="#6e00a8"/><rect x="358" y="725" width="17" height="17" fill="#b02991"/><rect x="375" y="725" width="17" height="17" fill="#ad2793"/><rect x="392" y="725" width="18" height="17" fill="#5e01a6"/><rect x="410" y="725" width="17" height="17" fill="#6300a7"/><rect x="427" y="725" width="17" height="17" fill="#bf3984"/><rect x="444" y="725" width="17" height="17" fill="#f79342"/><rect x="461" y="725" width="18" height="17" fill="#f58c46"/><rect x="479" y="725" width="17" height="17" fill="#eb7655"/><rect x="496" y="725" width="17" height="17" fill="#8f0da4"/><rect x="513" y="725" width="17" height="17" fill="#c33d80"/><rect x="530" y="725" width="18" height="17" fill="#bc3587"/><rect x="548" y="725" width="17" height="17" fill="#df6263"/><rect x="307" y="742" width="16" height="17" fill="#9410a2"/><rect x="323" y="742" width="18" height="17" fill="#8104a7"/><rect x="341" y="742" width="17" height="17" fill="#5601a4"/><rect x="358" y="742" width="17" height="17" fill="#6a00a8"/><rect x="375" y="742" width="17" height="17" fill="#9410a2"/><rect x="392" y="742" width="18" height="17" fill="#9c179e"/><rect x="410" y="742" width="17" height="17" fill="#260591"/><rect x="427" y="742" width="17" height="17" fill="#8f0da4"/><rect x="444" y="742" width="17" height="17" fill="#dc5d67"/><rect x="461" y="742" width="18" height="17" fill="#dd5e66"/><rect x="479" y="742" width="17" height="17" fill="#6300a7"/><rect x="496" y="742" width="17" height="17" fill="#ad2793"/><rect x="513" y="742" width="17" height="17" fill="#ad2793"/><rect x="530" y="742" width="18" height="17" fill="#c8437b"/><rect x="548" y="742" width="17" height="17" fill="#b12a90"/><rect x="307" y="759" width="16" height="17" fill="#8808a6"/><rect x="323" y="759" width="18" height="17" fill="#3a049a"/><rect x="341" y="759" width="17" height="17" fill="#aa2395"/><rect x="358" y="759" width="17" height="17" fill="#aa2395"/><rect x="375" y="759" width="17" height="17" fill="#7201a8"/><rect x="392" y="759" width="18" height="17" fill="#6e00a8"/><rect x="410" y="759" width="17" height="17" fill="#3a049a"/><rect x="427" y="759" width="17" height="17" fill="#a11b9b"/><rect x="444" y="759" width="17" height="17" fill="#c13b82"/><rect x="461" y="759" width="18" height="17" fill="#8104a7"/><rect x="479" y="759" width="17" height="17" fill="#b52f8c"/><rect x="496" y="759" width="17" height="17" fill="#8808a6"/><rect x="513" y="759" width="17" height="17" fill="#8808a6"/><rect x="530" y="759" width="18" height="17" fill="#a21d9a"/><rect x="548" y="759" width="17" height="17" fill="#a11b9b"/><rect x="307" y="776" width="16" height="18" fill="#8004a8"/><rect x="323" y="776" width="18" height="18" fill="#5c01a6"/><rect x="341" y="776" width="17" height="18" fill="#b7318a"/><rect x="358" y="776" width="17" height="18" fill="#b32c8e"/><rect x="375" y="776" width="17" height="18" fill="#8004a8"/><rect x="392" y="776" width="18" height="18" fill="#6a00a8"/><rect x="410" y="776" width="17" height="18" fill="#8004a8"/><rect x="427" y="776" width="17" height="18" fill="#bc3587"/><rect x="444" y="776" width="17" height="18" fill="#6e00a8"/><rect x="461" y="776" width="18" height="18" fill="#6600a7"/><rect x="479" y="776" width="17" height="18" fill="#6a00a8"/><rect x="496" y="776" width="17" height="18" fill="#7801a8"/><rect x="513" y="776" width="17" height="18" fill="#c9447a"/><rect x="530" y="776" width="18" height="18" fill="#8e0ca4"/><rect x="548" y="776" width="17" height="18" fill="#e66c5c"/><rect x="307" y="794" width="16" height="17" fill="#5002a2"/><rect x="323" y="794" width="18" height="17" fill="#3a049a"/><rect x="341" y="794" width="17" height="17" fill="#a72197"/><rect x="358" y="794" width="17" height="17" fill="#8e0ca4"/><rect x="375" y="794" width="17" height="17" fill="#260591"/><rect x="392" y="794" width="18" height="17" fill="#5002a2"/><rect x="410" y="794" width="17" height="17" fill="#8a09a5"/><rect x="427" y="794" width="17" height="17" fill="#6e00a8"/><rect x="444" y="794" width="17" height="17" fill="#7201a8"/><rect x="461" y="794" width="18" height="17" fill="#8e0ca4"/><rect x="479" y="794" width="17" height="17" fill="#ab2494"/><rect x="496" y="794" width="17" height="17" fill="#aa2395"/><rect x="513" y="794" width="17" height="17" fill="#cc4778"/><rect x="530" y="794" width="18" height="17" fill="#b32c8e"/><rect x="548" y="794" width="17" height="17" fill="#d6556d"/><rect x="307" y="811" width="16" height="17" fill="#280592"/><rect x="323" y="811" width="18" height="17" fill="#8004a8"/><rect x="341" y="811" width="17" height="17" fill="#3a049a"/><rect x="358" y="811" width="17" height="17" fill="#6600a7"/><rect x="375" y="811" width="17" height="17" fill="#5c01a6"/><rect x="392" y="811" width="18" height="17" fill="#5002a2"/><rect x="410" y="811" width="17" height="17" fill="#6a00a8"/><rect x="427" y="811" width="17" height="17" fill="#5801a4"/><rect x="444" y="811" width="17" height="17" fill="#6e00a8"/><rect x="461" y="811" width="18" height="17" fill="#7501a8"/><rect x="479" y="811" width="17" height="17" fill="#6300a7"/><rect x="496" y="811" width="17" height="17" fill="#8004a8"/><rect x="513" y="811" width="17" height="17" fill="#b7318a"/><rect x="530" y="811" width="18" height="17" fill="#b12a90"/><rect x="548" y="811" width="17" height="17" fill="#e76e5b"/><rect x="307" y="828" width="16" height="18" fill="#43039e"/><rect x="323" y="828" width="18" height="18" fill="#9a169f"/><rect x="341" y="828" width="17" height="18" fill="#8e0ca4"/><rect x="358" y="828" width="17" height="18" fill="#6001a6"/><rect x="375" y="828" width="17" height="18" fill="#5c01a6"/><rect x="392" y="828" width="18" height="18" fill="#6700a8"/><rect x="410" y="828" width="17" height="18" fill="#6e00a8"/><rect x="427" y="828" width="17" height="18" fill="#3f049c"/><rect x="444" y="828" width="17" height="18" fill="#9a169f"/><rect x="461" y="828" width="18" height="18" fill="#7a02a8"/><rect x="479" y="828" width="17" height="18" fill="#6e00a8"/><rect x="496" y="828" width="17" height="18" fill="#8004a8"/><rect x="513" y="828" width="17" height="18" fill="#8104a7"/><rect x="530" y="828" width="18" height="18" fill="#9e199d"/><rect x="548" y="828" width="17" height="18" fill="#bf3984"/><rect x="307" y="846" width="16" height="17" fill="#9410a2"/><rect x="323" y="846" width="18" height="17" fill="#5c01a6"/><rect x="341" y="846" width="17" height="17" fill="#2a0593"/><rect x="358" y="846" width="17" height="17" fill="#8305a7"/><rect x="375" y="846" width="17" height="17" fill="#6c00a8"/><rect x="392" y="846" width="18" height="17" fill="#8e0ca4"/><rect x="410" y="846" width="17" height="17" fill="#8f0da4"/><rect x="427" y="846" width="17" height="17" fill="#c13b82"/><rect x="444" y="846" width="17" height="17" fill="#e66c5c"/><rect x="461" y="846" width="18" height="17" fill="#b52f8c"/><rect x="479" y="846" width="17" height="17" fill="#8f0da4"/><rect x="496" y="846" width="17" height="17" fill="#a11b9b"/><rect x="513" y="846" width="17" height="17" fill="#8f0da4"/><rect x="530" y="846" width="18" height="17" fill="#8e0ca4"/><rect x="548" y="846" width="17" height="17" fill="#ba3388"/><rect x="307" y="863" width="16" height="17" fill="#b7318a"/><rect x="323" y="863" width="18" height="17" fill="#1b068d"/><rect x="341" y="863" width="17" height="17" fill="#ba3388"/><rect x="358" y="863" width="17" height="17" fill="#a11b9b"/><rect x="375" y="863" width="17" height="17" fill="#7501a8"/><rect x="392" y="863" width="18" height="17" fill="#a72197"/><rect x="410" y="863" width="17" height="17" fill="#8004a8"/><rect x="427" y="863" width="17" height="17" fill="#bf3984"/><rect x="444" y="863" width="17" height="17" fill="#c6417d"/><rect x="461" y="863" width="18" height="17" fill="#c33d80"/><rect x="479" y="863" width="17" height="17" fill="#e76e5b"/><rect x="496" y="863" width="17" height="17" fill="#bf3984"/><rect x="513" y="863" width="17" height="17" fill="#7a02a8"/><rect x="530" y="863" width="18" height="17" fill="#5c01a6"/><rect x="548" y="863" width="17" height="17" fill="#ba3388"/></g>
<path class="x" d="M343.8 624.9l11.8 11.8m-11.8 0l11.8 -11.8M395.4 624.9l11.8 11.8m-11.8 0l11.8 -11.8M464.1 624.9l11.8 11.8m-11.8 0l11.8 -11.8M481.4 624.9l11.8 11.8m-11.8 0l11.8 -11.8M515.8 624.9l11.8 11.8m-11.8 0l11.8 -11.8M395.4 642.0l11.8 11.8m-11.8 0l11.8 -11.8M464.1 642.0l11.8 11.8m-11.8 0l11.8 -11.8M481.4 642.0l11.8 11.8m-11.8 0l11.8 -11.8M498.5 642.0l11.8 11.8m-11.8 0l11.8 -11.8M550.1 642.0l11.8 11.8m-11.8 0l11.8 -11.8M326.6 659.2l11.8 11.8m-11.8 0l11.8 -11.8M429.8 659.2l11.8 11.8m-11.8 0l11.8 -11.8M464.1 659.2l11.8 11.8m-11.8 0l11.8 -11.8M515.8 659.2l11.8 11.8m-11.8 0l11.8 -11.8M550.1 659.2l11.8 11.8m-11.8 0l11.8 -11.8M309.4 676.5l11.8 11.8m-11.8 0l11.8 -11.8M378.1 676.5l11.8 11.8m-11.8 0l11.8 -11.8M464.1 676.5l11.8 11.8m-11.8 0l11.8 -11.8M481.4 676.5l11.8 11.8m-11.8 0l11.8 -11.8M498.5 676.5l11.8 11.8m-11.8 0l11.8 -11.8M550.1 676.5l11.8 11.8m-11.8 0l11.8 -11.8M446.9 693.6l11.8 11.8m-11.8 0l11.8 -11.8M464.1 693.6l11.8 11.8m-11.8 0l11.8 -11.8M360.9 710.9l11.8 11.8m-11.8 0l11.8 -11.8M429.8 710.9l11.8 11.8m-11.8 0l11.8 -11.8M464.1 710.9l11.8 11.8m-11.8 0l11.8 -11.8M481.4 710.9l11.8 11.8m-11.8 0l11.8 -11.8M446.9 728.0l11.8 11.8m-11.8 0l11.8 -11.8M515.8 728.0l11.8 11.8m-11.8 0l11.8 -11.8M326.6 745.2l11.8 11.8m-11.8 0l11.8 -11.8M395.4 745.2l11.8 11.8m-11.8 0l11.8 -11.8M446.9 745.2l11.8 11.8m-11.8 0l11.8 -11.8M515.8 745.2l11.8 11.8m-11.8 0l11.8 -11.8M309.4 762.4l11.8 11.8m-11.8 0l11.8 -11.8M412.6 762.4l11.8 11.8m-11.8 0l11.8 -11.8M498.5 762.4l11.8 11.8m-11.8 0l11.8 -11.8M515.8 762.4l11.8 11.8m-11.8 0l11.8 -11.8M550.1 762.4l11.8 11.8m-11.8 0l11.8 -11.8M429.8 779.6l11.8 11.8m-11.8 0l11.8 -11.8M446.9 779.6l11.8 11.8m-11.8 0l11.8 -11.8M515.8 779.6l11.8 11.8m-11.8 0l11.8 -11.8M412.6 796.9l11.8 11.8m-11.8 0l11.8 -11.8M464.1 814.0l11.8 11.8m-11.8 0l11.8 -11.8M515.8 814.0l11.8 11.8m-11.8 0l11.8 -11.8M532.9 814.0l11.8 11.8m-11.8 0l11.8 -11.8M550.1 814.0l11.8 11.8m-11.8 0l11.8 -11.8M412.6 831.2l11.8 11.8m-11.8 0l11.8 -11.8M429.8 831.2l11.8 11.8m-11.8 0l11.8 -11.8M498.5 831.2l11.8 11.8m-11.8 0l11.8 -11.8M515.8 831.2l11.8 11.8m-11.8 0l11.8 -11.8M378.1 848.4l11.8 11.8m-11.8 0l11.8 -11.8M412.6 848.4l11.8 11.8m-11.8 0l11.8 -11.8M446.9 848.4l11.8 11.8m-11.8 0l11.8 -11.8M481.4 848.4l11.8 11.8m-11.8 0l11.8 -11.8M515.8 848.4l11.8 11.8m-11.8 0l11.8 -11.8M412.6 865.6l11.8 11.8m-11.8 0l11.8 -11.8M481.4 865.6l11.8 11.8m-11.8 0l11.8 -11.8M498.5 865.6l11.8 11.8m-11.8 0l11.8 -11.8"/>
<rect class="f" x="306.5" y="622.5" width="259.0" height="258.0"/>
<text class="t" x="436.0" y="613.8" textLength="76.1" lengthAdjust="spacingAndGlyphs">Turn-off</text>
<g shape-rendering="crispEdges"><rect x="603" y="623" width="16" height="15" fill="#280592"/><rect x="619" y="623" width="18" height="15" fill="#8d0ba5"/><rect x="637" y="623" width="17" height="15" fill="#9410a2"/><rect x="654" y="623" width="17" height="15" fill="#df6263"/><rect x="671" y="623" width="17" height="15" fill="#fa9c3c"/><rect x="688" y="623" width="18" height="15" fill="#fa9e3b"/><rect x="706" y="623" width="17" height="15" fill="#f89540"/><rect x="723" y="623" width="17" height="15" fill="#e16462"/><rect x="740" y="623" width="17" height="15" fill="#b12a90"/><rect x="757" y="623" width="18" height="15" fill="#d04d73"/><rect x="775" y="623" width="17" height="15" fill="#d04d73"/><rect x="792" y="623" width="17" height="15" fill="#e16462"/><rect x="809" y="623" width="17" height="15" fill="#f89540"/><rect x="826" y="623" width="18" height="15" fill="#feba2c"/><rect x="844" y="623" width="17" height="15" fill="#f0f921"/><rect x="603" y="638" width="16" height="18" fill="#8d0ba5"/><rect x="619" y="638" width="18" height="18" fill="#8808a6"/><rect x="637" y="638" width="17" height="18" fill="#6300a7"/><rect x="654" y="638" width="17" height="18" fill="#8808a6"/><rect x="671" y="638" width="17" height="18" fill="#d04d73"/><rect x="688" y="638" width="18" height="18" fill="#b12a90"/><rect x="706" y="638" width="17" height="18" fill="#c13b82"/><rect x="723" y="638" width="17" height="18" fill="#8d0ba5"/><rect x="740" y="638" width="17" height="18" fill="#9a169f"/><rect x="757" y="638" width="18" height="18" fill="#8606a6"/><rect x="775" y="638" width="17" height="18" fill="#9613a1"/><rect x="792" y="638" width="17" height="18" fill="#dd5e66"/><rect x="809" y="638" width="17" height="18" fill="#dd5e66"/><rect x="826" y="638" width="18" height="18" fill="#d04d73"/><rect x="844" y="638" width="17" height="18" fill="#fdae32"/><rect x="603" y="656" width="16" height="17" fill="#2f0596"/><rect x="619" y="656" width="18" height="17" fill="#5c01a6"/><rect x="637" y="656" width="17" height="17" fill="#8104a7"/><rect x="654" y="656" width="17" height="17" fill="#9410a2"/><rect x="671" y="656" width="17" height="17" fill="#6e00a8"/><rect x="688" y="656" width="18" height="17" fill="#2f0596"/><rect x="706" y="656" width="17" height="17" fill="#9a169f"/><rect x="723" y="656" width="17" height="17" fill="#d35171"/><rect x="740" y="656" width="17" height="17" fill="#ed7a52"/><rect x="757" y="656" width="18" height="17" fill="#fba139"/><rect x="775" y="656" width="17" height="17" fill="#c6417d"/><rect x="792" y="656" width="17" height="17" fill="#5e01a6"/><rect x="809" y="656" width="17" height="17" fill="#ea7457"/><rect x="826" y="656" width="18" height="17" fill="#f9983e"/><rect x="844" y="656" width="17" height="17" fill="#f3874a"/><rect x="603" y="673" width="16" height="17" fill="#46039f"/><rect x="619" y="673" width="18" height="17" fill="#5c01a6"/><rect x="637" y="673" width="17" height="17" fill="#3f049c"/><rect x="654" y="673" width="17" height="17" fill="#6600a7"/><rect x="671" y="673" width="17" height="17" fill="#df6263"/><rect x="688" y="673" width="18" height="17" fill="#b12a90"/><rect x="706" y="673" width="17" height="17" fill="#b12a90"/><rect x="723" y="673" width="17" height="17" fill="#e97257"/><rect x="740" y="673" width="17" height="17" fill="#bd3786"/><rect x="757" y="673" width="18" height="17" fill="#febb2b"/><rect x="775" y="673" width="17" height="17" fill="#f79342"/><rect x="792" y="673" width="17" height="17" fill="#c13b82"/><rect x="809" y="673" width="17" height="17" fill="#e56a5d"/><rect x="826" y="673" width="18" height="17" fill="#e16462"/><rect x="844" y="673" width="17" height="17" fill="#d04d73"/><rect x="603" y="690" width="16" height="17" fill="#8606a6"/><rect x="619" y="690" width="18" height="17" fill="#0d0887"/><rect x="637" y="690" width="17" height="17" fill="#3a049a"/><rect x="654" y="690" width="17" height="17" fill="#9613a1"/><rect x="671" y="690" width="17" height="17" fill="#df6263"/><rect x="688" y="690" width="18" height="17" fill="#d9586a"/><rect x="706" y="690" width="17" height="17" fill="#b7318a"/><rect x="723" y="690" width="17" height="17" fill="#a21d9a"/><rect x="740" y="690" width="17" height="17" fill="#f07f4f"/><rect x="757" y="690" width="18" height="17" fill="#f9dc24"/><rect x="775" y="690" width="17" height="17" fill="#9e199d"/><rect x="792" y="690" width="17" height="17" fill="#ce4b75"/><rect x="809" y="690" width="17" height="17" fill="#e3685f"/><rect x="826" y="690" width="18" height="17" fill="#dc5d67"/><rect x="844" y="690" width="17" height="17" fill="#bf3984"/><rect x="603" y="707" width="16" height="18" fill="#d04d73"/><rect x="619" y="707" width="18" height="18" fill="#6e00a8"/><rect x="637" y="707" width="17" height="18" fill="#7201a8"/><rect x="654" y="707" width="17" height="18" fill="#c13b82"/><rect x="671" y="707" width="17" height="18" fill="#c6417d"/><rect x="688" y="707" width="18" height="18" fill="#6a00a8"/><rect x="706" y="707" width="17" height="18" fill="#bc3587"/><rect x="723" y="707" width="17" height="18" fill="#d5536f"/><rect x="740" y="707" width="17" height="18" fill="#eeeeee"/><rect x="757" y="707" width="18" height="18" fill="#fdac33"/><rect x="775" y="707" width="17" height="18" fill="#fdab33"/><rect x="792" y="707" width="17" height="18" fill="#ca457a"/><rect x="809" y="707" width="17" height="18" fill="#fdac33"/><rect x="826" y="707" width="18" height="18" fill="#d35171"/><rect x="844" y="707" width="17" height="18" fill="#cc4977"/><rect x="603" y="725" width="16" height="17" fill="#5601a4"/><rect x="619" y="725" width="18" height="17" fill="#3a049a"/><rect x="637" y="725" width="17" height="17" fill="#6e00a8"/><rect x="654" y="725" width="17" height="17" fill="#b02991"/><rect x="671" y="725" width="17" height="17" fill="#ad2793"/><rect x="688" y="725" width="18" height="17" fill="#5e01a6"/><rect x="706" y="725" width="17" height="17" fill="#6300a7"/><rect x="723" y="725" width="17" height="17" fill="#bf3984"/><rect x="740" y="725" width="17" height="17" fill="#f79342"/><rect x="757" y="725" width="18" height="17" fill="#f58c46"/><rect x="775" y="725" width="17" height="17" fill="#eb7655"/><rect x="792" y="725" width="17" height="17" fill="#8f0da4"/><rect x="809" y="725" width="17" height="17" fill="#c33d80"/><rect x="826" y="725" width="18" height="17" fill="#bc3587"/><rect x="844" y="725" width="17" height="17" fill="#df6263"/><rect x="603" y="742" width="16" height="17" fill="#9410a2"/><rect x="619" y="742" width="18" height="17" fill="#8104a7"/><rect x="637" y="742" width="17" height="17" fill="#5601a4"/><rect x="654" y="742" width="17" height="17" fill="#6a00a8"/><rect x="671" y="742" width="17" height="17" fill="#9410a2"/><rect x="688" y="742" width="18" height="17" fill="#9c179e"/><rect x="706" y="742" width="17" height="17" fill="#260591"/><rect x="723" y="742" width="17" height="17" fill="#8f0da4"/><rect x="740" y="742" width="17" height="17" fill="#dc5d67"/><rect x="757" y="742" width="18" height="17" fill="#dd5e66"/><rect x="775" y="742" width="17" height="17" fill="#6300a7"/><rect x="792" y="742" width="17" height="17" fill="#ad2793"/><rect x="809" y="742" width="17" height="17" fill="#ad2793"/><rect x="826" y="742" width="18" height="17" fill="#c8437b"/><rect x="844" y="742" width="17" height="17" fill="#b12a90"/><rect x="603" y="759" width="16" height="17" fill="#8808a6"/><rect x="619" y="759" width="18" height="17" fill="#3a049a"/><rect x="637" y="759" width="17" height="17" fill="#aa2395"/><rect x="654" y="759" width="17" height="17" fill="#aa2395"/><rect x="671" y="759" width="17" height="17" fill="#7201a8"/><rect x="688" y="759" width="18" height="17" fill="#6e00a8"/><rect x="706" y="759" width="17" height="17" fill="#3a049a"/><rect x="723" y="759" width="17" height="17" fill="#a11b9b"/><rect x="740" y="759" width="17" height="17" fill="#c13b82"/><rect x="757" y="759" width="18" height="17" fill="#8104a7"/><rect x="775" y="759" width="17" height="17" fill="#b52f8c"/><rect x="792" y="759" width="17" height="17" fill="#8808a6"/><rect x="809" y="759" width="17" height="17" fill="#8808a6"/><rect x="826" y="759" width="18" height="17" fill="#a21d9a"/><rect x="844" y="759" width="17" height="17" fill="#a11b9b"/><rect x="603" y="776" width="16" height="18" fill="#8004a8"/><rect x="619" y="776" width="18" height="18" fill="#5c01a6"/><rect x="637" y="776" width="17" height="18" fill="#b7318a"/><rect x="654" y="776" width="17" height="18" fill="#b32c8e"/><rect x="671" y="776" width="17" height="18" fill="#8004a8"/><rect x="688" y="776" width="18" height="18" fill="#6a00a8"/><rect x="706" y="776" width="17" height="18" fill="#8004a8"/><rect x="723" y="776" width="17" height="18" fill="#bc3587"/><rect x="740" y="776" width="17" height="18" fill="#6e00a8"/><rect x="757" y="776" width="18" height="18" fill="#6600a7"/><rect x="775" y="776" width="17" height="18" fill="#6a00a8"/><rect x="792" y="776" width="17" height="18" fill="#7801a8"/><rect x="809" y="776" width="17" height="18" fill="#c9447a"/><rect x="826" y="776" width="18" height="18" fill="#8e0ca4"/><rect x="844" y="776" width="17" height="18" fill="#e66c5c"/><rect x="603" y="794" width="16" height="17" fill="#5002a2"/><rect x="619" y="794" width="18" height="17" fill="#3a049a"/><rect x="637" y="794" width="17" height="17" fill="#a72197"/><rect x="654" y="794" width="17" height="17" fill="#8e0ca4"/><rect x="671" y="794" width="17" height="17" fill="#260591"/><rect x="688" y="794" width="18" height="17" fill="#5002a2"/><rect x="706" y="794" width="17" height="17" fill="#8a09a5"/><rect x="723" y="794" width="17" height="17" fill="#6e00a8"/><rect x="740" y="794" width="17" height="17" fill="#7201a8"/><rect x="757" y="794" width="18" height="17" fill="#8e0ca4"/><rect x="775" y="794" width="17" height="17" fill="#ab2494"/><rect x="792" y="794" width="17" height="17" fill="#aa2395"/><rect x="809" y="794" width="17" height="17" fill="#cc4778"/><rect x="826" y="794" width="18" height="17" fill="#b32c8e"/><rect x="844" y="794" width="17" height="17" fill="#d6556d"/><rect x="603" y="811" width="16" height="17" fill="#280592"/><rect x="619" y="811" width="18" height="17" fill="#8004a8"/><rect x="637" y="811" width="17" height="17" fill="#3a049a"/><rect x="654" y="811" width="17" height="17" fill="#6600a7"/><rect x="671" y="811" width="17" height="17" fill="#5c01a6"/><rect x="688" y="811" width="18" height="17" fill="#5002a2"/><rect x="706" y="811" width="17" height="17" fill="#6a00a8"/><rect x="723" y="811" width="17" height="17" fill="#5801a4"/><rect x="740" y="811" width="17" height="17" fill="#6e00a8"/><rect x="757" y="811" width="18" height="17" fill="#7501a8"/><rect x="775" y="811" width="17" height="17" fill="#6300a7"/><rect x="792" y="811" width="17" height="17" fill="#8004a8"/><rect x="809" y="811" width="17" height="17" fill="#b7318a"/><rect x="826" y="811" width="18" height="17" fill="#b12a90"/><rect x="844" y="811" width="17" height="17" fill="#e76e5b"/><rect x="603" y="828" width="16" height="18" fill="#43039e"/><rect x="619" y="828" width="18" height="18" fill="#9a169f"/><rect x="637" y="828" width="17" height="18" fill="#8e0ca4"/><rect x="654" y="828" width="17" height="18" fill="#6001a6"/><rect x="671" y="828" width="17" height="18" fill="#5c01a6"/><rect x="688" y="828" width="18" height="18" fill="#6700a8"/><rect x="706" y="828" width="17" height="18" fill="#6e00a8"/><rect x="723" y="828" width="17" height="18" fill="#3f049c"/><rect x="740" y="828" width="17" height="18" fill="#9a169f"/><rect x="757" y="828" width="18" height="18" fill="#7a02a8"/><rect x="775" y="828" width="17" height="18" fill="#6e00a8"/><rect x="792" y="828" width="17" height="18" fill="#8004a8"/><rect x="809" y="828" width="17" height="18" fill="#8104a7"/><rect x="826" y="828" width="18" height="18" fill="#9e199d"/><rect x="844" y="828" width="17" height="18" fill="#bf3984"/><rect x="603" y="846" width="16" height="17" fill="#9410a2"/><rect x="619" y="846" width="18" height="17" fill="#5c01a6"/><rect x="637" y="846" width="17" height="17" fill="#2a0593"/><rect x="654" y="846" width="17" height="17" fill="#8305a7"/><rect x="671" y="846" width="17" height="17" fill="#6c00a8"/><rect x="688" y="846" width="18" height="17" fill="#8e0ca4"/><rect x="706" y="846" width="17" height="17" fill="#8f0da4"/><rect x="723" y="846" width="17" height="17" fill="#c13b82"/><rect x="740" y="846" width="17" height="17" fill="#e66c5c"/><rect x="757" y="846" width="18" height="17" fill="#b52f8c"/><rect x="775" y="846" width="17" height="17" fill="#8f0da4"/><rect x="792" y="846" width="17" height="17" fill="#a11b9b"/><rect x="809" y="846" width="17" height="17" fill="#8f0da4"/><rect x="826" y="846" width="18" height="17" fill="#8e0ca4"/><rect x="844" y="846" width="17" height="17" fill="#ba3388"/><rect x="603" y="863" width="16" height="17" fill="#b7318a"/><rect x="619" y="863" width="18" height="17" fill="#1b068d"/><rect x="637" y="863" width="17" height="17" fill="#ba3388"/><rect x="654" y="863" width="17" height="17" fill="#a11b9b"/><rect x="671" y="863" width="17" height="17" fill="#7501a8"/><rect x="688" y="863" width="18" height="17" fill="#a72197"/><rect x="706" y="863" width="17" height="17" fill="#8004a8"/><rect x="723" y="863" width="17" height="17" fill="#bf3984"/><rect x="740" y="863" width="17" height="17" fill="#c6417d"/><rect x="757" y="863" width="18" height="17" fill="#c33d80"/><rect x="775" y="863" width="17" height="17" fill="#e76e5b"/><rect x="792" y="863" width="17" height="17" fill="#bf3984"/><rect x="809" y="863" width="17" height="17" fill="#7a02a8"/><rect x="826" y="863" width="18" height="17" fill="#5c01a6"/><rect x="844" y="863" width="17" height="17" fill="#ba3388"/></g>
<path class="x" d="M828.9 624.9l11.8 11.8m-11.8 0l11.8 -11.8M846.1 624.9l11.8 11.8m-11.8 0l11.8 -11.8M828.9 642.0l11.8 11.8m-11.8 0l11.8 -11.8M846.1 642.0l11.8 11.8m-11.8 0l11.8 -11.8M794.5 659.2l11.8 11.8m-11.8 0l11.8 -11.8M811.8 659.2l11.8 11.8m-11.8 0l11.8 -11.8M828.9 659.2l11.8 11.8m-11.8 0l11.8 -11.8M846.1 659.2l11.8 11.8m-11.8 0l11.8 -11.8M794.5 676.5l11.8 11.8m-11.8 0l11.8 -11.8M828.9 676.5l11.8 11.8m-11.8 0l11.8 -11.8M794.5 693.6l11.8 11.8m-11.8 0l11.8 -11.8M794.5 710.9l11.8 11.8m-11.8 0l11.8 -11.8M777.4 728.0l11.8 11.8m-11.8 0l11.8 -11.8M794.5 728.0l11.8 11.8m-11.8 0l11.8 -11.8M777.4 762.4l11.8 11.8m-11.8 0l11.8 -11.8M777.4 779.6l11.8 11.8m-11.8 0l11.8 -11.8M811.8 779.6l11.8 11.8m-11.8 0l11.8 -11.8M777.4 796.9l11.8 11.8m-11.8 0l11.8 -11.8M846.1 814.0l11.8 11.8m-11.8 0l11.8 -11.8"/>
<rect class="f" x="602.5" y="622.5" width="259.0" height="258.0"/>
<text class="t" x="732.0" y="613.8" textLength="40.3" lengthAdjust="spacingAndGlyphs">TDE</text>
<defs><linearGradient id="cb" x1="0" y1="0" x2="0" y2="1"><stop offset="0.0000" stop-color="#f0f921"/><stop offset="0.0156" stop-color="#f1f426"/><stop offset="0.0312" stop-color="#f4ed27"/><stop offset="0.0469" stop-color="#f6e626"/><stop offset="0.0625" stop-color="#f8df25"/><stop offset="0.0781" stop-color="#fad824"/><stop offset="0.0938" stop-color="#fcd225"/><stop offset="0.1094" stop-color="#fdcb26"/><stop offset="0.1250" stop-color="#fdc527"/><stop offset="0.1406" stop-color="#febe2a"/><stop offset="0.1562" stop-color="#feb82c"/><stop offset="0.1719" stop-color="#fdb22f"/><stop offset="0.1875" stop-color="#fdac33"/><stop offset="0.2031" stop-color="#fca636"/><stop offset="0.2188" stop-color="#fba139"/><stop offset="0.2344" stop-color="#fa9b3d"/><stop offset="0.2500" stop-color="#f89540"/><stop offset="0.2656" stop-color="#f79044"/><stop offset="0.2812" stop-color="#f58b47"/><stop offset="0.2969" stop-color="#f3854b"/><stop offset="0.3125" stop-color="#f0804e"/><stop offset="0.3281" stop-color="#ee7b51"/><stop offset="0.3438" stop-color="#eb7655"/><stop offset="0.3594" stop-color="#e97158"/><stop offset="0.3750" stop-color="#e66c5c"/><stop offset="0.3906" stop-color="#e3685f"/><stop offset="0.4062" stop-color="#e06363"/><stop offset="0.4219" stop-color="#dd5e66"/><stop offset="0.4375" stop-color="#da5a6a"/><stop offset="0.4531" stop-color="#d6556d"/><stop offset="0.4688" stop-color="#d35171"/><stop offset="0.4844" stop-color="#cf4c74"/><stop offset="0.5000" stop-color="#cc4778"/><stop offset="0.5156" stop-color="#c8437b"/><stop offset="0.5312" stop-color="#c43e7f"/><stop offset="0.5469" stop-color="#c03a83"/><stop offset="0.5625" stop-color="#bc3587"/><stop offset="0.5781" stop-color="#b7318a"/><stop offset="0.5938" stop-color="#b32c8e"/><stop offset="0.6094" stop-color="#ae2892"/><stop offset="0.6250" stop-color="#aa2395"/><stop offset="0.6406" stop-color="#a51f99"/><stop offset="0.6562" stop-color="#a01a9c"/><stop offset="0.6719" stop-color="#9a169f"/><stop offset="0.6875" stop-color="#9511a1"/><stop offset="0.7031" stop-color="#8f0da4"/><stop offset="0.7188" stop-color="#8a09a5"/><stop offset="0.7344" stop-color="#8405a7"/><stop offset="0.7500" stop-color="#7e03a8"/><stop offset="0.7656" stop-color="#7801a8"/><stop offset="0.7812" stop-color="#7201a8"/><stop offset="0.7969" stop-color="#6c00a8"/><stop offset="0.8125" stop-color="#6600a7"/><stop offset="0.8281" stop-color="#6001a6"/><stop offset="0.8438" stop-color="#5901a5"/><stop offset="0.8594" stop-color="#5302a3"/><stop offset="0.8750" stop-color="#4c02a1"/><stop offset="0.8906" stop-color="#46039f"/><stop offset="0.9062" stop-color="#3f049c"/><stop offset="0.9219" stop-color="#38049a"/><stop offset="0.9375" stop-color="#310597"/><stop offset="0.9531" stop-color="#2a0593"/><stop offset="0.9688" stop-color="#220690"/><stop offset="0.9844" stop-color="#19068c"/><stop offset="1.0000" stop-color="#0d0887"/></linearGradient></defs>
<rect x="1172.5" y="40.5" width="24.0" height="810.0" fill="url(#cb)"/>
<line x1="1173.0" x2="1191.6" y1="149.5" y2="149.5" stroke="#b8b8b8" stroke-opacity="0.8" stroke-width="0.8" stroke-dasharray="2.57 1.11"/><line x1="1191.6" x2="1196.0" y1="149.5" y2="149.5" stroke="#000" stroke-width="1.1"/><text class="k" x="1201.2" y="155.1" textLength="21.0" lengthAdjust="spacingAndGlyphs">0.8</text>
<line x1="1173.0" x2="1191.6" y1="276.5" y2="276.5" stroke="#b8b8b8" stroke-opacity="0.8" stroke-width="0.8" stroke-dasharray="2.57 1.11"/><line x1="1191.6" x2="1196.0" y1="276.5" y2="276.5" stroke="#000" stroke-width="1.1"/><text class="k" x="1201.2" y="283.0" textLength="21.0" lengthAdjust="spacingAndGlyphs">0.7</text>
<line x1="1173.0" x2="1191.6" y1="404.5" y2="404.5" stroke="#b8b8b8" stroke-opacity="0.8" stroke-width="0.8" stroke-dasharray="2.57 1.11"/><line x1="1191.6" x2="1196.0" y1="404.5" y2="404.5" stroke="#000" stroke-width="1.1"/><text class="k" x="1201.2" y="410.0" textLength="21.0" lengthAdjust="spacingAndGlyphs">0.6</text>
<line x1="1173.0" x2="1191.6" y1="531.5" y2="531.5" stroke="#b8b8b8" stroke-opacity="0.8" stroke-width="0.8" stroke-dasharray="2.57 1.11"/><line x1="1191.6" x2="1196.0" y1="531.5" y2="531.5" stroke="#000" stroke-width="1.1"/><text class="k" x="1201.2" y="537.0" textLength="21.0" lengthAdjust="spacingAndGlyphs">0.5</text>
<line x1="1173.0" x2="1191.6" y1="658.5" y2="658.5" stroke="#b8b8b8" stroke-opacity="0.8" stroke-width="0.8" stroke-dasharray="2.57 1.11"/><line x1="1191.6" x2="1196.0" y1="658.5" y2="658.5" stroke="#000" stroke-width="1.1"/><text class="k" x="1201.2" y="664.0" textLength="21.0" lengthAdjust="spacingAndGlyphs">0.4</text>
<line x1="1173.0" x2="1191.6" y1="785.5" y2="785.5" stroke="#b8b8b8" stroke-opacity="0.8" stroke-width="0.8" stroke-dasharray="2.57 1.11"/><line x1="1191.6" x2="1196.0" y1="785.5" y2="785.5" stroke="#000" stroke-width="1.1"/><text class="k" x="1201.2" y="792.0" textLength="21.0" lengthAdjust="spacingAndGlyphs">0.3</text>
<rect class="f" x="1172.5" y="40.5" width="24.0" height="810.0"/>
<text class="l" transform="translate(1241.3 447) rotate(-90)" textLength="220.3" lengthAdjust="spacingAndGlyphs">Mean Fractional Variability</text>
</svg>
</body></html>
